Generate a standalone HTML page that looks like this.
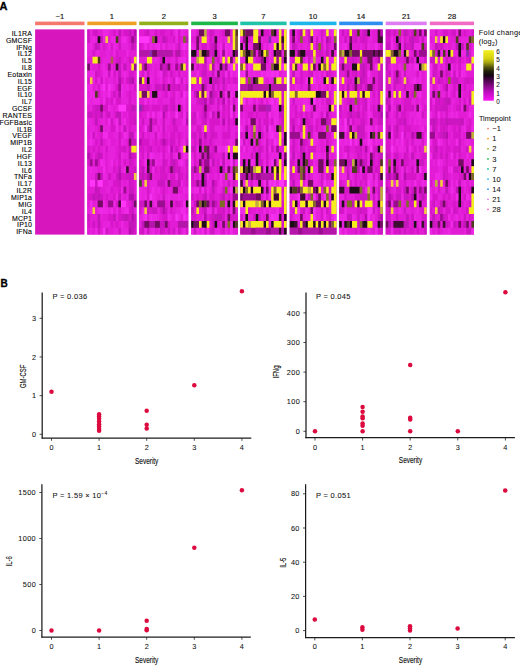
<!DOCTYPE html>
<html><head><meta charset="utf-8"><style>
html,body{margin:0;padding:0;background:#fff;}
svg{display:block;}
text{font-family:"Liberation Sans", sans-serif;}
</style></head><body>
<svg width="520" height="665" viewBox="0 0 520 665" font-family='"Liberation Sans", sans-serif'>
<rect width="520" height="665" fill="#fff"/>
<text x="-0.6" y="9.7" font-size="11" font-weight="bold" stroke="#000" stroke-width="0.3">A</text>
<text x="0.6" y="286.6" font-size="10" font-weight="bold" stroke="#000" stroke-width="0.3">B</text>
<rect x="35.1" y="21.6" width="49.40" height="3.6" fill="#f5786c"/>
<text x="59.80" y="19.0" font-size="7.6" text-anchor="middle" fill="#111" stroke="#111" stroke-width="0.15">−1</text>
<rect x="87.3" y="21.6" width="49.20" height="3.6" fill="#eea025"/>
<text x="111.90" y="19.0" font-size="7.6" text-anchor="middle" fill="#111" stroke="#111" stroke-width="0.15">1</text>
<rect x="139.2" y="21.6" width="49.10" height="3.6" fill="#92b01c"/>
<text x="163.75" y="19.0" font-size="7.6" text-anchor="middle" fill="#111" stroke="#111" stroke-width="0.15">2</text>
<rect x="191.2" y="21.6" width="46.70" height="3.6" fill="#1eb84a"/>
<text x="214.55" y="19.0" font-size="7.6" text-anchor="middle" fill="#111" stroke="#111" stroke-width="0.15">3</text>
<rect x="240.3" y="21.6" width="46.30" height="3.6" fill="#1ec3a8"/>
<text x="263.45" y="19.0" font-size="7.6" text-anchor="middle" fill="#111" stroke="#111" stroke-width="0.15">7</text>
<rect x="289.7" y="21.6" width="46.80" height="3.6" fill="#1db6ea"/>
<text x="313.10" y="19.0" font-size="7.6" text-anchor="middle" fill="#111" stroke="#111" stroke-width="0.15">10</text>
<rect x="339.2" y="21.6" width="43.60" height="3.6" fill="#2e8ef2"/>
<text x="361.00" y="19.0" font-size="7.6" text-anchor="middle" fill="#111" stroke="#111" stroke-width="0.15">14</text>
<rect x="385.7" y="21.6" width="41.00" height="3.6" fill="#de7cf2"/>
<text x="406.20" y="19.0" font-size="7.6" text-anchor="middle" fill="#111" stroke="#111" stroke-width="0.15">21</text>
<rect x="429.8" y="21.6" width="44.20" height="3.6" fill="#f36ac6"/>
<text x="451.90" y="19.0" font-size="7.6" text-anchor="middle" fill="#111" stroke="#111" stroke-width="0.15">28</text>
<text x="32.2" y="35.82" font-size="7.0" letter-spacing="0.2" text-anchor="end" fill="#000" stroke="#000" stroke-width="0.1">IL1RA</text>
<text x="32.2" y="42.66" font-size="7.0" letter-spacing="0.2" text-anchor="end" fill="#000" stroke="#000" stroke-width="0.1">GMCSF</text>
<text x="32.2" y="49.50" font-size="7.0" letter-spacing="0.2" text-anchor="end" fill="#000" stroke="#000" stroke-width="0.1">IFNg</text>
<text x="32.2" y="56.34" font-size="7.0" letter-spacing="0.2" text-anchor="end" fill="#000" stroke="#000" stroke-width="0.1">IL12</text>
<text x="32.2" y="63.18" font-size="7.0" letter-spacing="0.2" text-anchor="end" fill="#000" stroke="#000" stroke-width="0.1">IL5</text>
<text x="32.2" y="70.02" font-size="7.0" letter-spacing="0.2" text-anchor="end" fill="#000" stroke="#000" stroke-width="0.1">IL8</text>
<text x="32.2" y="76.86" font-size="7.0" letter-spacing="0.2" text-anchor="end" fill="#000" stroke="#000" stroke-width="0.1">Eotaxin</text>
<text x="32.2" y="83.70" font-size="7.0" letter-spacing="0.2" text-anchor="end" fill="#000" stroke="#000" stroke-width="0.1">IL15</text>
<text x="32.2" y="90.54" font-size="7.0" letter-spacing="0.2" text-anchor="end" fill="#000" stroke="#000" stroke-width="0.1">EGF</text>
<text x="32.2" y="97.38" font-size="7.0" letter-spacing="0.2" text-anchor="end" fill="#000" stroke="#000" stroke-width="0.1">IL10</text>
<text x="32.2" y="104.22" font-size="7.0" letter-spacing="0.2" text-anchor="end" fill="#000" stroke="#000" stroke-width="0.1">IL7</text>
<text x="32.2" y="111.06" font-size="7.0" letter-spacing="0.2" text-anchor="end" fill="#000" stroke="#000" stroke-width="0.1">GCSF</text>
<text x="32.2" y="117.90" font-size="7.0" letter-spacing="0.2" text-anchor="end" fill="#000" stroke="#000" stroke-width="0.1">RANTES</text>
<text x="32.2" y="124.74" font-size="7.0" letter-spacing="0.2" text-anchor="end" fill="#000" stroke="#000" stroke-width="0.1">FGFBasic</text>
<text x="32.2" y="131.58" font-size="7.0" letter-spacing="0.2" text-anchor="end" fill="#000" stroke="#000" stroke-width="0.1">IL1B</text>
<text x="32.2" y="138.42" font-size="7.0" letter-spacing="0.2" text-anchor="end" fill="#000" stroke="#000" stroke-width="0.1">VEGF</text>
<text x="32.2" y="145.26" font-size="7.0" letter-spacing="0.2" text-anchor="end" fill="#000" stroke="#000" stroke-width="0.1">MIP1B</text>
<text x="32.2" y="152.10" font-size="7.0" letter-spacing="0.2" text-anchor="end" fill="#000" stroke="#000" stroke-width="0.1">IL2</text>
<text x="32.2" y="158.94" font-size="7.0" letter-spacing="0.2" text-anchor="end" fill="#000" stroke="#000" stroke-width="0.1">HGF</text>
<text x="32.2" y="165.78" font-size="7.0" letter-spacing="0.2" text-anchor="end" fill="#000" stroke="#000" stroke-width="0.1">IL13</text>
<text x="32.2" y="172.62" font-size="7.0" letter-spacing="0.2" text-anchor="end" fill="#000" stroke="#000" stroke-width="0.1">IL6</text>
<text x="32.2" y="179.46" font-size="7.0" letter-spacing="0.2" text-anchor="end" fill="#000" stroke="#000" stroke-width="0.1">TNFa</text>
<text x="32.2" y="186.30" font-size="7.0" letter-spacing="0.2" text-anchor="end" fill="#000" stroke="#000" stroke-width="0.1">IL17</text>
<text x="32.2" y="193.14" font-size="7.0" letter-spacing="0.2" text-anchor="end" fill="#000" stroke="#000" stroke-width="0.1">IL2R</text>
<text x="32.2" y="199.98" font-size="7.0" letter-spacing="0.2" text-anchor="end" fill="#000" stroke="#000" stroke-width="0.1">MIP1a</text>
<text x="32.2" y="206.82" font-size="7.0" letter-spacing="0.2" text-anchor="end" fill="#000" stroke="#000" stroke-width="0.1">MIG</text>
<text x="32.2" y="213.66" font-size="7.0" letter-spacing="0.2" text-anchor="end" fill="#000" stroke="#000" stroke-width="0.1">IL4</text>
<text x="32.2" y="220.50" font-size="7.0" letter-spacing="0.2" text-anchor="end" fill="#000" stroke="#000" stroke-width="0.1">MCP1</text>
<text x="32.2" y="227.34" font-size="7.0" letter-spacing="0.2" text-anchor="end" fill="#000" stroke="#000" stroke-width="0.1">IP10</text>
<text x="32.2" y="234.18" font-size="7.0" letter-spacing="0.2" text-anchor="end" fill="#000" stroke="#000" stroke-width="0.1">IFNa</text>
<defs><filter id="hb" x="-2%" y="-2%" width="104%" height="104%"><feGaussianBlur stdDeviation="0.35"/></filter></defs>
<g filter="url(#hb)">
<rect x="35.1" y="29.4" width="49.40" height="205.20" fill="#d719be"/>
<rect x="87.3" y="29.4" width="49.20" height="205.20" fill="#e21cd4"/>
<rect x="139.2" y="29.4" width="49.10" height="205.20" fill="#e21cd4"/>
<rect x="191.2" y="29.4" width="46.70" height="205.20" fill="#e21cd4"/>
<rect x="240.3" y="29.4" width="46.30" height="205.20" fill="#e21cd4"/>
<rect x="289.7" y="29.4" width="46.80" height="205.20" fill="#e21cd4"/>
<rect x="339.2" y="29.4" width="43.60" height="205.20" fill="#e21cd4"/>
<rect x="385.7" y="29.4" width="41.00" height="205.20" fill="#e21cd4"/>
<rect x="429.8" y="29.4" width="44.20" height="205.20" fill="#e21cd4"/>
<path fill="#cc16c1" d="M87.30 29.40h2.59v6.84h-2.59zM95.07 29.40h2.59v6.84h-2.59zM87.30 36.24h2.59v6.84h-2.59zM97.66 43.08h2.59v6.84h-2.59zM118.37 43.08h2.59v6.84h-2.59zM118.37 56.76h2.59v6.84h-2.59zM128.73 56.76h2.59v6.84h-2.59zM118.37 63.60h2.59v6.84h-2.59zM95.07 70.44h2.59v6.84h-2.59zM108.02 70.44h2.59v6.84h-2.59zM100.25 77.28h2.59v6.84h-2.59zM113.19 90.96h2.59v6.84h-2.59zM95.07 104.64h5.18v6.84h-5.18zM133.91 104.64h2.59v6.84h-2.59zM87.30 111.48h5.18v6.84h-5.18zM95.07 111.48h2.59v6.84h-2.59zM108.02 111.48h2.59v6.84h-2.59zM110.61 118.32h2.59v6.84h-2.59zM133.91 118.32h2.59v6.84h-2.59zM92.48 132.00h2.59v6.84h-2.59zM118.37 132.00h2.59v6.84h-2.59zM131.32 138.84h5.18v6.84h-5.18zM123.55 145.68h2.59v6.84h-2.59zM100.25 152.52h2.59v6.84h-2.59zM118.37 152.52h2.59v6.84h-2.59zM131.32 152.52h2.59v6.84h-2.59zM128.73 159.36h2.59v6.84h-2.59zM133.91 166.20h2.59v6.84h-2.59zM95.07 173.04h2.59v6.84h-2.59zM108.02 173.04h2.59v6.84h-2.59zM115.78 173.04h2.59v6.84h-2.59zM126.14 173.04h7.77v6.84h-7.77zM95.07 179.88h2.59v6.84h-2.59zM118.37 179.88h2.59v6.84h-2.59zM128.73 179.88h2.59v6.84h-2.59zM97.66 186.72h2.59v6.84h-2.59zM128.73 186.72h5.18v6.84h-5.18zM95.07 193.56h2.59v6.84h-2.59zM100.25 193.56h2.59v6.84h-2.59zM131.32 200.40h2.59v6.84h-2.59zM131.32 207.24h2.59v6.84h-2.59zM87.30 214.08h2.59v6.84h-2.59zM120.96 214.08h2.59v6.84h-2.59zM133.91 214.08h2.59v6.84h-2.59zM92.48 220.92h2.59v6.84h-2.59zM133.91 220.92h2.59v6.84h-2.59zM97.66 227.76h2.59v6.84h-2.59zM105.43 227.76h2.59v6.84h-2.59zM118.37 227.76h2.59v6.84h-2.59zM146.95 29.40h2.58v6.84h-2.58zM165.04 36.24h2.58v6.84h-2.58zM177.96 43.08h2.58v6.84h-2.58zM162.46 63.60h2.58v6.84h-2.58zM146.95 70.44h2.58v6.84h-2.58zM162.46 70.44h2.58v6.84h-2.58zM170.21 70.44h2.58v6.84h-2.58zM172.79 77.28h2.58v6.84h-2.58zM180.55 77.28h2.58v6.84h-2.58zM154.71 84.12h5.17v6.84h-5.17zM172.79 84.12h2.58v6.84h-2.58zM177.96 84.12h2.58v6.84h-2.58zM185.72 84.12h2.58v6.84h-2.58zM162.46 104.64h2.58v6.84h-2.58zM172.79 104.64h2.58v6.84h-2.58zM185.72 111.48h2.58v6.84h-2.58zM141.78 118.32h2.58v6.84h-2.58zM154.71 118.32h2.58v6.84h-2.58zM162.46 118.32h2.58v6.84h-2.58zM146.95 125.16h2.58v6.84h-2.58zM162.46 125.16h2.58v6.84h-2.58zM141.78 132.00h2.58v6.84h-2.58zM154.71 132.00h2.58v6.84h-2.58zM165.04 138.84h2.58v6.84h-2.58zM170.21 138.84h2.58v6.84h-2.58zM185.72 138.84h2.58v6.84h-2.58zM149.54 145.68h2.58v6.84h-2.58zM175.38 145.68h2.58v6.84h-2.58zM146.95 152.52h2.58v6.84h-2.58zM170.21 152.52h2.58v6.84h-2.58zM149.54 159.36h2.58v6.84h-2.58zM162.46 159.36h2.58v6.84h-2.58zM170.21 159.36h2.58v6.84h-2.58zM185.72 159.36h2.58v6.84h-2.58zM162.46 166.20h2.58v6.84h-2.58zM177.96 166.20h2.58v6.84h-2.58zM139.20 173.04h2.58v6.84h-2.58zM177.96 173.04h2.58v6.84h-2.58zM185.72 173.04h2.58v6.84h-2.58zM157.29 179.88h7.75v6.84h-7.75zM170.21 179.88h2.58v6.84h-2.58zM162.46 193.56h2.58v6.84h-2.58zM139.20 200.40h5.17v6.84h-5.17zM175.38 200.40h2.58v6.84h-2.58zM146.95 207.24h2.58v6.84h-2.58zM152.12 207.24h5.17v6.84h-5.17zM165.04 207.24h2.58v6.84h-2.58zM159.87 220.92h2.58v6.84h-2.58zM141.78 227.76h2.58v6.84h-2.58zM146.95 227.76h2.58v6.84h-2.58zM159.87 227.76h2.58v6.84h-2.58zM167.63 227.76h2.58v6.84h-2.58zM172.79 227.76h2.58v6.84h-2.58zM177.96 227.76h2.58v6.84h-2.58zM209.36 29.40h2.59v6.84h-2.59zM211.96 43.08h2.59v6.84h-2.59zM222.33 43.08h2.59v6.84h-2.59zM211.96 49.92h2.59v6.84h-2.59zM217.14 56.76h2.59v6.84h-2.59zM204.17 63.60h2.59v6.84h-2.59zM222.33 63.60h2.59v6.84h-2.59zM201.58 70.44h5.19v6.84h-5.19zM211.96 70.44h2.59v6.84h-2.59zM196.39 77.28h2.59v6.84h-2.59zM211.96 77.28h2.59v6.84h-2.59zM217.14 77.28h2.59v6.84h-2.59zM222.33 84.12h2.59v6.84h-2.59zM193.79 90.96h2.59v6.84h-2.59zM198.98 97.80h5.19v6.84h-5.19zM211.96 97.80h2.59v6.84h-2.59zM217.14 97.80h2.59v6.84h-2.59zM227.52 97.80h2.59v6.84h-2.59zM222.33 104.64h2.59v6.84h-2.59zM193.79 111.48h2.59v6.84h-2.59zM191.20 118.32h2.59v6.84h-2.59zM204.17 118.32h2.59v6.84h-2.59zM227.52 118.32h2.59v6.84h-2.59zM193.79 132.00h2.59v6.84h-2.59zM198.98 132.00h2.59v6.84h-2.59zM211.96 132.00h2.59v6.84h-2.59zM209.36 138.84h2.59v6.84h-2.59zM191.20 145.68h5.19v6.84h-5.19zM204.17 152.52h2.59v6.84h-2.59zM209.36 152.52h2.59v6.84h-2.59zM232.71 159.36h2.59v6.84h-2.59zM191.20 166.20h2.59v6.84h-2.59zM196.39 166.20h2.59v6.84h-2.59zM198.98 179.88h2.59v6.84h-2.59zM227.52 179.88h2.59v6.84h-2.59zM222.33 186.72h2.59v6.84h-2.59zM191.20 193.56h2.59v6.84h-2.59zM193.79 200.40h2.59v6.84h-2.59zM211.96 207.24h2.59v6.84h-2.59zM222.33 207.24h2.59v6.84h-2.59zM211.96 214.08h2.59v6.84h-2.59zM211.96 220.92h2.59v6.84h-2.59zM193.79 227.76h2.59v6.84h-2.59zM211.96 227.76h2.59v6.84h-2.59zM258.31 56.76h2.57v6.84h-2.57zM250.59 77.28h2.57v6.84h-2.57zM266.02 111.48h2.57v6.84h-2.57zM278.88 111.48h5.14v6.84h-5.14zM258.31 118.32h2.57v6.84h-2.57zM281.46 118.32h2.57v6.84h-2.57zM258.31 125.16h2.57v6.84h-2.57zM260.88 132.00h2.57v6.84h-2.57zM242.87 138.84h2.57v6.84h-2.57zM266.02 138.84h2.57v6.84h-2.57zM281.46 138.84h2.57v6.84h-2.57zM258.31 145.68h2.57v6.84h-2.57zM266.02 145.68h2.57v6.84h-2.57zM271.17 145.68h2.57v6.84h-2.57zM250.59 152.52h2.57v6.84h-2.57zM258.31 152.52h2.57v6.84h-2.57zM258.31 159.36h2.57v6.84h-2.57zM307.90 29.40h2.60v6.84h-2.60zM307.90 36.24h2.60v6.84h-2.60zM328.70 36.24h2.60v6.84h-2.60zM315.70 43.08h2.60v6.84h-2.60zM326.10 43.08h2.60v6.84h-2.60zM305.30 49.92h7.80v6.84h-7.80zM318.30 49.92h2.60v6.84h-2.60zM307.90 56.76h2.60v6.84h-2.60zM310.50 70.44h2.60v6.84h-2.60zM326.10 70.44h2.60v6.84h-2.60zM289.70 77.28h2.60v6.84h-2.60zM292.30 97.80h2.60v6.84h-2.60zM326.10 97.80h5.20v6.84h-5.20zM310.50 111.48h2.60v6.84h-2.60zM292.30 118.32h2.60v6.84h-2.60zM305.30 118.32h2.60v6.84h-2.60zM328.70 118.32h2.60v6.84h-2.60zM300.10 125.16h2.60v6.84h-2.60zM307.90 125.16h5.20v6.84h-5.20zM292.30 138.84h2.60v6.84h-2.60zM302.70 138.84h2.60v6.84h-2.60zM326.10 138.84h2.60v6.84h-2.60zM292.30 145.68h2.60v6.84h-2.60zM300.10 152.52h2.60v6.84h-2.60zM307.90 159.36h2.60v6.84h-2.60zM328.70 159.36h2.60v6.84h-2.60zM289.70 173.04h2.60v6.84h-2.60zM320.90 173.04h2.60v6.84h-2.60zM328.70 186.72h2.60v6.84h-2.60zM307.90 193.56h2.60v6.84h-2.60zM302.70 207.24h2.60v6.84h-2.60zM326.10 207.24h2.60v6.84h-2.60zM341.76 29.40h2.56v6.84h-2.56zM354.59 29.40h2.56v6.84h-2.56zM362.28 29.40h2.56v6.84h-2.56zM344.33 36.24h2.56v6.84h-2.56zM354.59 36.24h2.56v6.84h-2.56zM362.28 36.24h2.56v6.84h-2.56zM346.89 56.76h2.56v6.84h-2.56zM352.02 56.76h2.56v6.84h-2.56zM346.89 63.60h2.56v6.84h-2.56zM359.72 63.60h2.56v6.84h-2.56zM380.24 63.60h2.56v6.84h-2.56zM354.59 70.44h2.56v6.84h-2.56zM377.67 70.44h5.13v6.84h-5.13zM362.28 77.28h2.56v6.84h-2.56zM377.67 77.28h2.56v6.84h-2.56zM359.72 84.12h2.56v6.84h-2.56zM364.85 84.12h2.56v6.84h-2.56zM377.67 84.12h2.56v6.84h-2.56zM377.67 90.96h2.56v6.84h-2.56zM349.46 97.80h2.56v6.84h-2.56zM357.15 97.80h2.56v6.84h-2.56zM364.85 97.80h2.56v6.84h-2.56zM339.20 104.64h2.56v6.84h-2.56zM364.85 104.64h2.56v6.84h-2.56zM380.24 104.64h2.56v6.84h-2.56zM377.67 111.48h2.56v6.84h-2.56zM362.28 118.32h2.56v6.84h-2.56zM377.67 118.32h5.13v6.84h-5.13zM359.72 125.16h5.13v6.84h-5.13zM357.15 132.00h7.69v6.84h-7.69zM346.89 145.68h2.56v6.84h-2.56zM359.72 145.68h2.56v6.84h-2.56zM375.11 145.68h2.56v6.84h-2.56zM357.15 152.52h2.56v6.84h-2.56zM372.54 152.52h2.56v6.84h-2.56zM346.89 159.36h5.13v6.84h-5.13zM364.85 159.36h2.56v6.84h-2.56zM346.89 166.20h2.56v6.84h-2.56zM375.11 166.20h2.56v6.84h-2.56zM372.54 173.04h2.56v6.84h-2.56zM377.67 173.04h2.56v6.84h-2.56zM380.24 179.88h2.56v6.84h-2.56zM362.28 186.72h2.56v6.84h-2.56zM377.67 186.72h2.56v6.84h-2.56zM359.72 193.56h7.69v6.84h-7.69zM372.54 193.56h2.56v6.84h-2.56zM377.67 193.56h2.56v6.84h-2.56zM339.20 207.24h2.56v6.84h-2.56zM359.72 207.24h2.56v6.84h-2.56zM372.54 207.24h2.56v6.84h-2.56zM346.89 214.08h5.13v6.84h-5.13zM357.15 214.08h2.56v6.84h-2.56zM377.67 214.08h2.56v6.84h-2.56zM357.15 220.92h2.56v6.84h-2.56zM380.24 227.76h2.56v6.84h-2.56zM385.70 29.40h5.12v6.84h-5.12zM393.39 29.40h2.56v6.84h-2.56zM406.20 29.40h2.56v6.84h-2.56zM411.32 29.40h2.56v6.84h-2.56zM398.51 36.24h2.56v6.84h-2.56zM408.76 36.24h2.56v6.84h-2.56zM421.57 36.24h2.56v6.84h-2.56zM385.70 43.08h5.12v6.84h-5.12zM395.95 43.08h2.56v6.84h-2.56zM424.14 43.08h2.56v6.84h-2.56zM411.32 56.76h2.56v6.84h-2.56zM388.26 70.44h2.56v6.84h-2.56zM403.64 70.44h2.56v6.84h-2.56zM393.39 77.28h2.56v6.84h-2.56zM388.26 84.12h2.56v6.84h-2.56zM393.39 84.12h2.56v6.84h-2.56zM403.64 84.12h2.56v6.84h-2.56zM395.95 90.96h2.56v6.84h-2.56zM411.32 90.96h2.56v6.84h-2.56zM388.26 97.80h2.56v6.84h-2.56zM403.64 104.64h2.56v6.84h-2.56zM411.32 104.64h2.56v6.84h-2.56zM395.95 111.48h2.56v6.84h-2.56zM421.57 111.48h2.56v6.84h-2.56zM398.51 118.32h2.56v6.84h-2.56zM395.95 132.00h2.56v6.84h-2.56zM403.64 132.00h2.56v6.84h-2.56zM406.20 145.68h2.56v6.84h-2.56zM388.26 152.52h2.56v6.84h-2.56zM395.95 152.52h2.56v6.84h-2.56zM403.64 152.52h2.56v6.84h-2.56zM419.01 159.36h5.12v6.84h-5.12zM395.95 166.20h2.56v6.84h-2.56zM403.64 166.20h2.56v6.84h-2.56zM411.32 166.20h2.56v6.84h-2.56zM388.26 186.72h2.56v6.84h-2.56zM411.32 186.72h2.56v6.84h-2.56zM421.57 186.72h2.56v6.84h-2.56zM390.82 193.56h2.56v6.84h-2.56zM395.95 193.56h5.12v6.84h-5.12zM403.64 193.56h5.12v6.84h-5.12zM411.32 200.40h2.56v6.84h-2.56zM388.26 207.24h2.56v6.84h-2.56zM403.64 207.24h2.56v6.84h-2.56zM385.70 214.08h2.56v6.84h-2.56zM395.95 214.08h2.56v6.84h-2.56zM411.32 214.08h2.56v6.84h-2.56zM424.14 220.92h2.56v6.84h-2.56zM398.51 227.76h2.56v6.84h-2.56zM403.64 227.76h2.56v6.84h-2.56zM424.14 227.76h2.56v6.84h-2.56zM453.20 29.40h2.60v6.84h-2.60zM440.20 43.08h2.60v6.84h-2.60zM429.80 56.76h5.20v6.84h-5.20zM445.40 56.76h2.60v6.84h-2.60zM450.60 56.76h2.60v6.84h-2.60zM458.40 56.76h2.60v6.84h-2.60zM468.80 56.76h2.60v6.84h-2.60zM435.00 63.60h2.60v6.84h-2.60zM445.40 63.60h2.60v6.84h-2.60zM432.40 70.44h2.60v6.84h-2.60zM445.40 70.44h2.60v6.84h-2.60zM453.20 70.44h2.60v6.84h-2.60zM437.60 77.28h2.60v6.84h-2.60zM453.20 77.28h5.20v6.84h-5.20zM466.20 77.28h2.60v6.84h-2.60zM437.60 97.80h2.60v6.84h-2.60zM442.80 97.80h2.60v6.84h-2.60zM435.00 104.64h2.60v6.84h-2.60zM440.20 104.64h7.80v6.84h-7.80zM458.40 104.64h2.60v6.84h-2.60zM429.80 118.32h2.60v6.84h-2.60zM435.00 118.32h2.60v6.84h-2.60zM440.20 118.32h2.60v6.84h-2.60zM448.00 118.32h13.00v6.84h-13.00zM442.80 125.16h2.60v6.84h-2.60zM458.40 125.16h2.60v6.84h-2.60zM440.20 132.00h2.60v6.84h-2.60zM458.40 138.84h2.60v6.84h-2.60zM458.40 145.68h2.60v6.84h-2.60zM466.20 145.68h2.60v6.84h-2.60zM432.40 152.52h2.60v6.84h-2.60zM440.20 152.52h2.60v6.84h-2.60zM445.40 152.52h2.60v6.84h-2.60zM453.20 166.20h5.20v6.84h-5.20zM442.80 173.04h2.60v6.84h-2.60zM432.40 200.40h2.60v6.84h-2.60zM453.20 207.24h2.60v6.84h-2.60zM466.20 207.24h2.60v6.84h-2.60zM442.80 214.08h2.60v6.84h-2.60zM463.60 214.08h2.60v6.84h-2.60zM432.40 220.92h2.60v6.84h-2.60zM445.40 220.92h2.60v6.84h-2.60zM466.20 227.76h5.20v6.84h-5.20z"/>
<path fill="#e722dc" d="M89.89 29.40h2.59v6.84h-2.59zM108.02 29.40h2.59v6.84h-2.59zM115.78 29.40h2.59v6.84h-2.59zM89.89 36.24h2.59v6.84h-2.59zM95.07 36.24h2.59v6.84h-2.59zM126.14 36.24h2.59v6.84h-2.59zM87.30 43.08h2.59v6.84h-2.59zM100.25 43.08h2.59v6.84h-2.59zM115.78 43.08h2.59v6.84h-2.59zM120.96 43.08h7.77v6.84h-7.77zM87.30 49.92h5.18v6.84h-5.18zM95.07 49.92h5.18v6.84h-5.18zM105.43 49.92h5.18v6.84h-5.18zM102.84 56.76h7.77v6.84h-7.77zM123.55 56.76h2.59v6.84h-2.59zM89.89 63.60h2.59v6.84h-2.59zM100.25 63.60h2.59v6.84h-2.59zM110.61 63.60h2.59v6.84h-2.59zM120.96 63.60h2.59v6.84h-2.59zM87.30 70.44h2.59v6.84h-2.59zM115.78 70.44h2.59v6.84h-2.59zM120.96 70.44h2.59v6.84h-2.59zM126.14 70.44h2.59v6.84h-2.59zM92.48 77.28h2.59v6.84h-2.59zM108.02 77.28h5.18v6.84h-5.18zM115.78 77.28h2.59v6.84h-2.59zM123.55 77.28h2.59v6.84h-2.59zM95.07 84.12h2.59v6.84h-2.59zM113.19 84.12h2.59v6.84h-2.59zM123.55 84.12h2.59v6.84h-2.59zM131.32 84.12h2.59v6.84h-2.59zM87.30 90.96h2.59v6.84h-2.59zM100.25 90.96h2.59v6.84h-2.59zM105.43 90.96h2.59v6.84h-2.59zM123.55 90.96h2.59v6.84h-2.59zM89.89 97.80h2.59v6.84h-2.59zM120.96 97.80h7.77v6.84h-7.77zM131.32 97.80h2.59v6.84h-2.59zM89.89 104.64h2.59v6.84h-2.59zM110.61 104.64h2.59v6.84h-2.59zM115.78 104.64h2.59v6.84h-2.59zM102.84 111.48h2.59v6.84h-2.59zM110.61 111.48h2.59v6.84h-2.59zM120.96 111.48h2.59v6.84h-2.59zM126.14 111.48h2.59v6.84h-2.59zM87.30 118.32h5.18v6.84h-5.18zM100.25 118.32h5.18v6.84h-5.18zM113.19 118.32h2.59v6.84h-2.59zM120.96 118.32h2.59v6.84h-2.59zM89.89 125.16h5.18v6.84h-5.18zM102.84 125.16h7.77v6.84h-7.77zM126.14 125.16h2.59v6.84h-2.59zM95.07 132.00h2.59v6.84h-2.59zM113.19 132.00h5.18v6.84h-5.18zM87.30 138.84h2.59v6.84h-2.59zM92.48 138.84h2.59v6.84h-2.59zM105.43 138.84h2.59v6.84h-2.59zM115.78 138.84h2.59v6.84h-2.59zM123.55 138.84h2.59v6.84h-2.59zM102.84 145.68h2.59v6.84h-2.59zM108.02 145.68h7.77v6.84h-7.77zM92.48 152.52h2.59v6.84h-2.59zM102.84 152.52h2.59v6.84h-2.59zM108.02 152.52h7.77v6.84h-7.77zM123.55 152.52h5.18v6.84h-5.18zM108.02 159.36h2.59v6.84h-2.59zM115.78 159.36h2.59v6.84h-2.59zM120.96 159.36h2.59v6.84h-2.59zM87.30 166.20h2.59v6.84h-2.59zM92.48 166.20h5.18v6.84h-5.18zM108.02 166.20h5.18v6.84h-5.18zM120.96 166.20h2.59v6.84h-2.59zM87.30 173.04h7.77v6.84h-7.77zM105.43 173.04h2.59v6.84h-2.59zM113.19 173.04h2.59v6.84h-2.59zM87.30 179.88h2.59v6.84h-2.59zM108.02 179.88h5.18v6.84h-5.18zM120.96 179.88h2.59v6.84h-2.59zM126.14 179.88h2.59v6.84h-2.59zM105.43 186.72h5.18v6.84h-5.18zM120.96 193.56h2.59v6.84h-2.59zM126.14 193.56h2.59v6.84h-2.59zM95.07 200.40h2.59v6.84h-2.59zM126.14 200.40h2.59v6.84h-2.59zM87.30 207.24h2.59v6.84h-2.59zM108.02 207.24h2.59v6.84h-2.59zM120.96 207.24h2.59v6.84h-2.59zM133.91 207.24h2.59v6.84h-2.59zM100.25 214.08h2.59v6.84h-2.59zM115.78 214.08h2.59v6.84h-2.59zM102.84 220.92h7.77v6.84h-7.77zM89.89 227.76h2.59v6.84h-2.59zM113.19 227.76h5.18v6.84h-5.18zM120.96 227.76h7.77v6.84h-7.77zM149.54 29.40h5.17v6.84h-5.17zM172.79 29.40h2.58v6.84h-2.58zM183.13 29.40h2.58v6.84h-2.58zM149.54 36.24h2.58v6.84h-2.58zM152.12 43.08h2.58v6.84h-2.58zM167.63 43.08h5.17v6.84h-5.17zM185.72 43.08h2.58v6.84h-2.58zM183.13 49.92h2.58v6.84h-2.58zM144.37 56.76h2.58v6.84h-2.58zM152.12 56.76h2.58v6.84h-2.58zM157.29 56.76h2.58v6.84h-2.58zM165.04 56.76h2.58v6.84h-2.58zM170.21 56.76h5.17v6.84h-5.17zM152.12 63.60h2.58v6.84h-2.58zM157.29 63.60h2.58v6.84h-2.58zM172.79 63.60h2.58v6.84h-2.58zM139.20 70.44h2.58v6.84h-2.58zM149.54 70.44h5.17v6.84h-5.17zM167.63 70.44h2.58v6.84h-2.58zM175.38 70.44h2.58v6.84h-2.58zM180.55 70.44h2.58v6.84h-2.58zM152.12 77.28h2.58v6.84h-2.58zM157.29 77.28h2.58v6.84h-2.58zM152.12 84.12h2.58v6.84h-2.58zM149.54 90.96h2.58v6.84h-2.58zM157.29 90.96h5.17v6.84h-5.17zM177.96 90.96h2.58v6.84h-2.58zM185.72 90.96h2.58v6.84h-2.58zM152.12 97.80h2.58v6.84h-2.58zM162.46 97.80h7.75v6.84h-7.75zM177.96 97.80h2.58v6.84h-2.58zM175.38 104.64h2.58v6.84h-2.58zM144.37 118.32h5.17v6.84h-5.17zM159.87 118.32h2.58v6.84h-2.58zM165.04 118.32h5.17v6.84h-5.17zM180.55 118.32h2.58v6.84h-2.58zM152.12 125.16h2.58v6.84h-2.58zM165.04 125.16h2.58v6.84h-2.58zM177.96 125.16h7.75v6.84h-7.75zM144.37 132.00h2.58v6.84h-2.58zM149.54 132.00h5.17v6.84h-5.17zM159.87 132.00h2.58v6.84h-2.58zM167.63 132.00h2.58v6.84h-2.58zM183.13 132.00h2.58v6.84h-2.58zM149.54 138.84h2.58v6.84h-2.58zM175.38 138.84h2.58v6.84h-2.58zM180.55 138.84h2.58v6.84h-2.58zM154.71 152.52h5.17v6.84h-5.17zM165.04 152.52h5.17v6.84h-5.17zM172.79 152.52h2.58v6.84h-2.58zM185.72 152.52h2.58v6.84h-2.58zM157.29 159.36h5.17v6.84h-5.17zM167.63 159.36h2.58v6.84h-2.58zM183.13 159.36h2.58v6.84h-2.58zM183.13 166.20h2.58v6.84h-2.58zM152.12 173.04h2.58v6.84h-2.58zM167.63 173.04h2.58v6.84h-2.58zM149.54 179.88h7.75v6.84h-7.75zM165.04 179.88h2.58v6.84h-2.58zM141.78 186.72h5.17v6.84h-5.17zM149.54 186.72h2.58v6.84h-2.58zM154.71 186.72h2.58v6.84h-2.58zM167.63 186.72h5.17v6.84h-5.17zM185.72 186.72h2.58v6.84h-2.58zM141.78 193.56h2.58v6.84h-2.58zM154.71 193.56h2.58v6.84h-2.58zM159.87 193.56h2.58v6.84h-2.58zM165.04 193.56h2.58v6.84h-2.58zM170.21 193.56h7.75v6.84h-7.75zM180.55 193.56h5.17v6.84h-5.17zM152.12 200.40h2.58v6.84h-2.58zM167.63 200.40h2.58v6.84h-2.58zM157.29 207.24h2.58v6.84h-2.58zM167.63 207.24h2.58v6.84h-2.58zM175.38 207.24h5.17v6.84h-5.17zM139.20 214.08h2.58v6.84h-2.58zM157.29 214.08h2.58v6.84h-2.58zM170.21 214.08h2.58v6.84h-2.58zM139.20 220.92h2.58v6.84h-2.58zM149.54 227.76h2.58v6.84h-2.58zM157.29 227.76h2.58v6.84h-2.58zM191.20 29.40h5.19v6.84h-5.19zM206.77 29.40h2.59v6.84h-2.59zM214.55 29.40h5.19v6.84h-5.19zM217.14 36.24h5.19v6.84h-5.19zM224.93 36.24h2.59v6.84h-2.59zM193.79 43.08h2.59v6.84h-2.59zM198.98 43.08h2.59v6.84h-2.59zM206.77 43.08h2.59v6.84h-2.59zM196.39 49.92h2.59v6.84h-2.59zM227.52 49.92h5.19v6.84h-5.19zM193.79 56.76h2.59v6.84h-2.59zM193.79 63.60h2.59v6.84h-2.59zM217.14 63.60h2.59v6.84h-2.59zM232.71 70.44h2.59v6.84h-2.59zM206.77 84.12h5.19v6.84h-5.19zM214.55 84.12h2.59v6.84h-2.59zM219.74 84.12h2.59v6.84h-2.59zM230.12 84.12h2.59v6.84h-2.59zM235.31 84.12h2.59v6.84h-2.59zM217.14 90.96h2.59v6.84h-2.59zM232.71 90.96h2.59v6.84h-2.59zM191.20 97.80h5.19v6.84h-5.19zM206.77 97.80h2.59v6.84h-2.59zM214.55 97.80h2.59v6.84h-2.59zM235.31 97.80h2.59v6.84h-2.59zM211.96 104.64h5.19v6.84h-5.19zM235.31 104.64h2.59v6.84h-2.59zM219.74 111.48h2.59v6.84h-2.59zM196.39 118.32h5.19v6.84h-5.19zM206.77 118.32h2.59v6.84h-2.59zM219.74 118.32h2.59v6.84h-2.59zM224.93 118.32h2.59v6.84h-2.59zM193.79 125.16h2.59v6.84h-2.59zM214.55 125.16h7.78v6.84h-7.78zM224.93 125.16h2.59v6.84h-2.59zM230.12 125.16h5.19v6.84h-5.19zM217.14 132.00h5.19v6.84h-5.19zM230.12 132.00h5.19v6.84h-5.19zM214.55 138.84h7.78v6.84h-7.78zM227.52 138.84h2.59v6.84h-2.59zM232.71 138.84h2.59v6.84h-2.59zM191.20 152.52h2.59v6.84h-2.59zM196.39 152.52h2.59v6.84h-2.59zM227.52 159.36h2.59v6.84h-2.59zM201.58 166.20h2.59v6.84h-2.59zM230.12 166.20h2.59v6.84h-2.59zM193.79 173.04h2.59v6.84h-2.59zM214.55 173.04h2.59v6.84h-2.59zM222.33 173.04h2.59v6.84h-2.59zM206.77 179.88h5.19v6.84h-5.19zM217.14 179.88h2.59v6.84h-2.59zM224.93 179.88h2.59v6.84h-2.59zM230.12 179.88h2.59v6.84h-2.59zM235.31 179.88h2.59v6.84h-2.59zM191.20 186.72h2.59v6.84h-2.59zM219.74 186.72h2.59v6.84h-2.59zM227.52 186.72h2.59v6.84h-2.59zM206.77 193.56h2.59v6.84h-2.59zM230.12 193.56h2.59v6.84h-2.59zM191.20 200.40h2.59v6.84h-2.59zM224.93 207.24h2.59v6.84h-2.59zM201.58 214.08h2.59v6.84h-2.59zM224.93 214.08h2.59v6.84h-2.59zM219.74 220.92h2.59v6.84h-2.59zM198.98 227.76h2.59v6.84h-2.59zM214.55 227.76h2.59v6.84h-2.59zM276.31 29.40h2.57v6.84h-2.57zM260.88 36.24h2.57v6.84h-2.57zM276.31 36.24h2.57v6.84h-2.57zM250.59 43.08h2.57v6.84h-2.57zM266.02 43.08h2.57v6.84h-2.57zM255.73 49.92h2.57v6.84h-2.57zM271.17 49.92h2.57v6.84h-2.57zM281.46 49.92h2.57v6.84h-2.57zM240.30 56.76h5.14v6.84h-5.14zM271.17 56.76h2.57v6.84h-2.57zM266.02 63.60h5.14v6.84h-5.14zM250.59 70.44h2.57v6.84h-2.57zM255.73 70.44h5.14v6.84h-5.14zM281.46 70.44h5.14v6.84h-5.14zM263.45 77.28h2.57v6.84h-2.57zM271.17 77.28h2.57v6.84h-2.57zM281.46 77.28h2.57v6.84h-2.57zM273.74 97.80h2.57v6.84h-2.57zM242.87 111.48h2.57v6.84h-2.57zM271.17 111.48h2.57v6.84h-2.57zM240.30 118.32h2.57v6.84h-2.57zM255.73 118.32h2.57v6.84h-2.57zM260.88 118.32h2.57v6.84h-2.57zM268.59 118.32h2.57v6.84h-2.57zM242.87 125.16h2.57v6.84h-2.57zM273.74 125.16h2.57v6.84h-2.57zM248.02 132.00h2.57v6.84h-2.57zM263.45 132.00h2.57v6.84h-2.57zM276.31 132.00h2.57v6.84h-2.57zM281.46 132.00h2.57v6.84h-2.57zM245.44 138.84h2.57v6.84h-2.57zM260.88 138.84h2.57v6.84h-2.57zM268.59 138.84h2.57v6.84h-2.57zM248.02 145.68h5.14v6.84h-5.14zM263.45 145.68h2.57v6.84h-2.57zM273.74 145.68h2.57v6.84h-2.57zM240.30 152.52h10.29v6.84h-10.29zM260.88 152.52h5.14v6.84h-5.14zM268.59 152.52h2.57v6.84h-2.57zM273.74 152.52h2.57v6.84h-2.57zM276.31 159.36h2.57v6.84h-2.57zM281.46 166.20h2.57v6.84h-2.57zM248.02 179.88h2.57v6.84h-2.57zM255.73 179.88h2.57v6.84h-2.57zM276.31 179.88h2.57v6.84h-2.57zM263.45 186.72h2.57v6.84h-2.57zM255.73 207.24h2.57v6.84h-2.57zM271.17 207.24h5.14v6.84h-5.14zM248.02 214.08h5.14v6.84h-5.14zM260.88 214.08h2.57v6.84h-2.57zM294.90 29.40h2.60v6.84h-2.60zM318.30 29.40h2.60v6.84h-2.60zM328.70 29.40h2.60v6.84h-2.60zM294.90 36.24h2.60v6.84h-2.60zM305.30 36.24h2.60v6.84h-2.60zM331.30 36.24h2.60v6.84h-2.60zM297.50 43.08h2.60v6.84h-2.60zM302.70 43.08h5.20v6.84h-5.20zM313.10 43.08h2.60v6.84h-2.60zM331.30 43.08h2.60v6.84h-2.60zM310.50 56.76h2.60v6.84h-2.60zM315.70 56.76h5.20v6.84h-5.20zM328.70 56.76h2.60v6.84h-2.60zM289.70 70.44h2.60v6.84h-2.60zM315.70 70.44h2.60v6.84h-2.60zM333.90 70.44h2.60v6.84h-2.60zM315.70 77.28h2.60v6.84h-2.60zM320.90 77.28h2.60v6.84h-2.60zM297.50 84.12h2.60v6.84h-2.60zM302.70 84.12h5.20v6.84h-5.20zM310.50 84.12h5.20v6.84h-5.20zM323.50 84.12h2.60v6.84h-2.60zM331.30 90.96h2.60v6.84h-2.60zM289.70 97.80h2.60v6.84h-2.60zM294.90 97.80h7.80v6.84h-7.80zM307.90 97.80h2.60v6.84h-2.60zM315.70 97.80h2.60v6.84h-2.60zM323.50 97.80h2.60v6.84h-2.60zM331.30 97.80h2.60v6.84h-2.60zM315.70 104.64h2.60v6.84h-2.60zM320.90 104.64h5.20v6.84h-5.20zM292.30 111.48h2.60v6.84h-2.60zM302.70 111.48h2.60v6.84h-2.60zM318.30 111.48h2.60v6.84h-2.60zM331.30 111.48h5.20v6.84h-5.20zM294.90 125.16h2.60v6.84h-2.60zM313.10 125.16h2.60v6.84h-2.60zM289.70 138.84h2.60v6.84h-2.60zM297.50 138.84h2.60v6.84h-2.60zM307.90 138.84h2.60v6.84h-2.60zM318.30 138.84h2.60v6.84h-2.60zM323.50 138.84h2.60v6.84h-2.60zM331.30 138.84h2.60v6.84h-2.60zM297.50 145.68h2.60v6.84h-2.60zM305.30 145.68h2.60v6.84h-2.60zM315.70 145.68h5.20v6.84h-5.20zM289.70 152.52h2.60v6.84h-2.60zM294.90 152.52h2.60v6.84h-2.60zM313.10 152.52h2.60v6.84h-2.60zM320.90 152.52h2.60v6.84h-2.60zM328.70 152.52h2.60v6.84h-2.60zM333.90 152.52h2.60v6.84h-2.60zM294.90 159.36h2.60v6.84h-2.60zM315.70 159.36h2.60v6.84h-2.60zM323.50 159.36h2.60v6.84h-2.60zM305.30 166.20h2.60v6.84h-2.60zM305.30 173.04h2.60v6.84h-2.60zM318.30 173.04h2.60v6.84h-2.60zM323.50 173.04h2.60v6.84h-2.60zM294.90 179.88h2.60v6.84h-2.60zM318.30 179.88h2.60v6.84h-2.60zM326.10 179.88h2.60v6.84h-2.60zM289.70 193.56h5.20v6.84h-5.20zM320.90 193.56h2.60v6.84h-2.60zM328.70 200.40h2.60v6.84h-2.60zM315.70 207.24h5.20v6.84h-5.20zM292.30 214.08h2.60v6.84h-2.60zM302.70 214.08h2.60v6.84h-2.60zM315.70 214.08h5.20v6.84h-5.20zM297.50 220.92h2.60v6.84h-2.60zM339.20 29.40h2.56v6.84h-2.56zM369.98 29.40h2.56v6.84h-2.56zM341.76 36.24h2.56v6.84h-2.56zM346.89 36.24h2.56v6.84h-2.56zM367.41 36.24h5.13v6.84h-5.13zM339.20 43.08h2.56v6.84h-2.56zM359.72 43.08h2.56v6.84h-2.56zM369.98 43.08h5.13v6.84h-5.13zM339.20 56.76h2.56v6.84h-2.56zM369.98 70.44h2.56v6.84h-2.56zM344.33 84.12h2.56v6.84h-2.56zM369.98 90.96h2.56v6.84h-2.56zM375.11 90.96h2.56v6.84h-2.56zM341.76 97.80h2.56v6.84h-2.56zM369.98 97.80h2.56v6.84h-2.56zM375.11 97.80h2.56v6.84h-2.56zM341.76 104.64h2.56v6.84h-2.56zM346.89 104.64h2.56v6.84h-2.56zM354.59 104.64h2.56v6.84h-2.56zM359.72 104.64h2.56v6.84h-2.56zM339.20 118.32h2.56v6.84h-2.56zM339.20 125.16h5.13v6.84h-5.13zM352.02 125.16h2.56v6.84h-2.56zM344.33 132.00h2.56v6.84h-2.56zM341.76 138.84h2.56v6.84h-2.56zM346.89 138.84h2.56v6.84h-2.56zM357.15 138.84h2.56v6.84h-2.56zM362.28 138.84h5.13v6.84h-5.13zM377.67 138.84h2.56v6.84h-2.56zM341.76 145.68h2.56v6.84h-2.56zM367.41 145.68h2.56v6.84h-2.56zM341.76 152.52h2.56v6.84h-2.56zM349.46 152.52h5.13v6.84h-5.13zM349.46 166.20h2.56v6.84h-2.56zM339.20 173.04h2.56v6.84h-2.56zM352.02 173.04h2.56v6.84h-2.56zM359.72 173.04h2.56v6.84h-2.56zM344.33 179.88h2.56v6.84h-2.56zM352.02 179.88h2.56v6.84h-2.56zM357.15 179.88h2.56v6.84h-2.56zM339.20 193.56h5.13v6.84h-5.13zM375.11 207.24h2.56v6.84h-2.56zM354.59 214.08h2.56v6.84h-2.56zM359.72 214.08h2.56v6.84h-2.56zM369.98 214.08h2.56v6.84h-2.56zM341.76 220.92h2.56v6.84h-2.56zM357.15 227.76h2.56v6.84h-2.56zM369.98 227.76h2.56v6.84h-2.56zM421.57 29.40h2.56v6.84h-2.56zM419.01 36.24h2.56v6.84h-2.56zM408.76 49.92h2.56v6.84h-2.56zM413.89 56.76h2.56v6.84h-2.56zM419.01 56.76h5.12v6.84h-5.12zM393.39 63.60h2.56v6.84h-2.56zM401.07 63.60h2.56v6.84h-2.56zM406.20 63.60h2.56v6.84h-2.56zM411.32 63.60h2.56v6.84h-2.56zM406.20 70.44h10.25v6.84h-10.25zM424.14 70.44h2.56v6.84h-2.56zM408.76 77.28h2.56v6.84h-2.56zM416.45 77.28h2.56v6.84h-2.56zM424.14 77.28h2.56v6.84h-2.56zM424.14 84.12h2.56v6.84h-2.56zM385.70 90.96h2.56v6.84h-2.56zM401.07 90.96h5.12v6.84h-5.12zM398.51 97.80h2.56v6.84h-2.56zM411.32 97.80h5.12v6.84h-5.12zM419.01 97.80h2.56v6.84h-2.56zM424.14 97.80h2.56v6.84h-2.56zM393.39 104.64h2.56v6.84h-2.56zM401.07 104.64h2.56v6.84h-2.56zM413.89 104.64h2.56v6.84h-2.56zM398.51 111.48h2.56v6.84h-2.56zM408.76 111.48h7.69v6.84h-7.69zM390.82 118.32h5.12v6.84h-5.12zM408.76 118.32h2.56v6.84h-2.56zM416.45 118.32h2.56v6.84h-2.56zM421.57 118.32h5.12v6.84h-5.12zM401.07 125.16h2.56v6.84h-2.56zM419.01 125.16h2.56v6.84h-2.56zM398.51 138.84h2.56v6.84h-2.56zM408.76 138.84h2.56v6.84h-2.56zM413.89 138.84h7.69v6.84h-7.69zM393.39 145.68h2.56v6.84h-2.56zM403.64 145.68h2.56v6.84h-2.56zM416.45 145.68h2.56v6.84h-2.56zM401.07 152.52h2.56v6.84h-2.56zM408.76 152.52h2.56v6.84h-2.56zM416.45 152.52h2.56v6.84h-2.56zM413.89 159.36h2.56v6.84h-2.56zM406.20 166.20h2.56v6.84h-2.56zM424.14 166.20h2.56v6.84h-2.56zM416.45 173.04h2.56v6.84h-2.56zM406.20 179.88h5.12v6.84h-5.12zM424.14 179.88h2.56v6.84h-2.56zM393.39 186.72h2.56v6.84h-2.56zM401.07 186.72h2.56v6.84h-2.56zM416.45 193.56h2.56v6.84h-2.56zM401.07 200.40h2.56v6.84h-2.56zM393.39 207.24h2.56v6.84h-2.56zM401.07 207.24h2.56v6.84h-2.56zM406.20 207.24h5.12v6.84h-5.12zM413.89 207.24h2.56v6.84h-2.56zM390.82 214.08h2.56v6.84h-2.56zM416.45 214.08h5.12v6.84h-5.12zM429.80 29.40h5.20v6.84h-5.20zM437.60 29.40h5.20v6.84h-5.20zM468.80 29.40h2.60v6.84h-2.60zM432.40 36.24h2.60v6.84h-2.60zM448.00 36.24h2.60v6.84h-2.60zM461.00 36.24h7.80v6.84h-7.80zM432.40 43.08h2.60v6.84h-2.60zM445.40 43.08h2.60v6.84h-2.60zM450.60 43.08h5.20v6.84h-5.20zM463.60 43.08h2.60v6.84h-2.60zM471.40 43.08h2.60v6.84h-2.60zM453.20 49.92h5.20v6.84h-5.20zM442.80 56.76h2.60v6.84h-2.60zM463.60 56.76h2.60v6.84h-2.60zM442.80 63.60h2.60v6.84h-2.60zM455.80 63.60h2.60v6.84h-2.60zM471.40 63.60h2.60v6.84h-2.60zM440.20 84.12h2.60v6.84h-2.60zM450.60 84.12h2.60v6.84h-2.60zM466.20 84.12h2.60v6.84h-2.60zM471.40 84.12h2.60v6.84h-2.60zM440.20 90.96h5.20v6.84h-5.20zM461.00 90.96h2.60v6.84h-2.60zM450.60 97.80h5.20v6.84h-5.20zM461.00 97.80h2.60v6.84h-2.60zM450.60 104.64h2.60v6.84h-2.60zM468.80 104.64h5.20v6.84h-5.20zM442.80 111.48h2.60v6.84h-2.60zM448.00 111.48h2.60v6.84h-2.60zM453.20 111.48h2.60v6.84h-2.60zM466.20 111.48h2.60v6.84h-2.60zM471.40 111.48h2.60v6.84h-2.60zM463.60 118.32h2.60v6.84h-2.60zM471.40 118.32h2.60v6.84h-2.60zM437.60 125.16h2.60v6.84h-2.60zM448.00 125.16h2.60v6.84h-2.60zM461.00 125.16h2.60v6.84h-2.60zM450.60 132.00h2.60v6.84h-2.60zM461.00 132.00h2.60v6.84h-2.60zM448.00 138.84h2.60v6.84h-2.60zM463.60 138.84h2.60v6.84h-2.60zM468.80 138.84h2.60v6.84h-2.60zM461.00 145.68h2.60v6.84h-2.60zM471.40 145.68h2.60v6.84h-2.60zM455.80 152.52h2.60v6.84h-2.60zM432.40 159.36h2.60v6.84h-2.60zM455.80 159.36h2.60v6.84h-2.60zM463.60 159.36h2.60v6.84h-2.60zM468.80 159.36h2.60v6.84h-2.60zM437.60 166.20h5.20v6.84h-5.20zM440.20 173.04h2.60v6.84h-2.60zM450.60 173.04h2.60v6.84h-2.60zM432.40 179.88h2.60v6.84h-2.60zM461.00 179.88h2.60v6.84h-2.60zM468.80 179.88h2.60v6.84h-2.60zM429.80 186.72h2.60v6.84h-2.60zM440.20 186.72h5.20v6.84h-5.20zM453.20 186.72h2.60v6.84h-2.60zM463.60 186.72h2.60v6.84h-2.60zM437.60 193.56h5.20v6.84h-5.20zM450.60 193.56h2.60v6.84h-2.60zM468.80 193.56h2.60v6.84h-2.60zM435.00 200.40h2.60v6.84h-2.60zM463.60 200.40h2.60v6.84h-2.60zM442.80 207.24h2.60v6.84h-2.60zM458.40 207.24h2.60v6.84h-2.60zM453.20 214.08h2.60v6.84h-2.60zM461.00 214.08h2.60v6.84h-2.60zM466.20 214.08h2.60v6.84h-2.60zM435.00 227.76h2.60v6.84h-2.60zM442.80 227.76h5.20v6.84h-5.20zM463.60 227.76h2.60v6.84h-2.60z"/>
<path fill="#d719ca" d="M92.48 29.40h2.59v6.84h-2.59zM113.19 29.40h2.59v6.84h-2.59zM123.55 29.40h5.18v6.84h-5.18zM118.37 36.24h2.59v6.84h-2.59zM128.73 36.24h2.59v6.84h-2.59zM102.84 43.08h2.59v6.84h-2.59zM110.61 43.08h2.59v6.84h-2.59zM133.91 43.08h2.59v6.84h-2.59zM92.48 49.92h2.59v6.84h-2.59zM115.78 49.92h2.59v6.84h-2.59zM115.78 56.76h2.59v6.84h-2.59zM97.66 63.60h2.59v6.84h-2.59zM97.66 70.44h2.59v6.84h-2.59zM113.19 70.44h2.59v6.84h-2.59zM128.73 70.44h5.18v6.84h-5.18zM87.30 77.28h2.59v6.84h-2.59zM95.07 77.28h2.59v6.84h-2.59zM120.96 77.28h2.59v6.84h-2.59zM126.14 77.28h2.59v6.84h-2.59zM97.66 84.12h2.59v6.84h-2.59zM115.78 84.12h2.59v6.84h-2.59zM133.91 84.12h2.59v6.84h-2.59zM97.66 90.96h2.59v6.84h-2.59zM128.73 90.96h2.59v6.84h-2.59zM105.43 97.80h2.59v6.84h-2.59zM110.61 97.80h2.59v6.84h-2.59zM115.78 97.80h5.18v6.84h-5.18zM128.73 97.80h2.59v6.84h-2.59zM92.48 104.64h2.59v6.84h-2.59zM102.84 104.64h5.18v6.84h-5.18zM126.14 104.64h5.18v6.84h-5.18zM92.48 111.48h2.59v6.84h-2.59zM97.66 111.48h2.59v6.84h-2.59zM105.43 111.48h2.59v6.84h-2.59zM128.73 111.48h7.77v6.84h-7.77zM128.73 118.32h5.18v6.84h-5.18zM97.66 125.16h2.59v6.84h-2.59zM110.61 125.16h5.18v6.84h-5.18zM128.73 125.16h2.59v6.84h-2.59zM100.25 132.00h2.59v6.84h-2.59zM95.07 138.84h2.59v6.84h-2.59zM118.37 138.84h2.59v6.84h-2.59zM87.30 145.68h2.59v6.84h-2.59zM92.48 145.68h2.59v6.84h-2.59zM97.66 145.68h2.59v6.84h-2.59zM105.43 145.68h2.59v6.84h-2.59zM118.37 145.68h5.18v6.84h-5.18zM89.89 152.52h2.59v6.84h-2.59zM95.07 152.52h2.59v6.84h-2.59zM133.91 152.52h2.59v6.84h-2.59zM87.30 159.36h2.59v6.84h-2.59zM97.66 159.36h2.59v6.84h-2.59zM118.37 159.36h2.59v6.84h-2.59zM123.55 159.36h2.59v6.84h-2.59zM131.32 159.36h2.59v6.84h-2.59zM113.19 166.20h2.59v6.84h-2.59zM128.73 166.20h5.18v6.84h-5.18zM120.96 173.04h5.18v6.84h-5.18zM113.19 179.88h5.18v6.84h-5.18zM131.32 179.88h2.59v6.84h-2.59zM110.61 186.72h2.59v6.84h-2.59zM118.37 186.72h2.59v6.84h-2.59zM87.30 193.56h5.18v6.84h-5.18zM105.43 193.56h2.59v6.84h-2.59zM113.19 193.56h2.59v6.84h-2.59zM133.91 193.56h2.59v6.84h-2.59zM115.78 200.40h2.59v6.84h-2.59zM118.37 207.24h2.59v6.84h-2.59zM128.73 207.24h2.59v6.84h-2.59zM108.02 214.08h5.18v6.84h-5.18zM118.37 214.08h2.59v6.84h-2.59zM128.73 214.08h2.59v6.84h-2.59zM87.30 220.92h2.59v6.84h-2.59zM110.61 220.92h2.59v6.84h-2.59zM115.78 220.92h2.59v6.84h-2.59zM133.91 227.76h2.59v6.84h-2.59zM144.37 29.40h2.58v6.84h-2.58zM154.71 29.40h2.58v6.84h-2.58zM159.87 29.40h5.17v6.84h-5.17zM170.21 29.40h2.58v6.84h-2.58zM177.96 29.40h2.58v6.84h-2.58zM172.79 36.24h2.58v6.84h-2.58zM177.96 36.24h2.58v6.84h-2.58zM139.20 43.08h2.58v6.84h-2.58zM159.87 56.76h2.58v6.84h-2.58zM175.38 56.76h2.58v6.84h-2.58zM146.95 63.60h2.58v6.84h-2.58zM177.96 63.60h2.58v6.84h-2.58zM141.78 70.44h2.58v6.84h-2.58zM165.04 70.44h2.58v6.84h-2.58zM177.96 70.44h2.58v6.84h-2.58zM162.46 77.28h2.58v6.84h-2.58zM139.20 84.12h7.75v6.84h-7.75zM159.87 84.12h2.58v6.84h-2.58zM165.04 84.12h2.58v6.84h-2.58zM170.21 84.12h2.58v6.84h-2.58zM175.38 84.12h2.58v6.84h-2.58zM165.04 90.96h2.58v6.84h-2.58zM172.79 90.96h2.58v6.84h-2.58zM180.55 90.96h2.58v6.84h-2.58zM170.21 97.80h5.17v6.84h-5.17zM144.37 104.64h5.17v6.84h-5.17zM152.12 104.64h7.75v6.84h-7.75zM170.21 104.64h2.58v6.84h-2.58zM180.55 104.64h2.58v6.84h-2.58zM139.20 111.48h2.58v6.84h-2.58zM180.55 111.48h2.58v6.84h-2.58zM152.12 118.32h2.58v6.84h-2.58zM139.20 125.16h2.58v6.84h-2.58zM172.79 125.16h5.17v6.84h-5.17zM162.46 132.00h2.58v6.84h-2.58zM170.21 132.00h5.17v6.84h-5.17zM177.96 132.00h2.58v6.84h-2.58zM141.78 138.84h7.75v6.84h-7.75zM154.71 138.84h2.58v6.84h-2.58zM159.87 138.84h2.58v6.84h-2.58zM172.79 138.84h2.58v6.84h-2.58zM177.96 138.84h2.58v6.84h-2.58zM139.20 145.68h5.17v6.84h-5.17zM146.95 145.68h2.58v6.84h-2.58zM157.29 145.68h2.58v6.84h-2.58zM162.46 145.68h2.58v6.84h-2.58zM141.78 152.52h2.58v6.84h-2.58zM162.46 152.52h2.58v6.84h-2.58zM139.20 159.36h2.58v6.84h-2.58zM165.04 159.36h2.58v6.84h-2.58zM175.38 159.36h2.58v6.84h-2.58zM139.20 166.20h2.58v6.84h-2.58zM149.54 166.20h2.58v6.84h-2.58zM154.71 166.20h2.58v6.84h-2.58zM159.87 166.20h2.58v6.84h-2.58zM167.63 166.20h2.58v6.84h-2.58zM175.38 166.20h2.58v6.84h-2.58zM185.72 166.20h2.58v6.84h-2.58zM144.37 173.04h2.58v6.84h-2.58zM159.87 173.04h7.75v6.84h-7.75zM170.21 173.04h5.17v6.84h-5.17zM180.55 173.04h2.58v6.84h-2.58zM146.95 179.88h2.58v6.84h-2.58zM172.79 179.88h5.17v6.84h-5.17zM185.72 179.88h2.58v6.84h-2.58zM146.95 186.72h2.58v6.84h-2.58zM162.46 186.72h2.58v6.84h-2.58zM146.95 193.56h2.58v6.84h-2.58zM177.96 200.40h2.58v6.84h-2.58zM139.20 207.24h2.58v6.84h-2.58zM149.54 207.24h2.58v6.84h-2.58zM159.87 207.24h2.58v6.84h-2.58zM170.21 207.24h2.58v6.84h-2.58zM162.46 214.08h5.17v6.84h-5.17zM167.63 220.92h2.58v6.84h-2.58zM139.20 227.76h2.58v6.84h-2.58zM162.46 227.76h2.58v6.84h-2.58zM185.72 227.76h2.58v6.84h-2.58zM196.39 29.40h2.59v6.84h-2.59zM211.96 29.40h2.59v6.84h-2.59zM222.33 29.40h2.59v6.84h-2.59zM198.98 36.24h2.59v6.84h-2.59zM209.36 36.24h2.59v6.84h-2.59zM201.58 43.08h5.19v6.84h-5.19zM209.36 43.08h2.59v6.84h-2.59zM209.36 49.92h2.59v6.84h-2.59zM196.39 63.60h2.59v6.84h-2.59zM201.58 63.60h2.59v6.84h-2.59zM222.33 70.44h2.59v6.84h-2.59zM227.52 70.44h2.59v6.84h-2.59zM204.17 77.28h5.19v6.84h-5.19zM227.52 77.28h2.59v6.84h-2.59zM232.71 77.28h5.19v6.84h-5.19zM191.20 84.12h2.59v6.84h-2.59zM217.14 84.12h2.59v6.84h-2.59zM214.55 90.96h2.59v6.84h-2.59zM222.33 90.96h2.59v6.84h-2.59zM196.39 97.80h2.59v6.84h-2.59zM232.71 97.80h2.59v6.84h-2.59zM201.58 104.64h2.59v6.84h-2.59zM206.77 104.64h2.59v6.84h-2.59zM217.14 104.64h2.59v6.84h-2.59zM227.52 104.64h2.59v6.84h-2.59zM191.20 111.48h2.59v6.84h-2.59zM201.58 111.48h2.59v6.84h-2.59zM222.33 111.48h2.59v6.84h-2.59zM227.52 111.48h2.59v6.84h-2.59zM232.71 111.48h2.59v6.84h-2.59zM193.79 118.32h2.59v6.84h-2.59zM201.58 118.32h2.59v6.84h-2.59zM209.36 118.32h10.38v6.84h-10.38zM232.71 118.32h2.59v6.84h-2.59zM196.39 125.16h5.19v6.84h-5.19zM209.36 125.16h5.19v6.84h-5.19zM227.52 125.16h2.59v6.84h-2.59zM191.20 132.00h2.59v6.84h-2.59zM209.36 132.00h2.59v6.84h-2.59zM214.55 132.00h2.59v6.84h-2.59zM222.33 132.00h7.78v6.84h-7.78zM235.31 132.00h2.59v6.84h-2.59zM193.79 138.84h2.59v6.84h-2.59zM204.17 138.84h2.59v6.84h-2.59zM211.96 145.68h2.59v6.84h-2.59zM193.79 152.52h2.59v6.84h-2.59zM211.96 152.52h2.59v6.84h-2.59zM193.79 159.36h2.59v6.84h-2.59zM201.58 159.36h2.59v6.84h-2.59zM217.14 159.36h2.59v6.84h-2.59zM209.36 166.20h2.59v6.84h-2.59zM217.14 166.20h2.59v6.84h-2.59zM191.20 173.04h2.59v6.84h-2.59zM191.20 179.88h5.19v6.84h-5.19zM214.55 179.88h2.59v6.84h-2.59zM232.71 179.88h2.59v6.84h-2.59zM198.98 186.72h2.59v6.84h-2.59zM204.17 186.72h2.59v6.84h-2.59zM196.39 193.56h2.59v6.84h-2.59zM201.58 193.56h2.59v6.84h-2.59zM209.36 193.56h5.19v6.84h-5.19zM219.74 193.56h2.59v6.84h-2.59zM227.52 193.56h2.59v6.84h-2.59zM209.36 200.40h2.59v6.84h-2.59zM201.58 207.24h2.59v6.84h-2.59zM217.14 207.24h5.19v6.84h-5.19zM227.52 207.24h2.59v6.84h-2.59zM191.20 214.08h5.19v6.84h-5.19zM209.36 214.08h2.59v6.84h-2.59zM222.33 214.08h2.59v6.84h-2.59zM230.12 214.08h7.78v6.84h-7.78zM204.17 227.76h2.59v6.84h-2.59zM209.36 227.76h2.59v6.84h-2.59zM222.33 227.76h2.59v6.84h-2.59zM263.45 29.40h5.14v6.84h-5.14zM281.46 29.40h2.57v6.84h-2.57zM248.02 36.24h2.57v6.84h-2.57zM260.88 43.08h2.57v6.84h-2.57zM255.73 56.76h2.57v6.84h-2.57zM266.02 56.76h2.57v6.84h-2.57zM245.44 63.60h2.57v6.84h-2.57zM245.44 77.28h2.57v6.84h-2.57zM281.46 90.96h2.57v6.84h-2.57zM260.88 97.80h2.57v6.84h-2.57zM281.46 97.80h2.57v6.84h-2.57zM248.02 111.48h5.14v6.84h-5.14zM255.73 111.48h2.57v6.84h-2.57zM263.45 118.32h5.14v6.84h-5.14zM271.17 118.32h2.57v6.84h-2.57zM250.59 125.16h2.57v6.84h-2.57zM281.46 125.16h2.57v6.84h-2.57zM240.30 132.00h2.57v6.84h-2.57zM250.59 132.00h2.57v6.84h-2.57zM258.31 138.84h2.57v6.84h-2.57zM253.16 145.68h2.57v6.84h-2.57zM260.88 145.68h2.57v6.84h-2.57zM266.02 152.52h2.57v6.84h-2.57zM245.44 159.36h2.57v6.84h-2.57zM260.88 159.36h2.57v6.84h-2.57zM266.02 159.36h2.57v6.84h-2.57zM250.59 179.88h2.57v6.84h-2.57zM281.46 186.72h2.57v6.84h-2.57zM266.02 193.56h2.57v6.84h-2.57zM281.46 200.40h2.57v6.84h-2.57zM248.02 207.24h2.57v6.84h-2.57zM278.88 207.24h5.14v6.84h-5.14zM240.30 214.08h2.57v6.84h-2.57zM253.16 214.08h2.57v6.84h-2.57zM258.31 214.08h2.57v6.84h-2.57zM281.46 220.92h2.57v6.84h-2.57zM289.70 29.40h2.60v6.84h-2.60zM297.50 29.40h2.60v6.84h-2.60zM320.90 29.40h2.60v6.84h-2.60zM297.50 36.24h2.60v6.84h-2.60zM315.70 36.24h2.60v6.84h-2.60zM320.90 36.24h2.60v6.84h-2.60zM294.90 43.08h2.60v6.84h-2.60zM320.90 43.08h2.60v6.84h-2.60zM294.90 49.92h2.60v6.84h-2.60zM315.70 49.92h2.60v6.84h-2.60zM320.90 49.92h2.60v6.84h-2.60zM292.30 56.76h2.60v6.84h-2.60zM289.70 63.60h2.60v6.84h-2.60zM307.90 63.60h2.60v6.84h-2.60zM328.70 63.60h2.60v6.84h-2.60zM300.10 70.44h2.60v6.84h-2.60zM307.90 70.44h2.60v6.84h-2.60zM328.70 70.44h2.60v6.84h-2.60zM294.90 77.28h2.60v6.84h-2.60zM300.10 77.28h2.60v6.84h-2.60zM328.70 77.28h2.60v6.84h-2.60zM328.70 90.96h2.60v6.84h-2.60zM294.90 104.64h2.60v6.84h-2.60zM294.90 111.48h2.60v6.84h-2.60zM300.10 111.48h2.60v6.84h-2.60zM305.30 111.48h2.60v6.84h-2.60zM320.90 111.48h2.60v6.84h-2.60zM289.70 118.32h2.60v6.84h-2.60zM300.10 118.32h2.60v6.84h-2.60zM307.90 118.32h2.60v6.84h-2.60zM315.70 118.32h2.60v6.84h-2.60zM315.70 125.16h2.60v6.84h-2.60zM310.50 132.00h2.60v6.84h-2.60zM326.10 132.00h5.20v6.84h-5.20zM305.30 138.84h2.60v6.84h-2.60zM302.70 145.68h2.60v6.84h-2.60zM307.90 145.68h7.80v6.84h-7.80zM307.90 152.52h2.60v6.84h-2.60zM289.70 159.36h5.20v6.84h-5.20zM300.10 159.36h2.60v6.84h-2.60zM310.50 159.36h2.60v6.84h-2.60zM331.30 159.36h2.60v6.84h-2.60zM289.70 166.20h2.60v6.84h-2.60zM292.30 173.04h2.60v6.84h-2.60zM307.90 173.04h2.60v6.84h-2.60zM326.10 173.04h5.20v6.84h-5.20zM320.90 179.88h2.60v6.84h-2.60zM315.70 193.56h2.60v6.84h-2.60zM292.30 207.24h2.60v6.84h-2.60zM300.10 207.24h2.60v6.84h-2.60zM320.90 207.24h2.60v6.84h-2.60zM289.70 214.08h2.60v6.84h-2.60zM320.90 214.08h2.60v6.84h-2.60zM328.70 214.08h2.60v6.84h-2.60zM346.89 29.40h2.56v6.84h-2.56zM352.02 29.40h2.56v6.84h-2.56zM352.02 36.24h2.56v6.84h-2.56zM359.72 36.24h2.56v6.84h-2.56zM364.85 36.24h2.56v6.84h-2.56zM364.85 43.08h2.56v6.84h-2.56zM349.46 56.76h2.56v6.84h-2.56zM354.59 56.76h2.56v6.84h-2.56zM364.85 56.76h2.56v6.84h-2.56zM375.11 56.76h2.56v6.84h-2.56zM339.20 63.60h2.56v6.84h-2.56zM344.33 63.60h2.56v6.84h-2.56zM349.46 63.60h2.56v6.84h-2.56zM364.85 63.60h2.56v6.84h-2.56zM344.33 70.44h2.56v6.84h-2.56zM352.02 70.44h2.56v6.84h-2.56zM359.72 70.44h2.56v6.84h-2.56zM364.85 70.44h2.56v6.84h-2.56zM346.89 77.28h5.13v6.84h-5.13zM364.85 77.28h2.56v6.84h-2.56zM341.76 84.12h2.56v6.84h-2.56zM352.02 84.12h2.56v6.84h-2.56zM357.15 84.12h2.56v6.84h-2.56zM372.54 84.12h2.56v6.84h-2.56zM372.54 90.96h2.56v6.84h-2.56zM346.89 97.80h2.56v6.84h-2.56zM352.02 97.80h2.56v6.84h-2.56zM362.28 97.80h2.56v6.84h-2.56zM377.67 97.80h2.56v6.84h-2.56zM352.02 104.64h2.56v6.84h-2.56zM357.15 104.64h2.56v6.84h-2.56zM362.28 104.64h2.56v6.84h-2.56zM372.54 104.64h2.56v6.84h-2.56zM339.20 111.48h2.56v6.84h-2.56zM346.89 111.48h2.56v6.84h-2.56zM352.02 111.48h5.13v6.84h-5.13zM362.28 111.48h2.56v6.84h-2.56zM372.54 111.48h5.13v6.84h-5.13zM352.02 118.32h2.56v6.84h-2.56zM359.72 118.32h2.56v6.84h-2.56zM346.89 132.00h2.56v6.84h-2.56zM344.33 145.68h2.56v6.84h-2.56zM354.59 145.68h5.13v6.84h-5.13zM372.54 145.68h2.56v6.84h-2.56zM346.89 152.52h2.56v6.84h-2.56zM359.72 152.52h2.56v6.84h-2.56zM364.85 152.52h2.56v6.84h-2.56zM377.67 152.52h2.56v6.84h-2.56zM372.54 159.36h2.56v6.84h-2.56zM377.67 159.36h2.56v6.84h-2.56zM364.85 166.20h2.56v6.84h-2.56zM377.67 166.20h2.56v6.84h-2.56zM354.59 173.04h2.56v6.84h-2.56zM362.28 173.04h5.13v6.84h-5.13zM339.20 179.88h2.56v6.84h-2.56zM349.46 179.88h2.56v6.84h-2.56zM354.59 179.88h2.56v6.84h-2.56zM359.72 179.88h2.56v6.84h-2.56zM364.85 179.88h2.56v6.84h-2.56zM377.67 179.88h2.56v6.84h-2.56zM344.33 186.72h5.13v6.84h-5.13zM344.33 193.56h2.56v6.84h-2.56zM354.59 193.56h5.13v6.84h-5.13zM362.28 200.40h2.56v6.84h-2.56zM372.54 200.40h2.56v6.84h-2.56zM341.76 207.24h2.56v6.84h-2.56zM357.15 207.24h2.56v6.84h-2.56zM362.28 207.24h5.13v6.84h-5.13zM377.67 207.24h2.56v6.84h-2.56zM354.59 227.76h2.56v6.84h-2.56zM359.72 227.76h5.13v6.84h-5.13zM377.67 227.76h2.56v6.84h-2.56zM416.45 29.40h2.56v6.84h-2.56zM385.70 36.24h5.12v6.84h-5.12zM403.64 36.24h2.56v6.84h-2.56zM413.89 36.24h5.12v6.84h-5.12zM406.20 43.08h5.12v6.84h-5.12zM416.45 49.92h2.56v6.84h-2.56zM403.64 56.76h2.56v6.84h-2.56zM408.76 56.76h2.56v6.84h-2.56zM424.14 56.76h2.56v6.84h-2.56zM385.70 70.44h2.56v6.84h-2.56zM393.39 70.44h2.56v6.84h-2.56zM398.51 70.44h2.56v6.84h-2.56zM416.45 70.44h2.56v6.84h-2.56zM385.70 77.28h2.56v6.84h-2.56zM398.51 77.28h2.56v6.84h-2.56zM406.20 77.28h2.56v6.84h-2.56zM385.70 84.12h2.56v6.84h-2.56zM403.64 97.80h7.69v6.84h-7.69zM406.20 104.64h5.12v6.84h-5.12zM424.14 104.64h2.56v6.84h-2.56zM401.07 111.48h5.12v6.84h-5.12zM385.70 118.32h2.56v6.84h-2.56zM395.95 118.32h2.56v6.84h-2.56zM401.07 118.32h2.56v6.84h-2.56zM385.70 125.16h2.56v6.84h-2.56zM393.39 125.16h2.56v6.84h-2.56zM403.64 125.16h7.69v6.84h-7.69zM393.39 132.00h2.56v6.84h-2.56zM413.89 132.00h2.56v6.84h-2.56zM421.57 132.00h2.56v6.84h-2.56zM385.70 138.84h5.12v6.84h-5.12zM406.20 138.84h2.56v6.84h-2.56zM411.32 138.84h2.56v6.84h-2.56zM421.57 138.84h2.56v6.84h-2.56zM385.70 145.68h5.12v6.84h-5.12zM413.89 145.68h2.56v6.84h-2.56zM419.01 145.68h2.56v6.84h-2.56zM393.39 152.52h2.56v6.84h-2.56zM406.20 152.52h2.56v6.84h-2.56zM421.57 152.52h5.12v6.84h-5.12zM385.70 159.36h2.56v6.84h-2.56zM395.95 159.36h2.56v6.84h-2.56zM403.64 159.36h5.12v6.84h-5.12zM390.82 173.04h2.56v6.84h-2.56zM406.20 173.04h10.25v6.84h-10.25zM421.57 173.04h2.56v6.84h-2.56zM385.70 179.88h2.56v6.84h-2.56zM403.64 179.88h2.56v6.84h-2.56zM395.95 186.72h5.12v6.84h-5.12zM385.70 193.56h2.56v6.84h-2.56zM408.76 193.56h2.56v6.84h-2.56zM419.01 193.56h2.56v6.84h-2.56zM424.14 193.56h2.56v6.84h-2.56zM408.76 200.40h2.56v6.84h-2.56zM385.70 207.24h2.56v6.84h-2.56zM421.57 207.24h2.56v6.84h-2.56zM388.26 214.08h2.56v6.84h-2.56zM421.57 214.08h5.12v6.84h-5.12zM411.32 220.92h2.56v6.84h-2.56zM385.70 227.76h5.12v6.84h-5.12zM393.39 227.76h5.12v6.84h-5.12zM408.76 227.76h5.12v6.84h-5.12zM416.45 227.76h2.56v6.84h-2.56zM435.00 29.40h2.60v6.84h-2.60zM442.80 29.40h5.20v6.84h-5.20zM450.60 29.40h2.60v6.84h-2.60zM463.60 29.40h2.60v6.84h-2.60zM471.40 29.40h2.60v6.84h-2.60zM437.60 43.08h2.60v6.84h-2.60zM468.80 43.08h2.60v6.84h-2.60zM435.00 49.92h2.60v6.84h-2.60zM468.80 49.92h2.60v6.84h-2.60zM453.20 56.76h2.60v6.84h-2.60zM466.20 56.76h2.60v6.84h-2.60zM432.40 63.60h2.60v6.84h-2.60zM458.40 63.60h2.60v6.84h-2.60zM435.00 70.44h2.60v6.84h-2.60zM448.00 70.44h2.60v6.84h-2.60zM458.40 70.44h2.60v6.84h-2.60zM429.80 77.28h2.60v6.84h-2.60zM440.20 77.28h2.60v6.84h-2.60zM445.40 77.28h2.60v6.84h-2.60zM450.60 77.28h2.60v6.84h-2.60zM463.60 77.28h2.60v6.84h-2.60zM468.80 77.28h5.20v6.84h-5.20zM432.40 84.12h2.60v6.84h-2.60zM442.80 84.12h2.60v6.84h-2.60zM453.20 84.12h2.60v6.84h-2.60zM463.60 84.12h2.60v6.84h-2.60zM435.00 90.96h2.60v6.84h-2.60zM445.40 90.96h2.60v6.84h-2.60zM453.20 90.96h2.60v6.84h-2.60zM468.80 90.96h2.60v6.84h-2.60zM429.80 97.80h2.60v6.84h-2.60zM435.00 97.80h2.60v6.84h-2.60zM440.20 97.80h2.60v6.84h-2.60zM458.40 97.80h2.60v6.84h-2.60zM463.60 97.80h2.60v6.84h-2.60zM429.80 104.64h2.60v6.84h-2.60zM437.60 104.64h2.60v6.84h-2.60zM455.80 104.64h2.60v6.84h-2.60zM466.20 104.64h2.60v6.84h-2.60zM435.00 111.48h2.60v6.84h-2.60zM445.40 111.48h2.60v6.84h-2.60zM442.80 118.32h2.60v6.84h-2.60zM468.80 118.32h2.60v6.84h-2.60zM435.00 125.16h2.60v6.84h-2.60zM440.20 125.16h2.60v6.84h-2.60zM445.40 125.16h2.60v6.84h-2.60zM453.20 125.16h2.60v6.84h-2.60zM466.20 125.16h5.20v6.84h-5.20zM437.60 132.00h2.60v6.84h-2.60zM453.20 132.00h7.80v6.84h-7.80zM432.40 138.84h5.20v6.84h-5.20zM445.40 138.84h2.60v6.84h-2.60zM432.40 145.68h2.60v6.84h-2.60zM440.20 145.68h2.60v6.84h-2.60zM445.40 145.68h5.20v6.84h-5.20zM453.20 145.68h5.20v6.84h-5.20zM435.00 152.52h2.60v6.84h-2.60zM453.20 152.52h2.60v6.84h-2.60zM458.40 152.52h2.60v6.84h-2.60zM445.40 159.36h2.60v6.84h-2.60zM442.80 166.20h5.20v6.84h-5.20zM458.40 166.20h2.60v6.84h-2.60zM445.40 173.04h2.60v6.84h-2.60zM458.40 173.04h5.20v6.84h-5.20zM429.80 179.88h2.60v6.84h-2.60zM437.60 179.88h2.60v6.84h-2.60zM448.00 179.88h2.60v6.84h-2.60zM437.60 186.72h2.60v6.84h-2.60zM461.00 186.72h2.60v6.84h-2.60zM468.80 186.72h2.60v6.84h-2.60zM432.40 193.56h5.20v6.84h-5.20zM442.80 193.56h2.60v6.84h-2.60zM448.00 193.56h2.60v6.84h-2.60zM463.60 193.56h2.60v6.84h-2.60zM445.40 200.40h2.60v6.84h-2.60zM453.20 200.40h2.60v6.84h-2.60zM461.00 200.40h2.60v6.84h-2.60zM468.80 200.40h2.60v6.84h-2.60zM429.80 207.24h2.60v6.84h-2.60zM440.20 207.24h2.60v6.84h-2.60zM445.40 207.24h5.20v6.84h-5.20zM455.80 207.24h2.60v6.84h-2.60zM445.40 214.08h2.60v6.84h-2.60zM468.80 214.08h2.60v6.84h-2.60zM435.00 220.92h2.60v6.84h-2.60zM448.00 220.92h2.60v6.84h-2.60zM455.80 220.92h2.60v6.84h-2.60zM461.00 220.92h2.60v6.84h-2.60zM437.60 227.76h2.60v6.84h-2.60z"/>
<path fill="#e21cd4" d="M97.66 29.40h5.18v6.84h-5.18zM110.61 29.40h2.59v6.84h-2.59zM120.96 29.40h2.59v6.84h-2.59zM131.32 29.40h2.59v6.84h-2.59zM108.02 36.24h2.59v6.84h-2.59zM92.48 43.08h2.59v6.84h-2.59zM105.43 43.08h2.59v6.84h-2.59zM128.73 43.08h2.59v6.84h-2.59zM100.25 49.92h5.18v6.84h-5.18zM110.61 49.92h2.59v6.84h-2.59zM118.37 49.92h7.77v6.84h-7.77zM128.73 49.92h7.77v6.84h-7.77zM87.30 56.76h5.18v6.84h-5.18zM100.25 56.76h2.59v6.84h-2.59zM113.19 56.76h2.59v6.84h-2.59zM120.96 56.76h2.59v6.84h-2.59zM126.14 56.76h2.59v6.84h-2.59zM131.32 56.76h2.59v6.84h-2.59zM92.48 63.60h5.18v6.84h-5.18zM105.43 63.60h2.59v6.84h-2.59zM113.19 63.60h2.59v6.84h-2.59zM126.14 63.60h5.18v6.84h-5.18zM100.25 70.44h2.59v6.84h-2.59zM133.91 70.44h2.59v6.84h-2.59zM105.43 77.28h2.59v6.84h-2.59zM113.19 77.28h2.59v6.84h-2.59zM133.91 77.28h2.59v6.84h-2.59zM92.48 84.12h2.59v6.84h-2.59zM105.43 84.12h2.59v6.84h-2.59zM128.73 84.12h2.59v6.84h-2.59zM110.61 90.96h2.59v6.84h-2.59zM115.78 90.96h2.59v6.84h-2.59zM126.14 90.96h2.59v6.84h-2.59zM131.32 90.96h5.18v6.84h-5.18zM100.25 97.80h2.59v6.84h-2.59zM108.02 97.80h2.59v6.84h-2.59zM133.91 97.80h2.59v6.84h-2.59zM87.30 104.64h2.59v6.84h-2.59zM113.19 104.64h2.59v6.84h-2.59zM113.19 111.48h2.59v6.84h-2.59zM123.55 111.48h2.59v6.84h-2.59zM92.48 118.32h2.59v6.84h-2.59zM97.66 118.32h2.59v6.84h-2.59zM105.43 118.32h2.59v6.84h-2.59zM126.14 118.32h2.59v6.84h-2.59zM87.30 125.16h2.59v6.84h-2.59zM95.07 125.16h2.59v6.84h-2.59zM118.37 125.16h2.59v6.84h-2.59zM131.32 125.16h5.18v6.84h-5.18zM87.30 132.00h2.59v6.84h-2.59zM97.66 132.00h2.59v6.84h-2.59zM108.02 132.00h5.18v6.84h-5.18zM120.96 132.00h2.59v6.84h-2.59zM97.66 138.84h2.59v6.84h-2.59zM102.84 138.84h2.59v6.84h-2.59zM110.61 138.84h5.18v6.84h-5.18zM126.14 138.84h2.59v6.84h-2.59zM89.89 145.68h2.59v6.84h-2.59zM95.07 145.68h2.59v6.84h-2.59zM100.25 145.68h2.59v6.84h-2.59zM115.78 145.68h2.59v6.84h-2.59zM126.14 145.68h2.59v6.84h-2.59zM105.43 152.52h2.59v6.84h-2.59zM115.78 152.52h2.59v6.84h-2.59zM92.48 159.36h2.59v6.84h-2.59zM105.43 159.36h2.59v6.84h-2.59zM113.19 159.36h2.59v6.84h-2.59zM126.14 159.36h2.59v6.84h-2.59zM133.91 159.36h2.59v6.84h-2.59zM97.66 166.20h5.18v6.84h-5.18zM105.43 166.20h2.59v6.84h-2.59zM115.78 166.20h2.59v6.84h-2.59zM110.61 173.04h2.59v6.84h-2.59zM102.84 179.88h5.18v6.84h-5.18zM123.55 179.88h2.59v6.84h-2.59zM133.91 179.88h2.59v6.84h-2.59zM87.30 186.72h7.77v6.84h-7.77zM100.25 186.72h5.18v6.84h-5.18zM113.19 186.72h5.18v6.84h-5.18zM126.14 186.72h2.59v6.84h-2.59zM133.91 186.72h2.59v6.84h-2.59zM102.84 193.56h2.59v6.84h-2.59zM108.02 193.56h5.18v6.84h-5.18zM123.55 193.56h2.59v6.84h-2.59zM87.30 200.40h2.59v6.84h-2.59zM92.48 200.40h2.59v6.84h-2.59zM105.43 200.40h2.59v6.84h-2.59zM128.73 200.40h2.59v6.84h-2.59zM95.07 207.24h2.59v6.84h-2.59zM113.19 207.24h2.59v6.84h-2.59zM89.89 214.08h7.77v6.84h-7.77zM102.84 214.08h5.18v6.84h-5.18zM89.89 220.92h2.59v6.84h-2.59zM95.07 220.92h2.59v6.84h-2.59zM100.25 220.92h2.59v6.84h-2.59zM113.19 220.92h2.59v6.84h-2.59zM118.37 220.92h2.59v6.84h-2.59zM123.55 220.92h5.18v6.84h-5.18zM87.30 227.76h2.59v6.84h-2.59zM92.48 227.76h2.59v6.84h-2.59zM100.25 227.76h2.59v6.84h-2.59zM108.02 227.76h5.18v6.84h-5.18zM139.20 29.40h5.17v6.84h-5.17zM157.29 29.40h2.58v6.84h-2.58zM165.04 29.40h5.17v6.84h-5.17zM185.72 29.40h2.58v6.84h-2.58zM157.29 36.24h5.17v6.84h-5.17zM167.63 36.24h5.17v6.84h-5.17zM180.55 36.24h2.58v6.84h-2.58zM141.78 43.08h2.58v6.84h-2.58zM146.95 43.08h2.58v6.84h-2.58zM159.87 43.08h2.58v6.84h-2.58zM165.04 43.08h2.58v6.84h-2.58zM175.38 43.08h2.58v6.84h-2.58zM172.79 49.92h2.58v6.84h-2.58zM180.55 49.92h2.58v6.84h-2.58zM185.72 49.92h2.58v6.84h-2.58zM139.20 56.76h5.17v6.84h-5.17zM167.63 56.76h2.58v6.84h-2.58zM185.72 56.76h2.58v6.84h-2.58zM149.54 63.60h2.58v6.84h-2.58zM154.71 63.60h2.58v6.84h-2.58zM170.21 63.60h2.58v6.84h-2.58zM185.72 63.60h2.58v6.84h-2.58zM154.71 70.44h2.58v6.84h-2.58zM172.79 70.44h2.58v6.84h-2.58zM183.13 70.44h5.17v6.84h-5.17zM144.37 77.28h2.58v6.84h-2.58zM154.71 77.28h2.58v6.84h-2.58zM165.04 77.28h2.58v6.84h-2.58zM170.21 77.28h2.58v6.84h-2.58zM185.72 77.28h2.58v6.84h-2.58zM149.54 84.12h2.58v6.84h-2.58zM180.55 84.12h5.17v6.84h-5.17zM162.46 90.96h2.58v6.84h-2.58zM170.21 90.96h2.58v6.84h-2.58zM139.20 97.80h5.17v6.84h-5.17zM146.95 97.80h2.58v6.84h-2.58zM157.29 97.80h5.17v6.84h-5.17zM185.72 97.80h2.58v6.84h-2.58zM149.54 104.64h2.58v6.84h-2.58zM159.87 104.64h2.58v6.84h-2.58zM167.63 104.64h2.58v6.84h-2.58zM185.72 104.64h2.58v6.84h-2.58zM141.78 111.48h5.17v6.84h-5.17zM149.54 111.48h2.58v6.84h-2.58zM154.71 111.48h2.58v6.84h-2.58zM165.04 111.48h2.58v6.84h-2.58zM170.21 111.48h5.17v6.84h-5.17zM177.96 111.48h2.58v6.84h-2.58zM139.20 118.32h2.58v6.84h-2.58zM170.21 118.32h2.58v6.84h-2.58zM175.38 118.32h5.17v6.84h-5.17zM141.78 125.16h2.58v6.84h-2.58zM157.29 125.16h2.58v6.84h-2.58zM167.63 125.16h5.17v6.84h-5.17zM185.72 125.16h2.58v6.84h-2.58zM139.20 132.00h2.58v6.84h-2.58zM146.95 132.00h2.58v6.84h-2.58zM165.04 132.00h2.58v6.84h-2.58zM175.38 132.00h2.58v6.84h-2.58zM180.55 132.00h2.58v6.84h-2.58zM185.72 132.00h2.58v6.84h-2.58zM152.12 138.84h2.58v6.84h-2.58zM157.29 138.84h2.58v6.84h-2.58zM167.63 138.84h2.58v6.84h-2.58zM144.37 145.68h2.58v6.84h-2.58zM152.12 145.68h5.17v6.84h-5.17zM159.87 145.68h2.58v6.84h-2.58zM165.04 145.68h2.58v6.84h-2.58zM172.79 145.68h2.58v6.84h-2.58zM177.96 145.68h2.58v6.84h-2.58zM139.20 152.52h2.58v6.84h-2.58zM180.55 152.52h2.58v6.84h-2.58zM141.78 159.36h2.58v6.84h-2.58zM157.29 166.20h2.58v6.84h-2.58zM165.04 166.20h2.58v6.84h-2.58zM180.55 166.20h2.58v6.84h-2.58zM154.71 173.04h5.17v6.84h-5.17zM183.13 173.04h2.58v6.84h-2.58zM141.78 179.88h2.58v6.84h-2.58zM183.13 179.88h2.58v6.84h-2.58zM159.87 186.72h2.58v6.84h-2.58zM165.04 186.72h2.58v6.84h-2.58zM177.96 186.72h5.17v6.84h-5.17zM157.29 193.56h2.58v6.84h-2.58zM185.72 193.56h2.58v6.84h-2.58zM146.95 200.40h2.58v6.84h-2.58zM165.04 200.40h2.58v6.84h-2.58zM172.79 200.40h2.58v6.84h-2.58zM180.55 200.40h2.58v6.84h-2.58zM172.79 207.24h2.58v6.84h-2.58zM185.72 207.24h2.58v6.84h-2.58zM146.95 214.08h2.58v6.84h-2.58zM159.87 214.08h2.58v6.84h-2.58zM172.79 214.08h2.58v6.84h-2.58zM180.55 214.08h2.58v6.84h-2.58zM170.21 220.92h7.75v6.84h-7.75zM154.71 227.76h2.58v6.84h-2.58zM165.04 227.76h2.58v6.84h-2.58zM170.21 227.76h2.58v6.84h-2.58zM180.55 227.76h2.58v6.84h-2.58zM219.74 29.40h2.59v6.84h-2.59zM230.12 29.40h2.59v6.84h-2.59zM191.20 36.24h5.19v6.84h-5.19zM211.96 36.24h2.59v6.84h-2.59zM222.33 36.24h2.59v6.84h-2.59zM230.12 36.24h2.59v6.84h-2.59zM217.14 49.92h2.59v6.84h-2.59zM191.20 56.76h2.59v6.84h-2.59zM214.55 56.76h2.59v6.84h-2.59zM198.98 63.60h2.59v6.84h-2.59zM191.20 70.44h5.19v6.84h-5.19zM198.98 70.44h2.59v6.84h-2.59zM206.77 70.44h5.19v6.84h-5.19zM219.74 70.44h2.59v6.84h-2.59zM201.58 77.28h2.59v6.84h-2.59zM219.74 77.28h2.59v6.84h-2.59zM224.93 77.28h2.59v6.84h-2.59zM230.12 77.28h2.59v6.84h-2.59zM193.79 84.12h7.78v6.84h-7.78zM224.93 84.12h2.59v6.84h-2.59zM219.74 97.80h2.59v6.84h-2.59zM191.20 104.64h10.38v6.84h-10.38zM209.36 104.64h2.59v6.84h-2.59zM224.93 104.64h2.59v6.84h-2.59zM198.98 111.48h2.59v6.84h-2.59zM206.77 111.48h2.59v6.84h-2.59zM214.55 111.48h2.59v6.84h-2.59zM224.93 111.48h2.59v6.84h-2.59zM230.12 118.32h2.59v6.84h-2.59zM191.20 125.16h2.59v6.84h-2.59zM222.33 125.16h2.59v6.84h-2.59zM235.31 125.16h2.59v6.84h-2.59zM196.39 132.00h2.59v6.84h-2.59zM201.58 132.00h2.59v6.84h-2.59zM206.77 132.00h2.59v6.84h-2.59zM191.20 138.84h2.59v6.84h-2.59zM196.39 138.84h2.59v6.84h-2.59zM201.58 138.84h2.59v6.84h-2.59zM206.77 138.84h2.59v6.84h-2.59zM211.96 138.84h2.59v6.84h-2.59zM222.33 138.84h5.19v6.84h-5.19zM201.58 145.68h2.59v6.84h-2.59zM209.36 145.68h2.59v6.84h-2.59zM198.98 152.52h2.59v6.84h-2.59zM214.55 152.52h7.78v6.84h-7.78zM196.39 159.36h2.59v6.84h-2.59zM214.55 159.36h2.59v6.84h-2.59zM211.96 166.20h5.19v6.84h-5.19zM196.39 173.04h2.59v6.84h-2.59zM209.36 173.04h5.19v6.84h-5.19zM217.14 173.04h2.59v6.84h-2.59zM222.33 179.88h2.59v6.84h-2.59zM209.36 186.72h2.59v6.84h-2.59zM214.55 186.72h2.59v6.84h-2.59zM193.79 193.56h2.59v6.84h-2.59zM198.98 193.56h2.59v6.84h-2.59zM214.55 193.56h5.19v6.84h-5.19zM224.93 193.56h2.59v6.84h-2.59zM217.14 200.40h2.59v6.84h-2.59zM193.79 207.24h2.59v6.84h-2.59zM198.98 207.24h2.59v6.84h-2.59zM235.31 207.24h2.59v6.84h-2.59zM196.39 214.08h5.19v6.84h-5.19zM206.77 214.08h2.59v6.84h-2.59zM209.36 220.92h2.59v6.84h-2.59zM217.14 220.92h2.59v6.84h-2.59zM224.93 220.92h2.59v6.84h-2.59zM219.74 227.76h2.59v6.84h-2.59zM227.52 227.76h2.59v6.84h-2.59zM232.71 227.76h5.19v6.84h-5.19zM258.31 29.40h2.57v6.84h-2.57zM268.59 29.40h2.57v6.84h-2.57zM250.59 36.24h2.57v6.84h-2.57zM263.45 36.24h5.14v6.84h-5.14zM253.16 56.76h2.57v6.84h-2.57zM278.88 70.44h2.57v6.84h-2.57zM266.02 77.28h2.57v6.84h-2.57zM245.44 97.80h2.57v6.84h-2.57zM253.16 97.80h2.57v6.84h-2.57zM258.31 97.80h2.57v6.84h-2.57zM266.02 97.80h2.57v6.84h-2.57zM242.87 104.64h10.29v6.84h-10.29zM255.73 104.64h2.57v6.84h-2.57zM240.30 111.48h2.57v6.84h-2.57zM245.44 111.48h2.57v6.84h-2.57zM253.16 111.48h2.57v6.84h-2.57zM258.31 111.48h7.72v6.84h-7.72zM245.44 118.32h2.57v6.84h-2.57zM278.88 118.32h2.57v6.84h-2.57zM248.02 125.16h2.57v6.84h-2.57zM255.73 125.16h2.57v6.84h-2.57zM260.88 125.16h2.57v6.84h-2.57zM242.87 132.00h2.57v6.84h-2.57zM266.02 132.00h2.57v6.84h-2.57zM248.02 138.84h2.57v6.84h-2.57zM271.17 138.84h2.57v6.84h-2.57zM240.30 145.68h2.57v6.84h-2.57zM245.44 145.68h2.57v6.84h-2.57zM255.73 145.68h2.57v6.84h-2.57zM278.88 145.68h5.14v6.84h-5.14zM253.16 152.52h2.57v6.84h-2.57zM240.30 159.36h2.57v6.84h-2.57zM281.46 159.36h2.57v6.84h-2.57zM260.88 179.88h2.57v6.84h-2.57zM284.03 179.88h2.57v6.84h-2.57zM260.88 193.56h2.57v6.84h-2.57zM281.46 193.56h2.57v6.84h-2.57zM250.59 207.24h5.14v6.84h-5.14zM258.31 207.24h5.14v6.84h-5.14zM266.02 207.24h2.57v6.84h-2.57zM263.45 214.08h2.57v6.84h-2.57zM281.46 214.08h2.57v6.84h-2.57zM268.59 220.92h2.57v6.84h-2.57zM305.30 29.40h2.60v6.84h-2.60zM323.50 29.40h2.60v6.84h-2.60zM289.70 36.24h2.60v6.84h-2.60zM302.70 36.24h2.60v6.84h-2.60zM300.10 43.08h2.60v6.84h-2.60zM307.90 43.08h2.60v6.84h-2.60zM328.70 43.08h2.60v6.84h-2.60zM323.50 49.92h2.60v6.84h-2.60zM328.70 49.92h2.60v6.84h-2.60zM333.90 49.92h2.60v6.84h-2.60zM289.70 56.76h2.60v6.84h-2.60zM302.70 56.76h2.60v6.84h-2.60zM323.50 56.76h2.60v6.84h-2.60zM300.10 63.60h2.60v6.84h-2.60zM315.70 63.60h2.60v6.84h-2.60zM302.70 70.44h5.20v6.84h-5.20zM320.90 70.44h2.60v6.84h-2.60zM331.30 70.44h2.60v6.84h-2.60zM297.50 77.28h2.60v6.84h-2.60zM302.70 77.28h2.60v6.84h-2.60zM289.70 84.12h5.20v6.84h-5.20zM300.10 84.12h2.60v6.84h-2.60zM318.30 84.12h2.60v6.84h-2.60zM326.10 84.12h2.60v6.84h-2.60zM331.30 84.12h2.60v6.84h-2.60zM320.90 97.80h2.60v6.84h-2.60zM289.70 104.64h5.20v6.84h-5.20zM300.10 104.64h2.60v6.84h-2.60zM310.50 104.64h2.60v6.84h-2.60zM326.10 104.64h2.60v6.84h-2.60zM289.70 111.48h2.60v6.84h-2.60zM297.50 111.48h2.60v6.84h-2.60zM307.90 111.48h2.60v6.84h-2.60zM328.70 111.48h2.60v6.84h-2.60zM294.90 118.32h2.60v6.84h-2.60zM310.50 118.32h2.60v6.84h-2.60zM318.30 118.32h2.60v6.84h-2.60zM289.70 125.16h2.60v6.84h-2.60zM297.50 125.16h2.60v6.84h-2.60zM305.30 125.16h2.60v6.84h-2.60zM318.30 125.16h5.20v6.84h-5.20zM305.30 132.00h2.60v6.84h-2.60zM294.90 138.84h2.60v6.84h-2.60zM320.90 138.84h2.60v6.84h-2.60zM328.70 138.84h2.60v6.84h-2.60zM289.70 145.68h2.60v6.84h-2.60zM294.90 145.68h2.60v6.84h-2.60zM320.90 145.68h5.20v6.84h-5.20zM328.70 145.68h2.60v6.84h-2.60zM297.50 152.52h2.60v6.84h-2.60zM305.30 152.52h2.60v6.84h-2.60zM331.30 152.52h2.60v6.84h-2.60zM294.90 166.20h2.60v6.84h-2.60zM328.70 166.20h2.60v6.84h-2.60zM294.90 173.04h5.20v6.84h-5.20zM310.50 173.04h2.60v6.84h-2.60zM289.70 179.88h2.60v6.84h-2.60zM302.70 179.88h2.60v6.84h-2.60zM320.90 186.72h2.60v6.84h-2.60zM328.70 193.56h2.60v6.84h-2.60zM289.70 200.40h2.60v6.84h-2.60zM289.70 207.24h2.60v6.84h-2.60zM307.90 207.24h2.60v6.84h-2.60zM328.70 207.24h2.60v6.84h-2.60zM326.10 214.08h2.60v6.84h-2.60zM344.33 29.40h2.56v6.84h-2.56zM359.72 29.40h2.56v6.84h-2.56zM372.54 29.40h5.13v6.84h-5.13zM339.20 36.24h2.56v6.84h-2.56zM357.15 36.24h2.56v6.84h-2.56zM372.54 36.24h5.13v6.84h-5.13zM346.89 43.08h2.56v6.84h-2.56zM352.02 43.08h7.69v6.84h-7.69zM362.28 43.08h2.56v6.84h-2.56zM377.67 43.08h2.56v6.84h-2.56zM341.76 56.76h2.56v6.84h-2.56zM357.15 56.76h2.56v6.84h-2.56zM362.28 56.76h2.56v6.84h-2.56zM372.54 56.76h2.56v6.84h-2.56zM367.41 63.60h2.56v6.84h-2.56zM372.54 63.60h2.56v6.84h-2.56zM339.20 70.44h5.13v6.84h-5.13zM349.46 70.44h2.56v6.84h-2.56zM357.15 70.44h2.56v6.84h-2.56zM372.54 70.44h5.13v6.84h-5.13zM344.33 77.28h2.56v6.84h-2.56zM352.02 77.28h2.56v6.84h-2.56zM375.11 77.28h2.56v6.84h-2.56zM339.20 84.12h2.56v6.84h-2.56zM349.46 84.12h2.56v6.84h-2.56zM362.28 84.12h2.56v6.84h-2.56zM375.11 84.12h2.56v6.84h-2.56zM346.89 90.96h2.56v6.84h-2.56zM357.15 90.96h2.56v6.84h-2.56zM344.33 97.80h2.56v6.84h-2.56zM359.72 97.80h2.56v6.84h-2.56zM372.54 97.80h2.56v6.84h-2.56zM344.33 104.64h2.56v6.84h-2.56zM369.98 104.64h2.56v6.84h-2.56zM375.11 104.64h2.56v6.84h-2.56zM341.76 111.48h5.13v6.84h-5.13zM359.72 111.48h2.56v6.84h-2.56zM364.85 111.48h2.56v6.84h-2.56zM341.76 118.32h2.56v6.84h-2.56zM354.59 118.32h5.13v6.84h-5.13zM364.85 118.32h2.56v6.84h-2.56zM372.54 118.32h5.13v6.84h-5.13zM346.89 125.16h2.56v6.84h-2.56zM354.59 125.16h2.56v6.84h-2.56zM372.54 125.16h2.56v6.84h-2.56zM377.67 125.16h5.13v6.84h-5.13zM364.85 132.00h2.56v6.84h-2.56zM352.02 138.84h2.56v6.84h-2.56zM372.54 138.84h2.56v6.84h-2.56zM380.24 138.84h2.56v6.84h-2.56zM339.20 145.68h2.56v6.84h-2.56zM349.46 145.68h5.13v6.84h-5.13zM362.28 145.68h2.56v6.84h-2.56zM339.20 152.52h2.56v6.84h-2.56zM354.59 152.52h2.56v6.84h-2.56zM362.28 152.52h2.56v6.84h-2.56zM375.11 152.52h2.56v6.84h-2.56zM375.11 159.36h2.56v6.84h-2.56zM344.33 166.20h2.56v6.84h-2.56zM372.54 166.20h2.56v6.84h-2.56zM357.15 173.04h2.56v6.84h-2.56zM341.76 179.88h2.56v6.84h-2.56zM362.28 179.88h2.56v6.84h-2.56zM372.54 179.88h2.56v6.84h-2.56zM375.11 186.72h2.56v6.84h-2.56zM346.89 193.56h7.69v6.84h-7.69zM339.20 200.40h2.56v6.84h-2.56zM344.33 200.40h2.56v6.84h-2.56zM375.11 200.40h2.56v6.84h-2.56zM346.89 207.24h10.26v6.84h-10.26zM362.28 214.08h2.56v6.84h-2.56zM375.11 214.08h2.56v6.84h-2.56zM372.54 220.92h5.13v6.84h-5.13zM341.76 227.76h2.56v6.84h-2.56zM346.89 227.76h7.69v6.84h-7.69zM364.85 227.76h2.56v6.84h-2.56zM372.54 227.76h2.56v6.84h-2.56zM390.82 29.40h2.56v6.84h-2.56zM395.95 29.40h2.56v6.84h-2.56zM401.07 29.40h2.56v6.84h-2.56zM408.76 29.40h2.56v6.84h-2.56zM393.39 36.24h2.56v6.84h-2.56zM406.20 36.24h2.56v6.84h-2.56zM393.39 43.08h2.56v6.84h-2.56zM411.32 49.92h2.56v6.84h-2.56zM395.95 56.76h7.69v6.84h-7.69zM388.26 63.60h2.56v6.84h-2.56zM395.95 63.60h2.56v6.84h-2.56zM421.57 70.44h2.56v6.84h-2.56zM401.07 77.28h2.56v6.84h-2.56zM421.57 77.28h2.56v6.84h-2.56zM395.95 84.12h7.69v6.84h-7.69zM406.20 84.12h7.69v6.84h-7.69zM421.57 84.12h2.56v6.84h-2.56zM408.76 90.96h2.56v6.84h-2.56zM421.57 90.96h5.12v6.84h-5.12zM393.39 97.80h5.12v6.84h-5.12zM401.07 97.80h2.56v6.84h-2.56zM416.45 97.80h2.56v6.84h-2.56zM421.57 97.80h2.56v6.84h-2.56zM385.70 104.64h2.56v6.84h-2.56zM421.57 104.64h2.56v6.84h-2.56zM388.26 111.48h2.56v6.84h-2.56zM393.39 111.48h2.56v6.84h-2.56zM406.20 111.48h2.56v6.84h-2.56zM424.14 111.48h2.56v6.84h-2.56zM388.26 118.32h2.56v6.84h-2.56zM406.20 118.32h2.56v6.84h-2.56zM411.32 118.32h2.56v6.84h-2.56zM398.51 125.16h2.56v6.84h-2.56zM411.32 125.16h7.69v6.84h-7.69zM424.14 125.16h2.56v6.84h-2.56zM398.51 132.00h2.56v6.84h-2.56zM406.20 132.00h5.12v6.84h-5.12zM393.39 138.84h2.56v6.84h-2.56zM403.64 138.84h2.56v6.84h-2.56zM395.95 145.68h2.56v6.84h-2.56zM411.32 145.68h2.56v6.84h-2.56zM421.57 145.68h2.56v6.84h-2.56zM398.51 152.52h2.56v6.84h-2.56zM413.89 152.52h2.56v6.84h-2.56zM419.01 152.52h2.56v6.84h-2.56zM398.51 159.36h2.56v6.84h-2.56zM408.76 159.36h5.12v6.84h-5.12zM424.14 159.36h2.56v6.84h-2.56zM385.70 166.20h2.56v6.84h-2.56zM398.51 166.20h2.56v6.84h-2.56zM408.76 166.20h2.56v6.84h-2.56zM421.57 166.20h2.56v6.84h-2.56zM398.51 173.04h2.56v6.84h-2.56zM419.01 173.04h2.56v6.84h-2.56zM388.26 179.88h2.56v6.84h-2.56zM398.51 179.88h5.12v6.84h-5.12zM411.32 179.88h2.56v6.84h-2.56zM416.45 179.88h5.12v6.84h-5.12zM390.82 186.72h2.56v6.84h-2.56zM408.76 186.72h2.56v6.84h-2.56zM416.45 186.72h2.56v6.84h-2.56zM393.39 193.56h2.56v6.84h-2.56zM403.64 200.40h2.56v6.84h-2.56zM416.45 200.40h2.56v6.84h-2.56zM421.57 200.40h5.12v6.84h-5.12zM395.95 207.24h2.56v6.84h-2.56zM411.32 207.24h2.56v6.84h-2.56zM419.01 207.24h2.56v6.84h-2.56zM393.39 214.08h2.56v6.84h-2.56zM398.51 214.08h7.69v6.84h-7.69zM408.76 214.08h2.56v6.84h-2.56zM390.82 220.92h2.56v6.84h-2.56zM408.76 220.92h2.56v6.84h-2.56zM416.45 220.92h2.56v6.84h-2.56zM401.07 227.76h2.56v6.84h-2.56zM406.20 227.76h2.56v6.84h-2.56zM413.89 227.76h2.56v6.84h-2.56zM419.01 227.76h5.12v6.84h-5.12zM448.00 29.40h2.60v6.84h-2.60zM461.00 29.40h2.60v6.84h-2.60zM466.20 29.40h2.60v6.84h-2.60zM429.80 36.24h2.60v6.84h-2.60zM450.60 36.24h5.20v6.84h-5.20zM458.40 36.24h2.60v6.84h-2.60zM442.80 43.08h2.60v6.84h-2.60zM448.00 43.08h2.60v6.84h-2.60zM445.40 49.92h2.60v6.84h-2.60zM437.60 56.76h2.60v6.84h-2.60zM448.00 56.76h2.60v6.84h-2.60zM455.80 56.76h2.60v6.84h-2.60zM461.00 56.76h2.60v6.84h-2.60zM440.20 63.60h2.60v6.84h-2.60zM453.20 63.60h2.60v6.84h-2.60zM437.60 70.44h2.60v6.84h-2.60zM442.80 70.44h2.60v6.84h-2.60zM466.20 70.44h7.80v6.84h-7.80zM435.00 77.28h2.60v6.84h-2.60zM442.80 77.28h2.60v6.84h-2.60zM458.40 77.28h5.20v6.84h-5.20zM435.00 84.12h2.60v6.84h-2.60zM455.80 84.12h2.60v6.84h-2.60zM461.00 84.12h2.60v6.84h-2.60zM468.80 84.12h2.60v6.84h-2.60zM450.60 90.96h2.60v6.84h-2.60zM463.60 90.96h5.20v6.84h-5.20zM455.80 97.80h2.60v6.84h-2.60zM432.40 104.64h2.60v6.84h-2.60zM448.00 104.64h2.60v6.84h-2.60zM453.20 104.64h2.60v6.84h-2.60zM432.40 111.48h2.60v6.84h-2.60zM440.20 111.48h2.60v6.84h-2.60zM458.40 111.48h7.80v6.84h-7.80zM437.60 118.32h2.60v6.84h-2.60zM466.20 118.32h2.60v6.84h-2.60zM450.60 125.16h2.60v6.84h-2.60zM455.80 125.16h2.60v6.84h-2.60zM435.00 132.00h2.60v6.84h-2.60zM448.00 132.00h2.60v6.84h-2.60zM463.60 132.00h2.60v6.84h-2.60zM442.80 138.84h2.60v6.84h-2.60zM450.60 138.84h5.20v6.84h-5.20zM461.00 138.84h2.60v6.84h-2.60zM471.40 138.84h2.60v6.84h-2.60zM429.80 145.68h2.60v6.84h-2.60zM437.60 145.68h2.60v6.84h-2.60zM442.80 145.68h2.60v6.84h-2.60zM450.60 145.68h2.60v6.84h-2.60zM463.60 145.68h2.60v6.84h-2.60zM437.60 152.52h2.60v6.84h-2.60zM442.80 152.52h2.60v6.84h-2.60zM448.00 152.52h2.60v6.84h-2.60zM461.00 152.52h5.20v6.84h-5.20zM468.80 152.52h5.20v6.84h-5.20zM429.80 159.36h2.60v6.84h-2.60zM435.00 159.36h2.60v6.84h-2.60zM442.80 159.36h2.60v6.84h-2.60zM448.00 159.36h7.80v6.84h-7.80zM466.20 159.36h2.60v6.84h-2.60zM429.80 166.20h7.80v6.84h-7.80zM463.60 166.20h2.60v6.84h-2.60zM468.80 166.20h2.60v6.84h-2.60zM429.80 173.04h5.20v6.84h-5.20zM448.00 173.04h2.60v6.84h-2.60zM453.20 173.04h5.20v6.84h-5.20zM442.80 179.88h2.60v6.84h-2.60zM453.20 179.88h2.60v6.84h-2.60zM466.20 179.88h2.60v6.84h-2.60zM471.40 179.88h2.60v6.84h-2.60zM432.40 186.72h2.60v6.84h-2.60zM448.00 186.72h2.60v6.84h-2.60zM466.20 186.72h2.60v6.84h-2.60zM445.40 193.56h2.60v6.84h-2.60zM453.20 193.56h2.60v6.84h-2.60zM461.00 193.56h2.60v6.84h-2.60zM429.80 200.40h2.60v6.84h-2.60zM437.60 200.40h2.60v6.84h-2.60zM448.00 200.40h5.20v6.84h-5.20zM455.80 200.40h2.60v6.84h-2.60zM466.20 200.40h2.60v6.84h-2.60zM432.40 207.24h2.60v6.84h-2.60zM461.00 207.24h5.20v6.84h-5.20zM429.80 214.08h2.60v6.84h-2.60zM435.00 214.08h5.20v6.84h-5.20zM450.60 214.08h2.60v6.84h-2.60zM458.40 214.08h2.60v6.84h-2.60zM471.40 214.08h2.60v6.84h-2.60zM440.20 220.92h2.60v6.84h-2.60zM468.80 220.92h2.60v6.84h-2.60zM432.40 227.76h2.60v6.84h-2.60zM440.20 227.76h2.60v6.84h-2.60zM450.60 227.76h13.00v6.84h-13.00z"/>
<path fill="#ec27e3" d="M102.84 29.40h5.18v6.84h-5.18zM92.48 36.24h2.59v6.84h-2.59zM102.84 36.24h2.59v6.84h-2.59zM110.61 36.24h5.18v6.84h-5.18zM120.96 36.24h2.59v6.84h-2.59zM89.89 43.08h2.59v6.84h-2.59zM108.02 43.08h2.59v6.84h-2.59zM113.19 43.08h2.59v6.84h-2.59zM113.19 49.92h2.59v6.84h-2.59zM126.14 49.92h2.59v6.84h-2.59zM102.84 63.60h2.59v6.84h-2.59zM89.89 70.44h5.18v6.84h-5.18zM102.84 70.44h5.18v6.84h-5.18zM110.61 70.44h2.59v6.84h-2.59zM123.55 70.44h2.59v6.84h-2.59zM97.66 77.28h2.59v6.84h-2.59zM102.84 77.28h2.59v6.84h-2.59zM87.30 84.12h2.59v6.84h-2.59zM100.25 84.12h2.59v6.84h-2.59zM110.61 84.12h2.59v6.84h-2.59zM120.96 84.12h2.59v6.84h-2.59zM126.14 84.12h2.59v6.84h-2.59zM92.48 90.96h2.59v6.84h-2.59zM102.84 90.96h2.59v6.84h-2.59zM120.96 90.96h2.59v6.84h-2.59zM87.30 97.80h2.59v6.84h-2.59zM92.48 97.80h7.77v6.84h-7.77zM113.19 97.80h2.59v6.84h-2.59zM108.02 104.64h2.59v6.84h-2.59zM120.96 125.16h2.59v6.84h-2.59zM89.89 132.00h2.59v6.84h-2.59zM126.14 132.00h2.59v6.84h-2.59zM133.91 132.00h2.59v6.84h-2.59zM108.02 138.84h2.59v6.84h-2.59zM120.96 138.84h2.59v6.84h-2.59zM120.96 152.52h2.59v6.84h-2.59zM102.84 159.36h2.59v6.84h-2.59zM89.89 166.20h2.59v6.84h-2.59zM123.55 166.20h2.59v6.84h-2.59zM102.84 173.04h2.59v6.84h-2.59zM120.96 186.72h2.59v6.84h-2.59zM115.78 193.56h2.59v6.84h-2.59zM102.84 200.40h2.59v6.84h-2.59zM113.19 200.40h2.59v6.84h-2.59zM89.89 207.24h2.59v6.84h-2.59zM97.66 207.24h2.59v6.84h-2.59zM102.84 207.24h5.18v6.84h-5.18zM115.78 207.24h2.59v6.84h-2.59zM123.55 207.24h2.59v6.84h-2.59zM120.96 220.92h2.59v6.84h-2.59zM95.07 227.76h2.59v6.84h-2.59zM180.55 29.40h2.58v6.84h-2.58zM175.38 36.24h2.58v6.84h-2.58zM149.54 43.08h2.58v6.84h-2.58zM154.71 43.08h2.58v6.84h-2.58zM162.46 43.08h2.58v6.84h-2.58zM172.79 43.08h2.58v6.84h-2.58zM180.55 43.08h2.58v6.84h-2.58zM154.71 56.76h2.58v6.84h-2.58zM177.96 56.76h5.17v6.84h-5.17zM144.37 70.44h2.58v6.84h-2.58zM157.29 70.44h2.58v6.84h-2.58zM149.54 77.28h2.58v6.84h-2.58zM159.87 77.28h2.58v6.84h-2.58zM167.63 77.28h2.58v6.84h-2.58zM177.96 77.28h2.58v6.84h-2.58zM183.13 77.28h2.58v6.84h-2.58zM167.63 90.96h2.58v6.84h-2.58zM175.38 90.96h2.58v6.84h-2.58zM149.54 97.80h2.58v6.84h-2.58zM154.71 97.80h2.58v6.84h-2.58zM175.38 97.80h2.58v6.84h-2.58zM180.55 97.80h2.58v6.84h-2.58zM183.13 104.64h2.58v6.84h-2.58zM157.29 111.48h2.58v6.84h-2.58zM167.63 111.48h2.58v6.84h-2.58zM157.29 118.32h2.58v6.84h-2.58zM154.71 125.16h2.58v6.84h-2.58zM159.87 125.16h2.58v6.84h-2.58zM157.29 132.00h2.58v6.84h-2.58zM183.13 138.84h2.58v6.84h-2.58zM144.37 152.52h2.58v6.84h-2.58zM152.12 152.52h2.58v6.84h-2.58zM159.87 152.52h2.58v6.84h-2.58zM175.38 152.52h2.58v6.84h-2.58zM154.71 159.36h2.58v6.84h-2.58zM177.96 159.36h2.58v6.84h-2.58zM144.37 166.20h2.58v6.84h-2.58zM152.12 166.20h2.58v6.84h-2.58zM175.38 173.04h2.58v6.84h-2.58zM180.55 179.88h2.58v6.84h-2.58zM139.20 186.72h2.58v6.84h-2.58zM157.29 186.72h2.58v6.84h-2.58zM183.13 186.72h2.58v6.84h-2.58zM139.20 193.56h2.58v6.84h-2.58zM144.37 193.56h2.58v6.84h-2.58zM152.12 193.56h2.58v6.84h-2.58zM167.63 193.56h2.58v6.84h-2.58zM177.96 193.56h2.58v6.84h-2.58zM154.71 200.40h2.58v6.84h-2.58zM141.78 207.24h2.58v6.84h-2.58zM141.78 214.08h2.58v6.84h-2.58zM152.12 214.08h5.17v6.84h-5.17zM177.96 214.08h2.58v6.84h-2.58zM185.72 214.08h2.58v6.84h-2.58zM144.37 227.76h2.58v6.84h-2.58zM152.12 227.76h2.58v6.84h-2.58zM175.38 227.76h2.58v6.84h-2.58zM183.13 227.76h2.58v6.84h-2.58zM206.77 36.24h2.59v6.84h-2.59zM191.20 43.08h2.59v6.84h-2.59zM217.14 43.08h2.59v6.84h-2.59zM227.52 43.08h5.19v6.84h-5.19zM219.74 56.76h2.59v6.84h-2.59zM232.71 56.76h2.59v6.84h-2.59zM206.77 63.60h2.59v6.84h-2.59zM214.55 63.60h2.59v6.84h-2.59zM235.31 63.60h2.59v6.84h-2.59zM196.39 70.44h2.59v6.84h-2.59zM214.55 70.44h2.59v6.84h-2.59zM235.31 70.44h2.59v6.84h-2.59zM227.52 84.12h2.59v6.84h-2.59zM232.71 84.12h2.59v6.84h-2.59zM191.20 90.96h2.59v6.84h-2.59zM224.93 97.80h2.59v6.84h-2.59zM230.12 97.80h2.59v6.84h-2.59zM219.74 104.64h2.59v6.84h-2.59zM196.39 111.48h2.59v6.84h-2.59zM235.31 111.48h2.59v6.84h-2.59zM201.58 125.16h2.59v6.84h-2.59zM206.77 125.16h2.59v6.84h-2.59zM230.12 138.84h2.59v6.84h-2.59zM196.39 145.68h2.59v6.84h-2.59zM219.74 145.68h5.19v6.84h-5.19zM191.20 159.36h2.59v6.84h-2.59zM209.36 159.36h2.59v6.84h-2.59zM219.74 159.36h2.59v6.84h-2.59zM224.93 159.36h2.59v6.84h-2.59zM235.31 159.36h2.59v6.84h-2.59zM224.93 166.20h2.59v6.84h-2.59zM198.98 173.04h2.59v6.84h-2.59zM206.77 173.04h2.59v6.84h-2.59zM193.79 186.72h5.19v6.84h-5.19zM206.77 186.72h2.59v6.84h-2.59zM217.14 186.72h2.59v6.84h-2.59zM224.93 200.40h2.59v6.84h-2.59zM230.12 200.40h2.59v6.84h-2.59zM209.36 207.24h2.59v6.84h-2.59zM214.55 207.24h2.59v6.84h-2.59zM191.20 227.76h2.59v6.84h-2.59zM196.39 227.76h2.59v6.84h-2.59zM217.14 227.76h2.59v6.84h-2.59zM224.93 227.76h2.59v6.84h-2.59zM240.30 36.24h2.57v6.84h-2.57zM271.17 36.24h5.14v6.84h-5.14zM242.87 43.08h2.57v6.84h-2.57zM248.02 43.08h2.57v6.84h-2.57zM263.45 43.08h2.57v6.84h-2.57zM268.59 56.76h2.57v6.84h-2.57zM250.59 63.60h2.57v6.84h-2.57zM248.02 70.44h2.57v6.84h-2.57zM253.16 70.44h2.57v6.84h-2.57zM263.45 70.44h2.57v6.84h-2.57zM268.59 77.28h2.57v6.84h-2.57zM248.02 97.80h5.14v6.84h-5.14zM255.73 97.80h2.57v6.84h-2.57zM263.45 97.80h2.57v6.84h-2.57zM271.17 104.64h7.72v6.84h-7.72zM273.74 111.48h5.14v6.84h-5.14zM242.87 118.32h2.57v6.84h-2.57zM248.02 118.32h2.57v6.84h-2.57zM276.31 118.32h2.57v6.84h-2.57zM263.45 125.16h2.57v6.84h-2.57zM271.17 125.16h2.57v6.84h-2.57zM255.73 132.00h2.57v6.84h-2.57zM273.74 132.00h2.57v6.84h-2.57zM253.16 138.84h2.57v6.84h-2.57zM263.45 138.84h2.57v6.84h-2.57zM276.31 138.84h2.57v6.84h-2.57zM271.17 152.52h2.57v6.84h-2.57zM276.31 152.52h2.57v6.84h-2.57zM281.46 152.52h2.57v6.84h-2.57zM253.16 159.36h2.57v6.84h-2.57zM263.45 159.36h2.57v6.84h-2.57zM268.59 159.36h2.57v6.84h-2.57zM242.87 179.88h2.57v6.84h-2.57zM253.16 179.88h2.57v6.84h-2.57zM268.59 186.72h2.57v6.84h-2.57zM263.45 193.56h2.57v6.84h-2.57zM263.45 207.24h2.57v6.84h-2.57zM268.59 207.24h2.57v6.84h-2.57zM242.87 214.08h2.57v6.84h-2.57zM268.59 214.08h2.57v6.84h-2.57zM313.10 29.40h5.20v6.84h-5.20zM331.30 29.40h2.60v6.84h-2.60zM318.30 36.24h2.60v6.84h-2.60zM323.50 36.24h2.60v6.84h-2.60zM289.70 43.08h2.60v6.84h-2.60zM323.50 43.08h2.60v6.84h-2.60zM331.30 56.76h2.60v6.84h-2.60zM294.90 70.44h5.20v6.84h-5.20zM313.10 70.44h2.60v6.84h-2.60zM318.30 70.44h2.60v6.84h-2.60zM323.50 70.44h2.60v6.84h-2.60zM318.30 77.28h2.60v6.84h-2.60zM294.90 84.12h2.60v6.84h-2.60zM315.70 84.12h2.60v6.84h-2.60zM320.90 84.12h2.60v6.84h-2.60zM328.70 84.12h2.60v6.84h-2.60zM302.70 97.80h5.20v6.84h-5.20zM318.30 97.80h2.60v6.84h-2.60zM297.50 104.64h2.60v6.84h-2.60zM318.30 104.64h2.60v6.84h-2.60zM313.10 111.48h5.20v6.84h-5.20zM323.50 111.48h2.60v6.84h-2.60zM297.50 118.32h2.60v6.84h-2.60zM313.10 118.32h2.60v6.84h-2.60zM323.50 125.16h2.60v6.84h-2.60zM328.70 125.16h2.60v6.84h-2.60zM300.10 132.00h2.60v6.84h-2.60zM313.10 132.00h5.20v6.84h-5.20zM331.30 132.00h2.60v6.84h-2.60zM315.70 138.84h2.60v6.84h-2.60zM333.90 138.84h2.60v6.84h-2.60zM315.70 152.52h5.20v6.84h-5.20zM323.50 152.52h2.60v6.84h-2.60zM313.10 159.36h2.60v6.84h-2.60zM313.10 166.20h5.20v6.84h-5.20zM331.30 166.20h2.60v6.84h-2.60zM313.10 173.04h5.20v6.84h-5.20zM297.50 179.88h2.60v6.84h-2.60zM313.10 179.88h5.20v6.84h-5.20zM328.70 179.88h2.60v6.84h-2.60zM294.90 193.56h2.60v6.84h-2.60zM305.30 193.56h2.60v6.84h-2.60zM297.50 200.40h2.60v6.84h-2.60zM305.30 207.24h2.60v6.84h-2.60zM323.50 207.24h2.60v6.84h-2.60zM294.90 214.08h5.20v6.84h-5.20zM305.30 214.08h5.20v6.84h-5.20zM331.30 214.08h2.60v6.84h-2.60zM341.76 43.08h2.56v6.84h-2.56zM367.41 43.08h2.56v6.84h-2.56zM367.41 77.28h5.13v6.84h-5.13zM369.98 111.48h2.56v6.84h-2.56zM349.46 118.32h2.56v6.84h-2.56zM367.41 118.32h2.56v6.84h-2.56zM364.85 125.16h2.56v6.84h-2.56zM369.98 125.16h2.56v6.84h-2.56zM375.11 132.00h2.56v6.84h-2.56zM339.20 138.84h2.56v6.84h-2.56zM344.33 138.84h2.56v6.84h-2.56zM375.11 138.84h2.56v6.84h-2.56zM367.41 152.52h2.56v6.84h-2.56zM367.41 159.36h2.56v6.84h-2.56zM339.20 166.20h2.56v6.84h-2.56zM359.72 166.20h2.56v6.84h-2.56zM341.76 173.04h5.13v6.84h-5.13zM349.46 173.04h2.56v6.84h-2.56zM367.41 173.04h2.56v6.84h-2.56zM375.11 173.04h2.56v6.84h-2.56zM369.98 179.88h2.56v6.84h-2.56zM364.85 186.72h2.56v6.84h-2.56zM369.98 186.72h2.56v6.84h-2.56zM369.98 193.56h2.56v6.84h-2.56zM375.11 193.56h2.56v6.84h-2.56zM344.33 207.24h2.56v6.84h-2.56zM339.20 214.08h7.69v6.84h-7.69zM352.02 214.08h2.56v6.84h-2.56zM372.54 214.08h2.56v6.84h-2.56zM344.33 227.76h2.56v6.84h-2.56zM367.41 227.76h2.56v6.84h-2.56zM390.82 36.24h2.56v6.84h-2.56zM401.07 36.24h2.56v6.84h-2.56zM424.14 36.24h2.56v6.84h-2.56zM413.89 43.08h7.69v6.84h-7.69zM390.82 63.60h2.56v6.84h-2.56zM398.51 63.60h2.56v6.84h-2.56zM408.76 63.60h2.56v6.84h-2.56zM390.82 70.44h2.56v6.84h-2.56zM401.07 70.44h2.56v6.84h-2.56zM419.01 70.44h2.56v6.84h-2.56zM390.82 77.28h2.56v6.84h-2.56zM411.32 77.28h2.56v6.84h-2.56zM419.01 77.28h2.56v6.84h-2.56zM390.82 84.12h2.56v6.84h-2.56zM416.45 90.96h2.56v6.84h-2.56zM390.82 104.64h2.56v6.84h-2.56zM390.82 111.48h2.56v6.84h-2.56zM416.45 111.48h5.12v6.84h-5.12zM413.89 118.32h2.56v6.84h-2.56zM419.01 118.32h2.56v6.84h-2.56zM390.82 125.16h2.56v6.84h-2.56zM421.57 125.16h2.56v6.84h-2.56zM424.14 132.00h2.56v6.84h-2.56zM390.82 138.84h2.56v6.84h-2.56zM395.95 138.84h2.56v6.84h-2.56zM424.14 138.84h2.56v6.84h-2.56zM398.51 145.68h5.12v6.84h-5.12zM390.82 152.52h2.56v6.84h-2.56zM390.82 159.36h2.56v6.84h-2.56zM401.07 166.20h2.56v6.84h-2.56zM413.89 166.20h2.56v6.84h-2.56zM401.07 173.04h2.56v6.84h-2.56zM393.39 179.88h2.56v6.84h-2.56zM421.57 179.88h2.56v6.84h-2.56zM401.07 193.56h2.56v6.84h-2.56zM398.51 207.24h2.56v6.84h-2.56zM416.45 207.24h2.56v6.84h-2.56zM413.89 214.08h2.56v6.84h-2.56zM419.01 220.92h2.56v6.84h-2.56zM455.80 29.40h2.60v6.84h-2.60zM429.80 43.08h2.60v6.84h-2.60zM461.00 49.92h5.20v6.84h-5.20zM471.40 49.92h2.60v6.84h-2.60zM437.60 63.60h2.60v6.84h-2.60zM450.60 63.60h2.60v6.84h-2.60zM461.00 63.60h2.60v6.84h-2.60zM450.60 70.44h2.60v6.84h-2.60zM455.80 70.44h2.60v6.84h-2.60zM463.60 70.44h2.60v6.84h-2.60zM437.60 84.12h2.60v6.84h-2.60zM448.00 84.12h2.60v6.84h-2.60zM429.80 90.96h2.60v6.84h-2.60zM448.00 90.96h2.60v6.84h-2.60zM455.80 90.96h2.60v6.84h-2.60zM432.40 97.80h2.60v6.84h-2.60zM466.20 97.80h2.60v6.84h-2.60zM461.00 104.64h2.60v6.84h-2.60zM429.80 111.48h2.60v6.84h-2.60zM450.60 111.48h2.60v6.84h-2.60zM455.80 111.48h2.60v6.84h-2.60zM429.80 125.16h2.60v6.84h-2.60zM463.60 125.16h2.60v6.84h-2.60zM471.40 125.16h2.60v6.84h-2.60zM429.80 138.84h2.60v6.84h-2.60zM440.20 138.84h2.60v6.84h-2.60zM466.20 138.84h2.60v6.84h-2.60zM466.20 152.52h2.60v6.84h-2.60zM440.20 159.36h2.60v6.84h-2.60zM448.00 166.20h2.60v6.84h-2.60zM435.00 173.04h5.20v6.84h-5.20zM466.20 173.04h2.60v6.84h-2.60zM450.60 179.88h2.60v6.84h-2.60zM455.80 179.88h2.60v6.84h-2.60zM463.60 179.88h2.60v6.84h-2.60zM435.00 186.72h2.60v6.84h-2.60zM429.80 193.56h2.60v6.84h-2.60zM450.60 207.24h2.60v6.84h-2.60zM448.00 214.08h2.60v6.84h-2.60zM455.80 214.08h2.60v6.84h-2.60zM429.80 227.76h2.60v6.84h-2.60zM448.00 227.76h2.60v6.84h-2.60zM471.40 227.76h2.60v6.84h-2.60z"/>
<path fill="#c113b8" d="M118.37 29.40h2.59v6.84h-2.59zM128.73 29.40h2.59v6.84h-2.59zM100.25 36.24h2.59v6.84h-2.59zM133.91 36.24h2.59v6.84h-2.59zM95.07 43.08h2.59v6.84h-2.59zM131.32 43.08h2.59v6.84h-2.59zM123.55 63.60h2.59v6.84h-2.59zM118.37 70.44h2.59v6.84h-2.59zM128.73 77.28h2.59v6.84h-2.59zM131.32 104.64h2.59v6.84h-2.59zM100.25 111.48h2.59v6.84h-2.59zM115.78 111.48h5.18v6.84h-5.18zM95.07 118.32h2.59v6.84h-2.59zM118.37 118.32h2.59v6.84h-2.59zM123.55 125.16h2.59v6.84h-2.59zM128.73 132.00h5.18v6.84h-5.18zM100.25 138.84h2.59v6.84h-2.59zM128.73 145.68h2.59v6.84h-2.59zM97.66 152.52h2.59v6.84h-2.59zM118.37 166.20h2.59v6.84h-2.59zM100.25 173.04h2.59v6.84h-2.59zM95.07 186.72h2.59v6.84h-2.59zM92.48 193.56h2.59v6.84h-2.59zM97.66 193.56h2.59v6.84h-2.59zM118.37 193.56h2.59v6.84h-2.59zM97.66 214.08h2.59v6.84h-2.59zM113.19 214.08h2.59v6.84h-2.59zM123.55 214.08h5.18v6.84h-5.18zM97.66 220.92h2.59v6.84h-2.59zM128.73 220.92h5.18v6.84h-5.18zM131.32 227.76h2.59v6.84h-2.59zM162.46 36.24h2.58v6.84h-2.58zM185.72 36.24h2.58v6.84h-2.58zM141.78 63.60h2.58v6.84h-2.58zM165.04 63.60h2.58v6.84h-2.58zM146.95 84.12h2.58v6.84h-2.58zM141.78 104.64h2.58v6.84h-2.58zM165.04 104.64h2.58v6.84h-2.58zM172.79 118.32h2.58v6.84h-2.58zM172.79 159.36h2.58v6.84h-2.58zM141.78 166.20h2.58v6.84h-2.58zM172.79 166.20h2.58v6.84h-2.58zM141.78 173.04h2.58v6.84h-2.58zM177.96 179.88h2.58v6.84h-2.58zM141.78 220.92h2.58v6.84h-2.58zM162.46 220.92h2.58v6.84h-2.58zM214.55 77.28h2.59v6.84h-2.59zM222.33 77.28h2.59v6.84h-2.59zM204.17 84.12h2.59v6.84h-2.59zM211.96 84.12h2.59v6.84h-2.59zM211.96 90.96h2.59v6.84h-2.59zM209.36 97.80h2.59v6.84h-2.59zM211.96 111.48h2.59v6.84h-2.59zM222.33 152.52h2.59v6.84h-2.59zM211.96 159.36h2.59v6.84h-2.59zM222.33 159.36h2.59v6.84h-2.59zM222.33 166.20h2.59v6.84h-2.59zM204.17 173.04h2.59v6.84h-2.59zM211.96 186.72h2.59v6.84h-2.59zM204.17 193.56h2.59v6.84h-2.59zM222.33 193.56h2.59v6.84h-2.59zM214.55 200.40h2.59v6.84h-2.59zM191.20 207.24h2.59v6.84h-2.59zM204.17 207.24h2.59v6.84h-2.59zM214.55 214.08h7.78v6.84h-7.78zM281.46 56.76h2.57v6.84h-2.57zM266.02 125.16h2.57v6.84h-2.57zM266.02 179.88h2.57v6.84h-2.57zM292.30 43.08h2.60v6.84h-2.60zM326.10 49.92h2.60v6.84h-2.60zM292.30 70.44h2.60v6.84h-2.60zM326.10 118.32h2.60v6.84h-2.60zM300.10 145.68h2.60v6.84h-2.60zM292.30 152.52h2.60v6.84h-2.60zM292.30 179.88h2.60v6.84h-2.60zM364.85 29.40h2.56v6.84h-2.56zM380.24 43.08h2.56v6.84h-2.56zM362.28 63.60h2.56v6.84h-2.56zM362.28 70.44h2.56v6.84h-2.56zM359.72 77.28h2.56v6.84h-2.56zM380.24 77.28h2.56v6.84h-2.56zM346.89 84.12h2.56v6.84h-2.56zM380.24 84.12h2.56v6.84h-2.56zM349.46 111.48h2.56v6.84h-2.56zM357.15 111.48h2.56v6.84h-2.56zM346.89 118.32h2.56v6.84h-2.56zM357.15 125.16h2.56v6.84h-2.56zM380.24 152.52h2.56v6.84h-2.56zM357.15 159.36h2.56v6.84h-2.56zM362.28 159.36h2.56v6.84h-2.56zM357.15 166.20h2.56v6.84h-2.56zM346.89 173.04h2.56v6.84h-2.56zM352.02 200.40h2.56v6.84h-2.56zM403.64 29.40h2.56v6.84h-2.56zM411.32 36.24h2.56v6.84h-2.56zM403.64 43.08h2.56v6.84h-2.56zM411.32 43.08h2.56v6.84h-2.56zM385.70 56.76h5.12v6.84h-5.12zM385.70 63.60h2.56v6.84h-2.56zM395.95 77.28h2.56v6.84h-2.56zM385.70 97.80h2.56v6.84h-2.56zM395.95 104.64h2.56v6.84h-2.56zM403.64 118.32h2.56v6.84h-2.56zM388.26 125.16h2.56v6.84h-2.56zM395.95 125.16h2.56v6.84h-2.56zM385.70 132.00h2.56v6.84h-2.56zM385.70 152.52h2.56v6.84h-2.56zM411.32 152.52h2.56v6.84h-2.56zM385.70 173.04h2.56v6.84h-2.56zM403.64 186.72h2.56v6.84h-2.56zM421.57 193.56h2.56v6.84h-2.56zM406.20 214.08h2.56v6.84h-2.56zM388.26 220.92h2.56v6.84h-2.56zM403.64 220.92h5.12v6.84h-5.12zM435.00 43.08h2.60v6.84h-2.60zM455.80 43.08h2.60v6.84h-2.60zM461.00 43.08h2.60v6.84h-2.60zM445.40 97.80h5.20v6.84h-5.20zM468.80 97.80h2.60v6.84h-2.60zM432.40 118.32h2.60v6.84h-2.60zM445.40 118.32h2.60v6.84h-2.60zM461.00 118.32h2.60v6.84h-2.60zM432.40 125.16h2.60v6.84h-2.60zM442.80 132.00h2.60v6.84h-2.60zM435.00 145.68h2.60v6.84h-2.60zM458.40 179.88h2.60v6.84h-2.60zM445.40 186.72h2.60v6.84h-2.60zM455.80 186.72h2.60v6.84h-2.60zM440.20 200.40h2.60v6.84h-2.60zM437.60 207.24h2.60v6.84h-2.60zM432.40 214.08h2.60v6.84h-2.60zM453.20 220.92h2.60v6.84h-2.60zM463.60 220.92h2.60v6.84h-2.60z"/>
<path fill="#b610ae" d="M133.91 29.40h2.59v6.84h-2.59zM118.37 77.28h2.59v6.84h-2.59zM131.32 77.28h2.59v6.84h-2.59zM118.37 90.96h2.59v6.84h-2.59zM87.30 152.52h2.59v6.84h-2.59zM128.73 152.52h2.59v6.84h-2.59zM118.37 173.04h2.59v6.84h-2.59zM128.73 193.56h5.18v6.84h-5.18zM131.32 214.08h2.59v6.84h-2.59zM128.73 227.76h2.59v6.84h-2.59zM162.46 84.12h2.58v6.84h-2.58zM162.46 111.48h2.58v6.84h-2.58zM185.72 118.32h2.58v6.84h-2.58zM139.20 138.84h2.58v6.84h-2.58zM162.46 138.84h2.58v6.84h-2.58zM170.21 145.68h2.58v6.84h-2.58zM146.95 173.04h2.58v6.84h-2.58zM162.46 207.24h2.58v6.84h-2.58zM204.17 56.76h2.59v6.84h-2.59zM211.96 63.60h2.59v6.84h-2.59zM204.17 97.80h2.59v6.84h-2.59zM222.33 97.80h2.59v6.84h-2.59zM204.17 111.48h2.59v6.84h-2.59zM222.33 118.32h2.59v6.84h-2.59zM204.17 132.00h2.59v6.84h-2.59zM204.17 179.88h2.59v6.84h-2.59zM211.96 179.88h2.59v6.84h-2.59zM204.17 214.08h2.59v6.84h-2.59zM281.46 104.64h2.57v6.84h-2.57zM245.44 125.16h2.57v6.84h-2.57zM300.10 29.40h2.60v6.84h-2.60zM326.10 36.24h2.60v6.84h-2.60zM326.10 111.48h2.60v6.84h-2.60zM292.30 125.16h2.60v6.84h-2.60zM380.24 29.40h2.56v6.84h-2.56zM377.67 56.76h2.56v6.84h-2.56zM380.24 111.48h2.56v6.84h-2.56zM364.85 145.68h2.56v6.84h-2.56zM364.85 214.08h2.56v6.84h-2.56zM380.24 214.08h2.56v6.84h-2.56zM388.26 104.64h2.56v6.84h-2.56zM385.70 111.48h2.56v6.84h-2.56zM411.32 132.00h2.56v6.84h-2.56zM388.26 173.04h2.56v6.84h-2.56zM393.39 173.04h2.56v6.84h-2.56zM403.64 173.04h2.56v6.84h-2.56zM385.70 186.72h2.56v6.84h-2.56zM388.26 193.56h2.56v6.84h-2.56zM411.32 193.56h2.56v6.84h-2.56zM385.70 200.40h2.56v6.84h-2.56zM445.40 84.12h2.60v6.84h-2.60zM445.40 132.00h2.60v6.84h-2.60z"/>
<path fill="#1c0a16" d="M97.66 36.24h2.59v6.84h-2.59zM154.71 36.24h2.58v6.84h-2.58zM162.46 56.76h2.58v6.84h-2.58zM146.95 77.28h2.58v6.84h-2.58zM152.12 90.96h5.17v6.84h-5.17zM177.96 104.64h2.58v6.84h-2.58zM185.72 145.68h2.58v6.84h-2.58zM146.95 159.36h2.58v6.84h-2.58zM185.72 200.40h2.58v6.84h-2.58zM191.20 49.92h5.19v6.84h-5.19zM201.58 49.92h5.19v6.84h-5.19zM214.55 49.92h2.59v6.84h-2.59zM232.71 49.92h2.59v6.84h-2.59zM209.36 77.28h2.59v6.84h-2.59zM235.31 90.96h2.59v6.84h-2.59zM235.31 118.32h2.59v6.84h-2.59zM198.98 145.68h2.59v6.84h-2.59zM227.52 152.52h2.59v6.84h-2.59zM232.71 152.52h5.19v6.84h-5.19zM219.74 166.20h2.59v6.84h-2.59zM201.58 173.04h2.59v6.84h-2.59zM201.58 179.88h2.59v6.84h-2.59zM232.71 186.72h2.59v6.84h-2.59zM201.58 200.40h2.59v6.84h-2.59zM227.52 200.40h2.59v6.84h-2.59zM232.71 200.40h2.59v6.84h-2.59zM191.20 220.92h2.59v6.84h-2.59zM201.58 220.92h5.19v6.84h-5.19zM214.55 220.92h2.59v6.84h-2.59zM232.71 220.92h2.59v6.84h-2.59zM260.88 29.40h2.57v6.84h-2.57zM273.74 29.40h2.57v6.84h-2.57zM245.44 36.24h2.57v6.84h-2.57zM240.30 43.08h2.57v6.84h-2.57zM245.44 43.08h2.57v6.84h-2.57zM258.31 43.08h2.57v6.84h-2.57zM276.31 43.08h2.57v6.84h-2.57zM245.44 49.92h5.14v6.84h-5.14zM260.88 49.92h2.57v6.84h-2.57zM273.74 49.92h2.57v6.84h-2.57zM245.44 56.76h2.57v6.84h-2.57zM263.45 56.76h2.57v6.84h-2.57zM284.03 56.76h2.57v6.84h-2.57zM273.74 63.60h5.14v6.84h-5.14zM253.16 77.28h2.57v6.84h-2.57zM268.59 84.12h2.57v6.84h-2.57zM263.45 90.96h2.57v6.84h-2.57zM268.59 90.96h2.57v6.84h-2.57zM278.88 104.64h2.57v6.84h-2.57zM276.31 125.16h2.57v6.84h-2.57zM245.44 132.00h2.57v6.84h-2.57zM258.31 132.00h2.57v6.84h-2.57zM284.03 132.00h2.57v6.84h-2.57zM250.59 138.84h2.57v6.84h-2.57zM284.03 138.84h2.57v6.84h-2.57zM255.73 152.52h2.57v6.84h-2.57zM278.88 152.52h2.57v6.84h-2.57zM242.87 159.36h2.57v6.84h-2.57zM248.02 159.36h2.57v6.84h-2.57zM255.73 159.36h2.57v6.84h-2.57zM284.03 159.36h2.57v6.84h-2.57zM242.87 166.20h2.57v6.84h-2.57zM248.02 166.20h2.57v6.84h-2.57zM266.02 166.20h2.57v6.84h-2.57zM271.17 166.20h2.57v6.84h-2.57zM276.31 166.20h2.57v6.84h-2.57zM258.31 179.88h2.57v6.84h-2.57zM242.87 186.72h2.57v6.84h-2.57zM250.59 186.72h2.57v6.84h-2.57zM260.88 186.72h2.57v6.84h-2.57zM242.87 200.40h2.57v6.84h-2.57zM263.45 200.40h2.57v6.84h-2.57zM268.59 200.40h2.57v6.84h-2.57zM245.44 214.08h2.57v6.84h-2.57zM255.73 214.08h2.57v6.84h-2.57zM284.03 214.08h2.57v6.84h-2.57zM242.87 220.92h2.57v6.84h-2.57zM263.45 220.92h2.57v6.84h-2.57zM271.17 220.92h2.57v6.84h-2.57zM284.03 227.76h2.57v6.84h-2.57zM292.30 29.40h2.60v6.84h-2.60zM289.70 49.92h5.20v6.84h-5.20zM300.10 49.92h5.20v6.84h-5.20zM320.90 56.76h2.60v6.84h-2.60zM318.30 63.60h2.60v6.84h-2.60zM307.90 77.28h2.60v6.84h-2.60zM323.50 77.28h2.60v6.84h-2.60zM331.30 77.28h2.60v6.84h-2.60zM315.70 90.96h5.20v6.84h-5.20zM310.50 97.80h2.60v6.84h-2.60zM328.70 104.64h2.60v6.84h-2.60zM302.70 118.32h2.60v6.84h-2.60zM326.10 145.68h2.60v6.84h-2.60zM302.70 152.52h2.60v6.84h-2.60zM297.50 159.36h2.60v6.84h-2.60zM302.70 159.36h2.60v6.84h-2.60zM326.10 159.36h2.60v6.84h-2.60zM307.90 166.20h2.60v6.84h-2.60zM331.30 173.04h2.60v6.84h-2.60zM289.70 186.72h2.60v6.84h-2.60zM331.30 193.56h2.60v6.84h-2.60zM294.90 200.40h2.60v6.84h-2.60zM305.30 200.40h2.60v6.84h-2.60zM323.50 200.40h2.60v6.84h-2.60zM289.70 220.92h5.20v6.84h-5.20zM305.30 220.92h2.60v6.84h-2.60zM313.10 220.92h2.60v6.84h-2.60zM323.50 220.92h2.60v6.84h-2.60zM367.41 29.40h2.56v6.84h-2.56zM344.33 49.92h5.13v6.84h-5.13zM352.02 63.60h5.13v6.84h-5.13zM354.59 77.28h2.56v6.84h-2.56zM341.76 90.96h2.56v6.84h-2.56zM362.28 90.96h2.56v6.84h-2.56zM349.46 104.64h2.56v6.84h-2.56zM352.02 132.00h2.56v6.84h-2.56zM369.98 132.00h2.56v6.84h-2.56zM359.72 138.84h2.56v6.84h-2.56zM377.67 145.68h2.56v6.84h-2.56zM344.33 159.36h2.56v6.84h-2.56zM354.59 159.36h2.56v6.84h-2.56zM369.98 159.36h2.56v6.84h-2.56zM362.28 166.20h2.56v6.84h-2.56zM349.46 186.72h10.26v6.84h-10.26zM341.76 200.40h2.56v6.84h-2.56zM357.15 200.40h2.56v6.84h-2.56zM377.67 200.40h2.56v6.84h-2.56zM339.20 220.92h2.56v6.84h-2.56zM344.33 220.92h2.56v6.84h-2.56zM349.46 220.92h2.56v6.84h-2.56zM362.28 220.92h5.13v6.84h-5.13zM377.67 220.92h2.56v6.84h-2.56zM395.95 36.24h2.56v6.84h-2.56zM393.39 49.92h5.12v6.84h-5.12zM403.64 49.92h2.56v6.84h-2.56zM416.45 56.76h2.56v6.84h-2.56zM419.01 63.60h2.56v6.84h-2.56zM416.45 84.12h2.56v6.84h-2.56zM393.39 159.36h2.56v6.84h-2.56zM416.45 159.36h2.56v6.84h-2.56zM424.14 173.04h2.56v6.84h-2.56zM413.89 193.56h2.56v6.84h-2.56zM413.89 220.92h2.56v6.84h-2.56zM442.80 36.24h2.60v6.84h-2.60zM458.40 43.08h2.60v6.84h-2.60zM448.00 49.92h2.60v6.84h-2.60zM458.40 49.92h2.60v6.84h-2.60zM448.00 63.60h2.60v6.84h-2.60zM458.40 84.12h2.60v6.84h-2.60zM458.40 90.96h2.60v6.84h-2.60zM471.40 159.36h2.60v6.84h-2.60zM461.00 166.20h2.60v6.84h-2.60zM468.80 173.04h2.60v6.84h-2.60zM458.40 186.72h2.60v6.84h-2.60zM471.40 186.72h2.60v6.84h-2.60zM458.40 193.56h2.60v6.84h-2.60zM458.40 200.40h2.60v6.84h-2.60zM429.80 220.92h2.60v6.84h-2.60z"/>
<path fill="#f2cc3c" d="M105.43 36.24h2.59v6.84h-2.59zM89.89 77.28h2.59v6.84h-2.59zM133.91 173.04h2.59v6.84h-2.59zM92.48 207.24h2.59v6.84h-2.59zM146.95 90.96h2.58v6.84h-2.58zM144.37 179.88h2.58v6.84h-2.58zM144.37 207.24h2.58v6.84h-2.58zM227.52 36.24h2.59v6.84h-2.59zM209.36 63.60h2.59v6.84h-2.59zM245.44 179.88h2.57v6.84h-2.57zM302.70 104.64h2.60v6.84h-2.60zM380.24 145.68h2.56v6.84h-2.56zM341.76 166.20h2.56v6.84h-2.56zM346.89 179.88h2.56v6.84h-2.56zM406.20 49.92h2.56v6.84h-2.56zM388.26 77.28h2.56v6.84h-2.56zM403.64 77.28h2.56v6.84h-2.56zM424.14 145.68h2.56v6.84h-2.56zM390.82 179.88h2.56v6.84h-2.56zM395.95 179.88h2.56v6.84h-2.56zM390.82 207.24h2.56v6.84h-2.56zM424.14 207.24h2.56v6.84h-2.56zM435.00 36.24h2.60v6.84h-2.60zM432.40 77.28h2.60v6.84h-2.60zM468.80 145.68h2.60v6.84h-2.60zM440.20 179.88h2.60v6.84h-2.60zM435.00 207.24h2.60v6.84h-2.60z"/>
<path fill="#4e3e1a" d="M115.78 36.24h2.59v6.84h-2.59zM97.66 56.76h2.59v6.84h-2.59zM95.07 90.96h2.59v6.84h-2.59zM180.55 63.60h2.58v6.84h-2.58zM235.31 29.40h2.59v6.84h-2.59zM204.17 145.68h2.59v6.84h-2.59zM232.71 166.20h2.59v6.84h-2.59zM204.17 200.40h2.59v6.84h-2.59zM235.31 220.92h2.59v6.84h-2.59zM242.87 29.40h2.57v6.84h-2.57zM271.17 29.40h2.57v6.84h-2.57zM284.03 49.92h2.57v6.84h-2.57zM255.73 77.28h2.57v6.84h-2.57zM273.74 77.28h2.57v6.84h-2.57zM255.73 138.84h2.57v6.84h-2.57zM245.44 166.20h2.57v6.84h-2.57zM300.10 56.76h2.60v6.84h-2.60zM294.90 63.60h2.60v6.84h-2.60zM307.90 132.00h2.60v6.84h-2.60zM305.30 159.36h2.60v6.84h-2.60zM302.70 166.20h2.60v6.84h-2.60zM292.30 186.72h5.20v6.84h-5.20zM357.15 29.40h2.56v6.84h-2.56zM372.54 132.00h2.56v6.84h-2.56zM377.67 132.00h2.56v6.84h-2.56zM380.24 159.36h2.56v6.84h-2.56zM352.02 166.20h5.13v6.84h-5.13zM346.89 220.92h2.56v6.84h-2.56zM413.89 29.40h2.56v6.84h-2.56zM421.57 43.08h2.56v6.84h-2.56zM388.26 166.20h2.56v6.84h-2.56zM455.80 36.24h2.60v6.84h-2.60zM468.80 36.24h2.60v6.84h-2.60zM466.20 43.08h2.60v6.84h-2.60zM442.80 49.92h2.60v6.84h-2.60zM437.60 90.96h2.60v6.84h-2.60zM471.40 220.92h2.60v6.84h-2.60z"/>
<path fill="#f12cea" d="M123.55 36.24h2.59v6.84h-2.59zM89.89 84.12h2.59v6.84h-2.59zM89.89 90.96h2.59v6.84h-2.59zM108.02 90.96h2.59v6.84h-2.59zM102.84 97.80h2.59v6.84h-2.59zM108.02 118.32h2.59v6.84h-2.59zM115.78 118.32h2.59v6.84h-2.59zM123.55 118.32h2.59v6.84h-2.59zM115.78 125.16h2.59v6.84h-2.59zM102.84 132.00h5.18v6.84h-5.18zM123.55 132.00h2.59v6.84h-2.59zM89.89 138.84h2.59v6.84h-2.59zM100.25 159.36h2.59v6.84h-2.59zM110.61 159.36h2.59v6.84h-2.59zM102.84 166.20h2.59v6.84h-2.59zM89.89 200.40h2.59v6.84h-2.59zM100.25 207.24h2.59v6.84h-2.59zM110.61 207.24h2.59v6.84h-2.59zM126.14 207.24h2.59v6.84h-2.59zM175.38 29.40h2.58v6.84h-2.58zM144.37 43.08h2.58v6.84h-2.58zM157.29 43.08h2.58v6.84h-2.58zM183.13 56.76h2.58v6.84h-2.58zM159.87 70.44h2.58v6.84h-2.58zM144.37 97.80h2.58v6.84h-2.58zM183.13 97.80h2.58v6.84h-2.58zM146.95 111.48h2.58v6.84h-2.58zM152.12 111.48h2.58v6.84h-2.58zM159.87 111.48h2.58v6.84h-2.58zM183.13 111.48h2.58v6.84h-2.58zM183.13 118.32h2.58v6.84h-2.58zM167.63 145.68h2.58v6.84h-2.58zM149.54 152.52h2.58v6.84h-2.58zM183.13 152.52h2.58v6.84h-2.58zM144.37 159.36h2.58v6.84h-2.58zM180.55 159.36h2.58v6.84h-2.58zM152.12 186.72h2.58v6.84h-2.58zM183.13 200.40h2.58v6.84h-2.58zM180.55 207.24h5.17v6.84h-5.17zM149.54 214.08h2.58v6.84h-2.58zM167.63 214.08h2.58v6.84h-2.58zM219.74 43.08h2.59v6.84h-2.59zM224.93 43.08h2.59v6.84h-2.59zM219.74 49.92h2.59v6.84h-2.59zM224.93 49.92h2.59v6.84h-2.59zM206.77 56.76h5.19v6.84h-5.19zM224.93 56.76h2.59v6.84h-2.59zM227.52 63.60h2.59v6.84h-2.59zM224.93 70.44h2.59v6.84h-2.59zM230.12 70.44h2.59v6.84h-2.59zM224.93 90.96h2.59v6.84h-2.59zM230.12 90.96h2.59v6.84h-2.59zM209.36 111.48h2.59v6.84h-2.59zM217.14 145.68h2.59v6.84h-2.59zM224.93 152.52h2.59v6.84h-2.59zM219.74 173.04h2.59v6.84h-2.59zM227.52 173.04h2.59v6.84h-2.59zM219.74 179.88h2.59v6.84h-2.59zM201.58 186.72h2.59v6.84h-2.59zM206.77 207.24h2.59v6.84h-2.59zM230.12 207.24h2.59v6.84h-2.59zM230.12 220.92h2.59v6.84h-2.59zM201.58 227.76h2.59v6.84h-2.59zM206.77 227.76h2.59v6.84h-2.59zM230.12 227.76h2.59v6.84h-2.59zM268.59 43.08h5.14v6.84h-5.14zM268.59 49.92h2.57v6.84h-2.57zM240.30 70.44h2.57v6.84h-2.57zM260.88 70.44h2.57v6.84h-2.57zM266.02 70.44h5.14v6.84h-5.14zM273.74 70.44h2.57v6.84h-2.57zM268.59 97.80h2.57v6.84h-2.57zM276.31 97.80h2.57v6.84h-2.57zM268.59 111.48h2.57v6.84h-2.57zM273.74 118.32h2.57v6.84h-2.57zM240.30 125.16h2.57v6.84h-2.57zM268.59 132.00h2.57v6.84h-2.57zM240.30 138.84h2.57v6.84h-2.57zM242.87 145.68h2.57v6.84h-2.57zM268.59 145.68h2.57v6.84h-2.57zM250.59 159.36h2.57v6.84h-2.57zM268.59 166.20h2.57v6.84h-2.57zM263.45 179.88h2.57v6.84h-2.57zM271.17 179.88h2.57v6.84h-2.57zM268.59 193.56h2.57v6.84h-2.57zM240.30 207.24h5.14v6.84h-5.14zM276.31 207.24h2.57v6.84h-2.57zM273.74 214.08h5.14v6.84h-5.14zM313.10 36.24h2.60v6.84h-2.60zM305.30 56.76h2.60v6.84h-2.60zM297.50 63.60h2.60v6.84h-2.60zM305.30 77.28h2.60v6.84h-2.60zM333.90 84.12h2.60v6.84h-2.60zM305.30 104.64h5.20v6.84h-5.20zM333.90 104.64h2.60v6.84h-2.60zM313.10 138.84h2.60v6.84h-2.60zM333.90 145.68h2.60v6.84h-2.60zM323.50 166.20h2.60v6.84h-2.60zM305.30 179.88h2.60v6.84h-2.60zM331.30 179.88h2.60v6.84h-2.60zM323.50 214.08h2.60v6.84h-2.60zM344.33 43.08h2.56v6.84h-2.56zM375.11 43.08h2.56v6.84h-2.56zM375.11 63.60h2.56v6.84h-2.56zM339.20 77.28h2.56v6.84h-2.56zM367.41 97.80h2.56v6.84h-2.56zM367.41 104.64h2.56v6.84h-2.56zM367.41 111.48h2.56v6.84h-2.56zM367.41 125.16h2.56v6.84h-2.56zM375.11 125.16h2.56v6.84h-2.56zM367.41 132.00h2.56v6.84h-2.56zM354.59 138.84h2.56v6.84h-2.56zM369.98 138.84h2.56v6.84h-2.56zM344.33 152.52h2.56v6.84h-2.56zM369.98 173.04h2.56v6.84h-2.56zM375.11 179.88h2.56v6.84h-2.56zM339.20 227.76h2.56v6.84h-2.56zM375.11 227.76h2.56v6.84h-2.56zM390.82 43.08h2.56v6.84h-2.56zM401.07 43.08h2.56v6.84h-2.56zM401.07 49.92h2.56v6.84h-2.56zM413.89 63.60h5.12v6.84h-5.12zM413.89 77.28h2.56v6.84h-2.56zM390.82 90.96h2.56v6.84h-2.56zM419.01 90.96h2.56v6.84h-2.56zM390.82 97.80h2.56v6.84h-2.56zM419.01 104.64h2.56v6.84h-2.56zM390.82 132.00h2.56v6.84h-2.56zM401.07 138.84h2.56v6.84h-2.56zM408.76 145.68h2.56v6.84h-2.56zM390.82 166.20h2.56v6.84h-2.56zM413.89 179.88h2.56v6.84h-2.56zM390.82 200.40h2.56v6.84h-2.56zM390.82 227.76h2.56v6.84h-2.56zM437.60 36.24h2.60v6.84h-2.60zM440.20 49.92h2.60v6.84h-2.60zM429.80 63.60h2.60v6.84h-2.60zM463.60 63.60h2.60v6.84h-2.60zM429.80 70.44h2.60v6.84h-2.60zM461.00 70.44h2.60v6.84h-2.60zM429.80 84.12h2.60v6.84h-2.60zM437.60 111.48h2.60v6.84h-2.60zM468.80 111.48h2.60v6.84h-2.60zM437.60 138.84h2.60v6.84h-2.60zM455.80 138.84h2.60v6.84h-2.60zM429.80 152.52h2.60v6.84h-2.60zM450.60 152.52h2.60v6.84h-2.60zM437.60 159.36h2.60v6.84h-2.60zM450.60 166.20h2.60v6.84h-2.60zM450.60 186.72h2.60v6.84h-2.60zM455.80 193.56h2.60v6.84h-2.60zM466.20 193.56h2.60v6.84h-2.60zM450.60 220.92h2.60v6.84h-2.60z"/>
<path fill="#9a0a8e" d="M131.32 36.24h2.59v6.84h-2.59zM108.02 63.60h2.59v6.84h-2.59zM133.91 63.60h2.59v6.84h-2.59zM118.37 84.12h2.59v6.84h-2.59zM89.89 159.36h2.59v6.84h-2.59zM95.07 159.36h2.59v6.84h-2.59zM123.55 186.72h2.59v6.84h-2.59zM108.02 200.40h5.18v6.84h-5.18zM159.87 63.60h2.58v6.84h-2.58zM175.38 63.60h2.58v6.84h-2.58zM149.54 118.32h2.58v6.84h-2.58zM149.54 125.16h2.58v6.84h-2.58zM152.12 159.36h2.58v6.84h-2.58zM157.29 200.40h7.75v6.84h-7.75zM214.55 43.08h2.59v6.84h-2.59zM222.33 49.92h2.59v6.84h-2.59zM224.93 63.60h2.59v6.84h-2.59zM196.39 90.96h2.59v6.84h-2.59zM209.36 90.96h2.59v6.84h-2.59zM198.98 138.84h2.59v6.84h-2.59zM214.55 145.68h2.59v6.84h-2.59zM204.17 159.36h5.19v6.84h-5.19zM193.79 166.20h2.59v6.84h-2.59zM196.39 179.88h2.59v6.84h-2.59zM232.71 193.56h5.19v6.84h-5.19zM211.96 200.40h2.59v6.84h-2.59zM242.87 36.24h2.57v6.84h-2.57zM281.46 43.08h2.57v6.84h-2.57zM260.88 56.76h2.57v6.84h-2.57zM276.31 56.76h2.57v6.84h-2.57zM245.44 70.44h2.57v6.84h-2.57zM248.02 84.12h5.14v6.84h-5.14zM276.31 145.68h2.57v6.84h-2.57zM255.73 173.04h5.14v6.84h-5.14zM242.87 193.56h12.86v6.84h-12.86zM250.59 227.76h5.14v6.84h-5.14zM266.02 227.76h5.14v6.84h-5.14zM289.70 132.00h10.40v6.84h-10.40zM297.50 227.76h5.20v6.84h-5.20zM318.30 227.76h5.20v6.84h-5.20zM346.89 70.44h2.56v6.84h-2.56zM419.01 49.92h7.69v6.84h-7.69zM419.01 186.72h2.56v6.84h-2.56zM393.39 200.40h5.12v6.84h-5.12zM429.80 132.00h5.20v6.84h-5.20zM440.20 214.08h2.60v6.84h-2.60z"/>
<path fill="#f6ee1c" d="M92.48 56.76h5.18v6.84h-5.18zM133.91 56.76h2.59v6.84h-2.59zM131.32 63.60h2.59v6.84h-2.59zM131.32 145.68h5.18v6.84h-5.18zM146.95 56.76h5.17v6.84h-5.17zM139.20 63.60h2.58v6.84h-2.58zM183.13 63.60h2.58v6.84h-2.58zM141.78 77.28h2.58v6.84h-2.58zM139.20 90.96h2.58v6.84h-2.58zM183.13 145.68h2.58v6.84h-2.58zM232.71 29.40h2.59v6.84h-2.59zM201.58 36.24h5.19v6.84h-5.19zM232.71 36.24h2.59v6.84h-2.59zM232.71 43.08h2.59v6.84h-2.59zM198.98 56.76h5.19v6.84h-5.19zM222.33 56.76h2.59v6.84h-2.59zM227.52 56.76h2.59v6.84h-2.59zM235.31 56.76h2.59v6.84h-2.59zM232.71 63.60h2.59v6.84h-2.59zM191.20 77.28h5.19v6.84h-5.19zM198.98 77.28h2.59v6.84h-2.59zM198.98 90.96h2.59v6.84h-2.59zM204.17 90.96h2.59v6.84h-2.59zM204.17 125.16h2.59v6.84h-2.59zM227.52 145.68h2.59v6.84h-2.59zM232.71 145.68h5.19v6.84h-5.19zM235.31 173.04h2.59v6.84h-2.59zM235.31 200.40h2.59v6.84h-2.59zM196.39 207.24h2.59v6.84h-2.59zM198.98 220.92h2.59v6.84h-2.59zM206.77 220.92h2.59v6.84h-2.59zM240.30 29.40h2.57v6.84h-2.57zM253.16 29.40h5.14v6.84h-5.14zM278.88 29.40h2.57v6.84h-2.57zM284.03 29.40h2.57v6.84h-2.57zM253.16 36.24h5.14v6.84h-5.14zM278.88 36.24h2.57v6.84h-2.57zM284.03 36.24h2.57v6.84h-2.57zM273.74 43.08h2.57v6.84h-2.57zM278.88 43.08h2.57v6.84h-2.57zM284.03 43.08h2.57v6.84h-2.57zM240.30 49.92h2.57v6.84h-2.57zM263.45 49.92h2.57v6.84h-2.57zM248.02 56.76h5.14v6.84h-5.14zM273.74 56.76h2.57v6.84h-2.57zM278.88 56.76h2.57v6.84h-2.57zM242.87 63.60h2.57v6.84h-2.57zM253.16 63.60h7.72v6.84h-7.72zM278.88 63.60h2.57v6.84h-2.57zM284.03 63.60h2.57v6.84h-2.57zM240.30 77.28h5.14v6.84h-5.14zM258.31 77.28h5.14v6.84h-5.14zM276.31 77.28h5.14v6.84h-5.14zM284.03 77.28h2.57v6.84h-2.57zM240.30 90.96h23.15v6.84h-23.15zM266.02 90.96h2.57v6.84h-2.57zM273.74 90.96h7.72v6.84h-7.72zM284.03 90.96h2.57v6.84h-2.57zM240.30 97.80h2.57v6.84h-2.57zM278.88 97.80h2.57v6.84h-2.57zM284.03 97.80h2.57v6.84h-2.57zM284.03 104.64h2.57v6.84h-2.57zM284.03 111.48h2.57v6.84h-2.57zM284.03 118.32h2.57v6.84h-2.57zM284.03 125.16h2.57v6.84h-2.57zM278.88 132.00h2.57v6.84h-2.57zM278.88 138.84h2.57v6.84h-2.57zM284.03 145.68h2.57v6.84h-2.57zM278.88 159.36h2.57v6.84h-2.57zM240.30 166.20h2.57v6.84h-2.57zM255.73 166.20h5.14v6.84h-5.14zM273.74 166.20h2.57v6.84h-2.57zM278.88 166.20h2.57v6.84h-2.57zM284.03 166.20h2.57v6.84h-2.57zM273.74 173.04h2.57v6.84h-2.57zM278.88 173.04h2.57v6.84h-2.57zM284.03 173.04h2.57v6.84h-2.57zM240.30 186.72h2.57v6.84h-2.57zM248.02 186.72h2.57v6.84h-2.57zM253.16 186.72h7.72v6.84h-7.72zM271.17 186.72h2.57v6.84h-2.57zM276.31 186.72h5.14v6.84h-5.14zM284.03 186.72h2.57v6.84h-2.57zM271.17 193.56h2.57v6.84h-2.57zM278.88 193.56h2.57v6.84h-2.57zM284.03 193.56h2.57v6.84h-2.57zM240.30 200.40h2.57v6.84h-2.57zM245.44 200.40h10.29v6.84h-10.29zM258.31 200.40h2.57v6.84h-2.57zM266.02 200.40h2.57v6.84h-2.57zM271.17 200.40h10.29v6.84h-10.29zM284.03 200.40h2.57v6.84h-2.57zM245.44 207.24h2.57v6.84h-2.57zM284.03 207.24h2.57v6.84h-2.57zM240.30 220.92h2.57v6.84h-2.57zM245.44 220.92h2.57v6.84h-2.57zM250.59 220.92h12.86v6.84h-12.86zM266.02 220.92h2.57v6.84h-2.57zM273.74 220.92h7.72v6.84h-7.72zM284.03 220.92h2.57v6.84h-2.57zM302.70 29.40h2.60v6.84h-2.60zM310.50 29.40h2.60v6.84h-2.60zM326.10 29.40h2.60v6.84h-2.60zM333.90 29.40h2.60v6.84h-2.60zM310.50 43.08h2.60v6.84h-2.60zM313.10 49.92h2.60v6.84h-2.60zM294.90 56.76h5.20v6.84h-5.20zM326.10 56.76h2.60v6.84h-2.60zM333.90 56.76h2.60v6.84h-2.60zM292.30 63.60h2.60v6.84h-2.60zM302.70 63.60h5.20v6.84h-5.20zM310.50 63.60h2.60v6.84h-2.60zM320.90 63.60h2.60v6.84h-2.60zM326.10 63.60h2.60v6.84h-2.60zM331.30 63.60h5.20v6.84h-5.20zM292.30 77.28h2.60v6.84h-2.60zM310.50 77.28h2.60v6.84h-2.60zM326.10 77.28h2.60v6.84h-2.60zM333.90 77.28h2.60v6.84h-2.60zM289.70 90.96h5.20v6.84h-5.20zM297.50 90.96h18.20v6.84h-18.20zM326.10 90.96h2.60v6.84h-2.60zM333.90 90.96h2.60v6.84h-2.60zM333.90 97.80h2.60v6.84h-2.60zM331.30 104.64h2.60v6.84h-2.60zM331.30 118.32h5.20v6.84h-5.20zM302.70 125.16h2.60v6.84h-2.60zM302.70 132.00h2.60v6.84h-2.60zM333.90 132.00h2.60v6.84h-2.60zM310.50 138.84h2.60v6.84h-2.60zM331.30 145.68h2.60v6.84h-2.60zM310.50 152.52h2.60v6.84h-2.60zM292.30 166.20h2.60v6.84h-2.60zM310.50 166.20h2.60v6.84h-2.60zM326.10 166.20h2.60v6.84h-2.60zM333.90 166.20h2.60v6.84h-2.60zM333.90 173.04h2.60v6.84h-2.60zM300.10 179.88h2.60v6.84h-2.60zM333.90 179.88h2.60v6.84h-2.60zM302.70 186.72h5.20v6.84h-5.20zM310.50 186.72h2.60v6.84h-2.60zM318.30 186.72h2.60v6.84h-2.60zM326.10 186.72h2.60v6.84h-2.60zM331.30 186.72h5.20v6.84h-5.20zM333.90 193.56h2.60v6.84h-2.60zM292.30 200.40h2.60v6.84h-2.60zM300.10 200.40h5.20v6.84h-5.20zM307.90 200.40h5.20v6.84h-5.20zM320.90 200.40h2.60v6.84h-2.60zM326.10 200.40h2.60v6.84h-2.60zM331.30 200.40h5.20v6.84h-5.20zM294.90 207.24h2.60v6.84h-2.60zM331.30 207.24h5.20v6.84h-5.20zM310.50 214.08h2.60v6.84h-2.60zM300.10 220.92h2.60v6.84h-2.60zM307.90 220.92h5.20v6.84h-5.20zM315.70 220.92h2.60v6.84h-2.60zM320.90 220.92h2.60v6.84h-2.60zM326.10 220.92h2.60v6.84h-2.60zM333.90 220.92h2.60v6.84h-2.60zM349.46 29.40h2.56v6.84h-2.56zM359.72 49.92h2.56v6.84h-2.56zM344.33 56.76h2.56v6.84h-2.56zM380.24 56.76h2.56v6.84h-2.56zM357.15 63.60h2.56v6.84h-2.56zM377.67 63.60h2.56v6.84h-2.56zM341.76 77.28h2.56v6.84h-2.56zM339.20 90.96h2.56v6.84h-2.56zM344.33 90.96h2.56v6.84h-2.56zM349.46 90.96h7.69v6.84h-7.69zM359.72 90.96h2.56v6.84h-2.56zM364.85 90.96h5.13v6.84h-5.13zM380.24 90.96h2.56v6.84h-2.56zM339.20 97.80h2.56v6.84h-2.56zM380.24 97.80h2.56v6.84h-2.56zM349.46 132.00h2.56v6.84h-2.56zM380.24 132.00h2.56v6.84h-2.56zM380.24 166.20h2.56v6.84h-2.56zM354.59 200.40h2.56v6.84h-2.56zM359.72 200.40h2.56v6.84h-2.56zM364.85 200.40h7.69v6.84h-7.69zM380.24 200.40h2.56v6.84h-2.56zM352.02 220.92h5.13v6.84h-5.13zM367.41 220.92h5.13v6.84h-5.13zM385.70 49.92h5.12v6.84h-5.12zM390.82 56.76h5.12v6.84h-5.12zM424.14 63.60h2.56v6.84h-2.56zM393.39 90.96h2.56v6.84h-2.56zM398.51 90.96h2.56v6.84h-2.56zM413.89 200.40h2.56v6.84h-2.56zM440.20 36.24h2.60v6.84h-2.60zM445.40 36.24h2.60v6.84h-2.60zM429.80 49.92h2.60v6.84h-2.60zM450.60 49.92h2.60v6.84h-2.60zM435.00 56.76h2.60v6.84h-2.60zM440.20 56.76h2.60v6.84h-2.60zM471.40 56.76h2.60v6.84h-2.60zM466.20 63.60h5.20v6.84h-5.20zM471.40 90.96h2.60v6.84h-2.60zM471.40 97.80h2.60v6.84h-2.60zM471.40 166.20h2.60v6.84h-2.60zM471.40 193.56h2.60v6.84h-2.60zM471.40 200.40h2.60v6.84h-2.60zM468.80 207.24h5.20v6.84h-5.20z"/>
<path fill="#b05a50" d="M110.61 56.76h2.59v6.84h-2.59z"/>
<path fill="#720a62" d="M87.30 63.60h2.59v6.84h-2.59zM100.25 104.64h2.59v6.84h-2.59zM100.25 125.16h2.59v6.84h-2.59zM128.73 138.84h2.59v6.84h-2.59zM97.66 173.04h2.59v6.84h-2.59zM97.66 200.40h5.18v6.84h-5.18zM133.91 200.40h2.59v6.84h-2.59zM152.12 49.92h5.17v6.84h-5.17zM144.37 63.60h2.58v6.84h-2.58zM167.63 63.60h2.58v6.84h-2.58zM139.20 77.28h2.58v6.84h-2.58zM167.63 84.12h2.58v6.84h-2.58zM141.78 90.96h5.17v6.84h-5.17zM177.96 152.52h2.58v6.84h-2.58zM170.21 166.20h2.58v6.84h-2.58zM149.54 173.04h2.58v6.84h-2.58zM167.63 179.88h2.58v6.84h-2.58zM172.79 186.72h5.17v6.84h-5.17zM144.37 200.40h2.58v6.84h-2.58zM144.37 220.92h5.17v6.84h-5.17zM154.71 220.92h5.17v6.84h-5.17zM165.04 220.92h2.58v6.84h-2.58zM198.98 29.40h5.19v6.84h-5.19zM224.93 29.40h5.19v6.84h-5.19zM196.39 36.24h2.59v6.84h-2.59zM196.39 43.08h2.59v6.84h-2.59zM206.77 49.92h2.59v6.84h-2.59zM235.31 49.92h2.59v6.84h-2.59zM230.12 56.76h2.59v6.84h-2.59zM217.14 70.44h2.59v6.84h-2.59zM201.58 84.12h2.59v6.84h-2.59zM201.58 90.96h2.59v6.84h-2.59zM227.52 90.96h2.59v6.84h-2.59zM204.17 104.64h2.59v6.84h-2.59zM232.71 104.64h2.59v6.84h-2.59zM217.14 111.48h2.59v6.84h-2.59zM235.31 138.84h2.59v6.84h-2.59zM206.77 145.68h2.59v6.84h-2.59zM201.58 152.52h2.59v6.84h-2.59zM206.77 152.52h2.59v6.84h-2.59zM198.98 159.36h2.59v6.84h-2.59zM204.17 166.20h5.19v6.84h-5.19zM227.52 166.20h2.59v6.84h-2.59zM196.39 200.40h2.59v6.84h-2.59zM206.77 200.40h2.59v6.84h-2.59zM232.71 207.24h2.59v6.84h-2.59zM227.52 214.08h2.59v6.84h-2.59zM193.79 220.92h5.19v6.84h-5.19zM222.33 220.92h2.59v6.84h-2.59zM245.44 29.40h7.72v6.84h-7.72zM258.31 36.24h2.57v6.84h-2.57zM253.16 43.08h5.14v6.84h-5.14zM253.16 49.92h2.57v6.84h-2.57zM258.31 49.92h2.57v6.84h-2.57zM276.31 49.92h5.14v6.84h-5.14zM260.88 63.60h5.14v6.84h-5.14zM240.30 104.64h2.57v6.84h-2.57zM253.16 104.64h2.57v6.84h-2.57zM250.59 118.32h5.14v6.84h-5.14zM284.03 152.52h2.57v6.84h-2.57zM273.74 159.36h2.57v6.84h-2.57zM250.59 166.20h2.57v6.84h-2.57zM260.88 166.20h2.57v6.84h-2.57zM250.59 173.04h2.57v6.84h-2.57zM276.31 173.04h2.57v6.84h-2.57zM266.02 186.72h2.57v6.84h-2.57zM240.30 193.56h2.57v6.84h-2.57zM255.73 193.56h5.14v6.84h-5.14zM266.02 214.08h2.57v6.84h-2.57zM292.30 36.24h2.60v6.84h-2.60zM310.50 36.24h2.60v6.84h-2.60zM333.90 43.08h2.60v6.84h-2.60zM297.50 49.92h2.60v6.84h-2.60zM313.10 63.60h2.60v6.84h-2.60zM307.90 84.12h2.60v6.84h-2.60zM320.90 90.96h5.20v6.84h-5.20zM313.10 104.64h2.60v6.84h-2.60zM320.90 118.32h5.20v6.84h-5.20zM331.30 125.16h5.20v6.84h-5.20zM318.30 132.00h7.80v6.84h-7.80zM300.10 138.84h2.60v6.84h-2.60zM326.10 152.52h2.60v6.84h-2.60zM318.30 159.36h5.20v6.84h-5.20zM297.50 166.20h2.60v6.84h-2.60zM318.30 166.20h5.20v6.84h-5.20zM302.70 173.04h2.60v6.84h-2.60zM307.90 179.88h5.20v6.84h-5.20zM297.50 186.72h2.60v6.84h-2.60zM313.10 186.72h2.60v6.84h-2.60zM318.30 193.56h2.60v6.84h-2.60zM315.70 200.40h5.20v6.84h-5.20zM310.50 207.24h2.60v6.84h-2.60zM300.10 214.08h2.60v6.84h-2.60zM302.70 220.92h2.60v6.84h-2.60zM328.70 220.92h2.60v6.84h-2.60zM349.46 36.24h2.56v6.84h-2.56zM352.02 49.92h7.69v6.84h-7.69zM362.28 49.92h10.26v6.84h-10.26zM375.11 49.92h2.56v6.84h-2.56zM380.24 49.92h2.56v6.84h-2.56zM367.41 56.76h5.13v6.84h-5.13zM341.76 63.60h2.56v6.84h-2.56zM369.98 63.60h2.56v6.84h-2.56zM372.54 77.28h2.56v6.84h-2.56zM354.59 84.12h2.56v6.84h-2.56zM367.41 84.12h5.13v6.84h-5.13zM369.98 118.32h2.56v6.84h-2.56zM349.46 125.16h2.56v6.84h-2.56zM369.98 152.52h2.56v6.84h-2.56zM339.20 159.36h5.13v6.84h-5.13zM359.72 159.36h2.56v6.84h-2.56zM367.41 166.20h5.13v6.84h-5.13zM372.54 186.72h2.56v6.84h-2.56zM380.24 220.92h2.56v6.84h-2.56zM419.01 29.40h2.56v6.84h-2.56zM424.14 29.40h2.56v6.84h-2.56zM413.89 49.92h2.56v6.84h-2.56zM406.20 56.76h2.56v6.84h-2.56zM395.95 70.44h2.56v6.84h-2.56zM413.89 84.12h2.56v6.84h-2.56zM419.01 84.12h2.56v6.84h-2.56zM398.51 104.64h2.56v6.84h-2.56zM416.45 104.64h2.56v6.84h-2.56zM401.07 159.36h2.56v6.84h-2.56zM393.39 166.20h2.56v6.84h-2.56zM416.45 166.20h2.56v6.84h-2.56zM395.95 173.04h2.56v6.84h-2.56zM406.20 186.72h2.56v6.84h-2.56zM413.89 186.72h2.56v6.84h-2.56zM424.14 186.72h2.56v6.84h-2.56zM388.26 200.40h2.56v6.84h-2.56zM385.70 220.92h2.56v6.84h-2.56zM458.40 29.40h2.60v6.84h-2.60zM440.20 70.44h2.60v6.84h-2.60zM432.40 90.96h2.60v6.84h-2.60zM463.60 104.64h2.60v6.84h-2.60zM466.20 132.00h5.20v6.84h-5.20zM458.40 159.36h5.20v6.84h-5.20zM466.20 166.20h2.60v6.84h-2.60zM463.60 173.04h2.60v6.84h-2.60zM445.40 179.88h2.60v6.84h-2.60zM442.80 200.40h2.60v6.84h-2.60zM437.60 220.92h2.60v6.84h-2.60zM458.40 220.92h2.60v6.84h-2.60zM466.20 220.92h2.60v6.84h-2.60z"/>
<path fill="#3e0a32" d="M115.78 63.60h2.59v6.84h-2.59zM126.14 166.20h2.59v6.84h-2.59zM118.37 200.40h2.59v6.84h-2.59zM146.95 166.20h2.58v6.84h-2.58zM149.54 200.40h2.58v6.84h-2.58zM170.21 200.40h2.58v6.84h-2.58zM214.55 36.24h2.59v6.84h-2.59zM191.20 63.60h2.59v6.84h-2.59zM219.74 63.60h2.59v6.84h-2.59zM219.74 90.96h2.59v6.84h-2.59zM232.71 173.04h2.59v6.84h-2.59zM281.46 36.24h2.57v6.84h-2.57zM245.44 173.04h2.57v6.84h-2.57zM240.30 179.88h2.57v6.84h-2.57zM273.74 193.56h5.14v6.84h-5.14zM278.88 214.08h2.57v6.84h-2.57zM278.88 227.76h2.57v6.84h-2.57zM331.30 49.92h2.60v6.84h-2.60zM315.70 186.72h2.60v6.84h-2.60zM300.10 193.56h5.20v6.84h-5.20zM294.90 220.92h2.60v6.84h-2.60zM318.30 220.92h2.60v6.84h-2.60zM377.67 29.40h2.56v6.84h-2.56zM377.67 36.24h5.13v6.84h-5.13zM349.46 43.08h2.56v6.84h-2.56zM372.54 49.92h2.56v6.84h-2.56zM377.67 49.92h2.56v6.84h-2.56zM377.67 104.64h2.56v6.84h-2.56zM339.20 132.00h5.13v6.84h-5.13zM380.24 173.04h2.56v6.84h-2.56zM339.20 186.72h5.13v6.84h-5.13zM398.51 43.08h2.56v6.84h-2.56zM388.26 90.96h2.56v6.84h-2.56zM406.20 90.96h2.56v6.84h-2.56zM388.26 132.00h2.56v6.84h-2.56zM416.45 132.00h5.12v6.84h-5.12zM419.01 200.40h2.56v6.84h-2.56zM393.39 220.92h10.25v6.84h-10.25zM421.57 220.92h2.56v6.84h-2.56zM437.60 49.92h2.60v6.84h-2.60zM442.80 220.92h2.60v6.84h-2.60z"/>
<path fill="#f632f2" d="M102.84 84.12h2.59v6.84h-2.59zM108.02 84.12h2.59v6.84h-2.59zM102.84 227.76h2.59v6.84h-2.59zM183.13 43.08h2.58v6.84h-2.58zM175.38 77.28h2.58v6.84h-2.58zM183.13 90.96h2.58v6.84h-2.58zM175.38 111.48h2.58v6.84h-2.58zM144.37 125.16h2.58v6.84h-2.58zM180.55 145.68h2.58v6.84h-2.58zM149.54 193.56h2.58v6.84h-2.58zM144.37 214.08h2.58v6.84h-2.58zM175.38 214.08h2.58v6.84h-2.58zM183.13 214.08h2.58v6.84h-2.58zM230.12 63.60h2.59v6.84h-2.59zM206.77 90.96h2.59v6.84h-2.59zM230.12 104.64h2.59v6.84h-2.59zM230.12 111.48h2.59v6.84h-2.59zM224.93 145.68h2.59v6.84h-2.59zM230.12 145.68h2.59v6.84h-2.59zM230.12 152.52h2.59v6.84h-2.59zM230.12 159.36h2.59v6.84h-2.59zM230.12 173.04h2.59v6.84h-2.59zM230.12 186.72h2.59v6.84h-2.59zM248.02 63.60h2.57v6.84h-2.57zM281.46 63.60h2.57v6.84h-2.57zM242.87 70.44h2.57v6.84h-2.57zM271.17 70.44h2.57v6.84h-2.57zM276.31 70.44h2.57v6.84h-2.57zM242.87 97.80h2.57v6.84h-2.57zM271.17 97.80h2.57v6.84h-2.57zM268.59 125.16h2.57v6.84h-2.57zM271.17 132.00h2.57v6.84h-2.57zM273.74 138.84h2.57v6.84h-2.57zM271.17 159.36h2.57v6.84h-2.57zM263.45 166.20h2.57v6.84h-2.57zM268.59 179.88h2.57v6.84h-2.57zM273.74 179.88h2.57v6.84h-2.57zM271.17 214.08h2.57v6.84h-2.57zM313.10 77.28h2.60v6.84h-2.60zM313.10 97.80h2.60v6.84h-2.60zM323.50 179.88h2.60v6.84h-2.60zM297.50 193.56h2.60v6.84h-2.60zM313.10 193.56h2.60v6.84h-2.60zM323.50 193.56h2.60v6.84h-2.60zM297.50 207.24h2.60v6.84h-2.60zM313.10 207.24h2.60v6.84h-2.60zM313.10 214.08h2.60v6.84h-2.60zM333.90 214.08h2.60v6.84h-2.60zM367.41 70.44h2.56v6.84h-2.56zM344.33 118.32h2.56v6.84h-2.56zM344.33 125.16h2.56v6.84h-2.56zM349.46 138.84h2.56v6.84h-2.56zM367.41 138.84h2.56v6.84h-2.56zM369.98 145.68h2.56v6.84h-2.56zM367.41 179.88h2.56v6.84h-2.56zM367.41 207.24h5.13v6.84h-5.13zM367.41 214.08h2.56v6.84h-2.56zM401.07 132.00h2.56v6.84h-2.56zM390.82 145.68h2.56v6.84h-2.56zM419.01 166.20h2.56v6.84h-2.56z"/>
<path fill="#ff34f8" d="M118.37 104.64h7.77v6.84h-7.77zM89.89 179.88h5.18v6.84h-5.18zM97.66 179.88h5.18v6.84h-5.18zM120.96 200.40h5.18v6.84h-5.18zM139.20 36.24h10.34v6.84h-10.34zM281.46 173.04h2.57v6.84h-2.57zM278.88 179.88h5.14v6.84h-5.14z"/>
<path fill="#7e6c28" d="M152.12 36.24h2.58v6.84h-2.58zM183.13 36.24h2.58v6.84h-2.58zM235.31 36.24h2.59v6.84h-2.59zM235.31 43.08h2.59v6.84h-2.59zM211.96 56.76h2.59v6.84h-2.59zM235.31 166.20h2.59v6.84h-2.59zM224.93 173.04h2.59v6.84h-2.59zM224.93 186.72h2.59v6.84h-2.59zM198.98 200.40h2.59v6.84h-2.59zM219.74 200.40h5.19v6.84h-5.19zM227.52 220.92h2.59v6.84h-2.59zM242.87 49.92h2.57v6.84h-2.57zM250.59 49.92h2.57v6.84h-2.57zM266.02 49.92h2.57v6.84h-2.57zM240.30 63.60h2.57v6.84h-2.57zM271.17 63.60h2.57v6.84h-2.57zM248.02 77.28h2.57v6.84h-2.57zM271.17 90.96h2.57v6.84h-2.57zM278.88 125.16h2.57v6.84h-2.57zM253.16 132.00h2.57v6.84h-2.57zM245.44 186.72h2.57v6.84h-2.57zM273.74 186.72h2.57v6.84h-2.57zM260.88 200.40h2.57v6.84h-2.57zM300.10 36.24h2.60v6.84h-2.60zM333.90 36.24h2.60v6.84h-2.60zM318.30 43.08h2.60v6.84h-2.60zM323.50 63.60h2.60v6.84h-2.60zM294.90 90.96h2.60v6.84h-2.60zM326.10 125.16h2.60v6.84h-2.60zM333.90 159.36h2.60v6.84h-2.60zM300.10 166.20h2.60v6.84h-2.60zM300.10 173.04h2.60v6.84h-2.60zM300.10 186.72h2.60v6.84h-2.60zM323.50 186.72h2.60v6.84h-2.60zM310.50 193.56h2.60v6.84h-2.60zM326.10 193.56h2.60v6.84h-2.60zM313.10 200.40h2.60v6.84h-2.60zM331.30 220.92h2.60v6.84h-2.60zM339.20 49.92h2.56v6.84h-2.56zM349.46 49.92h2.56v6.84h-2.56zM359.72 56.76h2.56v6.84h-2.56zM354.59 97.80h2.56v6.84h-2.56zM359.72 186.72h2.56v6.84h-2.56zM367.41 193.56h2.56v6.84h-2.56zM346.89 200.40h5.13v6.84h-5.13zM359.72 220.92h2.56v6.84h-2.56zM398.51 29.40h2.56v6.84h-2.56zM390.82 49.92h2.56v6.84h-2.56zM398.51 49.92h2.56v6.84h-2.56zM403.64 63.60h2.56v6.84h-2.56zM413.89 90.96h2.56v6.84h-2.56zM388.26 159.36h2.56v6.84h-2.56zM398.51 200.40h2.56v6.84h-2.56zM406.20 200.40h2.56v6.84h-2.56zM471.40 36.24h2.60v6.84h-2.60zM432.40 49.92h2.60v6.84h-2.60zM448.00 77.28h2.60v6.84h-2.60zM471.40 173.04h2.60v6.84h-2.60z"/>
<path fill="#b412aa" d="M139.20 49.92h10.34v6.84h-10.34zM157.29 49.92h15.51v6.84h-15.51zM175.38 49.92h5.17v6.84h-5.17zM149.54 220.92h5.17v6.84h-5.17zM177.96 220.92h10.34v6.84h-10.34zM240.30 84.12h7.72v6.84h-7.72zM253.16 84.12h15.43v6.84h-15.43zM271.17 84.12h15.43v6.84h-15.43zM258.31 104.64h7.72v6.84h-7.72zM240.30 173.04h5.14v6.84h-5.14zM248.02 173.04h2.57v6.84h-2.57zM253.16 173.04h2.57v6.84h-2.57zM260.88 173.04h12.86v6.84h-12.86zM240.30 227.76h10.29v6.84h-10.29zM255.73 227.76h10.29v6.84h-10.29zM271.17 227.76h7.72v6.84h-7.72zM281.46 227.76h2.57v6.84h-2.57zM289.70 227.76h7.80v6.84h-7.80zM302.70 227.76h15.60v6.84h-15.60zM323.50 227.76h13.00v6.84h-13.00z"/>
<path fill="#8a2cae" d="M149.54 49.92h2.58v6.84h-2.58zM139.20 104.64h2.58v6.84h-2.58zM268.59 36.24h2.57v6.84h-2.57zM466.20 49.92h2.60v6.84h-2.60z"/>
<path fill="#405020" d="M139.20 179.88h2.58v6.84h-2.58z"/>
<path fill="#bdb234" d="M204.17 29.40h2.59v6.84h-2.59zM198.98 49.92h2.59v6.84h-2.59zM196.39 56.76h2.59v6.84h-2.59zM198.98 166.20h2.59v6.84h-2.59zM235.31 186.72h2.59v6.84h-2.59zM253.16 125.16h2.57v6.84h-2.57zM253.16 166.20h2.57v6.84h-2.57zM255.73 200.40h2.57v6.84h-2.57zM248.02 220.92h2.57v6.84h-2.57zM313.10 56.76h2.60v6.84h-2.60zM307.90 186.72h2.60v6.84h-2.60zM341.76 49.92h2.56v6.84h-2.56zM357.15 77.28h2.56v6.84h-2.56zM354.59 132.00h2.56v6.84h-2.56zM352.02 159.36h2.56v6.84h-2.56zM367.41 186.72h2.56v6.84h-2.56zM380.24 186.72h2.56v6.84h-2.56zM380.24 193.56h2.56v6.84h-2.56zM380.24 207.24h2.56v6.84h-2.56zM421.57 63.60h2.56v6.84h-2.56zM471.40 132.00h2.60v6.84h-2.60zM435.00 179.88h2.60v6.84h-2.60z"/>
<path fill="#b01cb8" d="M266.02 104.64h5.14v6.84h-5.14z"/>
</g>
<text x="478.8" y="34.9" font-size="7.4" letter-spacing="0.3" fill="#111" stroke="#111" stroke-width="0.06">Fold change</text>
<text x="478.8" y="44.2" font-size="7.4" letter-spacing="0.2" fill="#111" stroke="#111" stroke-width="0.06">(log<tspan font-size="5" dy="1.6">2</tspan><tspan dy="-1.6">)</tspan></text>
<defs><linearGradient id="fc" x1="0" y1="1" x2="0" y2="0"><stop offset="0" stop-color="#f814f4"/><stop offset="0.167" stop-color="#c00cc0"/><stop offset="0.333" stop-color="#700870"/><stop offset="0.42" stop-color="#400440"/><stop offset="0.5" stop-color="#140414"/><stop offset="0.583" stop-color="#202008"/><stop offset="0.667" stop-color="#585810"/><stop offset="0.75" stop-color="#a0a010"/><stop offset="0.833" stop-color="#d4d010"/><stop offset="1" stop-color="#f4f020"/></linearGradient></defs>
<rect x="483.3" y="50.2" width="10.6" height="50.5" fill="url(#fc)"/>
<text x="496.2" y="104.00" font-size="6.4" fill="#111" stroke="#111" stroke-width="0.06">0</text>
<text x="496.2" y="95.67" font-size="6.4" fill="#111" stroke="#111" stroke-width="0.06">1</text>
<text x="496.2" y="87.34" font-size="6.4" fill="#111" stroke="#111" stroke-width="0.06">2</text>
<text x="496.2" y="79.01" font-size="6.4" fill="#111" stroke="#111" stroke-width="0.06">3</text>
<text x="496.2" y="70.68" font-size="6.4" fill="#111" stroke="#111" stroke-width="0.06">4</text>
<text x="496.2" y="62.35" font-size="6.4" fill="#111" stroke="#111" stroke-width="0.06">5</text>
<text x="496.2" y="54.02" font-size="6.4" fill="#111" stroke="#111" stroke-width="0.06">6</text>
<text x="478.9" y="121.1" font-size="7.3" fill="#111" stroke="#111" stroke-width="0.06">Timepoint</text>
<circle cx="488" cy="128.60" r="0.9" fill="#f5786c"/>
<text x="492.3" y="131.20" font-size="7.5" fill="#111" stroke="#111" stroke-width="0.06">−1</text>
<circle cx="488" cy="138.70" r="0.9" fill="#eea025"/>
<text x="492.3" y="141.30" font-size="7.5" fill="#111" stroke="#111" stroke-width="0.06">1</text>
<circle cx="488" cy="148.80" r="0.9" fill="#92b01c"/>
<text x="492.3" y="151.40" font-size="7.5" fill="#111" stroke="#111" stroke-width="0.06">2</text>
<circle cx="488" cy="158.90" r="0.9" fill="#1eb84a"/>
<text x="492.3" y="161.50" font-size="7.5" fill="#111" stroke="#111" stroke-width="0.06">3</text>
<circle cx="488" cy="169.00" r="0.9" fill="#1ec3a8"/>
<text x="492.3" y="171.60" font-size="7.5" fill="#111" stroke="#111" stroke-width="0.06">7</text>
<circle cx="488" cy="179.10" r="0.9" fill="#1db6ea"/>
<text x="492.3" y="181.70" font-size="7.5" fill="#111" stroke="#111" stroke-width="0.06">10</text>
<circle cx="488" cy="189.20" r="0.9" fill="#2e8ef2"/>
<text x="492.3" y="191.80" font-size="7.5" fill="#111" stroke="#111" stroke-width="0.06">14</text>
<circle cx="488" cy="199.30" r="0.9" fill="#de7cf2"/>
<text x="492.3" y="201.90" font-size="7.5" fill="#111" stroke="#111" stroke-width="0.06">21</text>
<circle cx="488" cy="209.40" r="0.9" fill="#f36ac6"/>
<text x="492.3" y="212.00" font-size="7.5" fill="#111" stroke="#111" stroke-width="0.06">28</text>
<line x1="42.2" y1="292.5" x2="42.2" y2="438.6" stroke="#1c1c1c" stroke-width="1.25"/>
<line x1="41.6" y1="438" x2="251.3" y2="438" stroke="#1c1c1c" stroke-width="1.25"/>
<line x1="39.6" y1="434.3" x2="42.2" y2="434.3" stroke="#222" stroke-width="0.8"/>
<text x="36.400000000000006" y="436.90" font-size="7.3" letter-spacing="0.4" text-anchor="end" fill="#111" stroke="#111" stroke-width="0.06">0</text>
<line x1="39.6" y1="395.63" x2="42.2" y2="395.63" stroke="#222" stroke-width="0.8"/>
<text x="36.400000000000006" y="398.23" font-size="7.3" letter-spacing="0.4" text-anchor="end" fill="#111" stroke="#111" stroke-width="0.06">1</text>
<line x1="39.6" y1="356.96000000000004" x2="42.2" y2="356.96000000000004" stroke="#222" stroke-width="0.8"/>
<text x="36.400000000000006" y="359.56" font-size="7.3" letter-spacing="0.4" text-anchor="end" fill="#111" stroke="#111" stroke-width="0.06">2</text>
<line x1="39.6" y1="318.29" x2="42.2" y2="318.29" stroke="#222" stroke-width="0.8"/>
<text x="36.400000000000006" y="320.89" font-size="7.3" letter-spacing="0.4" text-anchor="end" fill="#111" stroke="#111" stroke-width="0.06">3</text>
<line x1="51.50" y1="438" x2="51.50" y2="440.8" stroke="#222" stroke-width="0.8"/>
<text x="51.50" y="450.20" font-size="7.3" text-anchor="middle" fill="#111" stroke="#111" stroke-width="0.06">0</text>
<line x1="99.10" y1="438" x2="99.10" y2="440.8" stroke="#222" stroke-width="0.8"/>
<text x="99.10" y="450.20" font-size="7.3" text-anchor="middle" fill="#111" stroke="#111" stroke-width="0.06">1</text>
<line x1="146.70" y1="438" x2="146.70" y2="440.8" stroke="#222" stroke-width="0.8"/>
<text x="146.70" y="450.20" font-size="7.3" text-anchor="middle" fill="#111" stroke="#111" stroke-width="0.06">2</text>
<line x1="194.30" y1="438" x2="194.30" y2="440.8" stroke="#222" stroke-width="0.8"/>
<text x="194.30" y="450.20" font-size="7.3" text-anchor="middle" fill="#111" stroke="#111" stroke-width="0.06">3</text>
<line x1="241.90" y1="438" x2="241.90" y2="440.8" stroke="#222" stroke-width="0.8"/>
<text x="241.90" y="450.20" font-size="7.3" text-anchor="middle" fill="#111" stroke="#111" stroke-width="0.06">4</text>
<text transform="translate(146.7,463.6) scale(0.70,1)" font-size="9.2" text-anchor="middle" fill="#111" stroke="#111" stroke-width="0.15">Severity</text>
<text transform="translate(25.8,376.3) rotate(-90) scale(0.62,1)" font-size="9.6" text-anchor="middle" fill="#111" stroke="#111" stroke-width="0.15">GM-CSF</text>
<text x="52.5" y="299.2" font-size="7.5" letter-spacing="0.3" fill="#111" stroke="#111" stroke-width="0.06">P = 0.036</text>
<circle cx="51.50" cy="391.76" r="2.25" fill="#dc0a3e"/>
<circle cx="99.10" cy="414.19" r="2.25" fill="#dc0a3e"/>
<circle cx="99.10" cy="416.51" r="2.25" fill="#dc0a3e"/>
<circle cx="99.10" cy="418.83" r="2.25" fill="#dc0a3e"/>
<circle cx="99.10" cy="421.54" r="2.25" fill="#dc0a3e"/>
<circle cx="99.10" cy="424.25" r="2.25" fill="#dc0a3e"/>
<circle cx="99.10" cy="426.57" r="2.25" fill="#dc0a3e"/>
<circle cx="99.10" cy="428.89" r="2.25" fill="#dc0a3e"/>
<circle cx="99.10" cy="430.82" r="2.25" fill="#dc0a3e"/>
<circle cx="146.70" cy="410.71" r="2.25" fill="#dc0a3e"/>
<circle cx="146.70" cy="424.63" r="2.25" fill="#dc0a3e"/>
<circle cx="146.70" cy="428.50" r="2.25" fill="#dc0a3e"/>
<circle cx="194.30" cy="385.19" r="2.25" fill="#dc0a3e"/>
<circle cx="241.90" cy="291.22" r="2.25" fill="#dc0a3e"/>
<line x1="306" y1="292.5" x2="306" y2="438.3" stroke="#1c1c1c" stroke-width="1.25"/>
<line x1="305.4" y1="437.7" x2="514.9" y2="437.7" stroke="#1c1c1c" stroke-width="1.25"/>
<line x1="303.4" y1="431.3" x2="306" y2="431.3" stroke="#222" stroke-width="0.8"/>
<text x="300.2" y="433.90" font-size="7.3" letter-spacing="0.4" text-anchor="end" fill="#111" stroke="#111" stroke-width="0.06">0</text>
<line x1="303.4" y1="401.7" x2="306" y2="401.7" stroke="#222" stroke-width="0.8"/>
<text x="300.2" y="404.30" font-size="7.3" letter-spacing="0.4" text-anchor="end" fill="#111" stroke="#111" stroke-width="0.06">100</text>
<line x1="303.4" y1="372.1" x2="306" y2="372.1" stroke="#222" stroke-width="0.8"/>
<text x="300.2" y="374.70" font-size="7.3" letter-spacing="0.4" text-anchor="end" fill="#111" stroke="#111" stroke-width="0.06">200</text>
<line x1="303.4" y1="342.5" x2="306" y2="342.5" stroke="#222" stroke-width="0.8"/>
<text x="300.2" y="345.10" font-size="7.3" letter-spacing="0.4" text-anchor="end" fill="#111" stroke="#111" stroke-width="0.06">300</text>
<line x1="303.4" y1="312.90000000000003" x2="306" y2="312.90000000000003" stroke="#222" stroke-width="0.8"/>
<text x="300.2" y="315.50" font-size="7.3" letter-spacing="0.4" text-anchor="end" fill="#111" stroke="#111" stroke-width="0.06">400</text>
<line x1="315.00" y1="437.7" x2="315.00" y2="440.5" stroke="#222" stroke-width="0.8"/>
<text x="315.00" y="450.00" font-size="7.3" text-anchor="middle" fill="#111" stroke="#111" stroke-width="0.06">0</text>
<line x1="362.60" y1="437.7" x2="362.60" y2="440.5" stroke="#222" stroke-width="0.8"/>
<text x="362.60" y="450.00" font-size="7.3" text-anchor="middle" fill="#111" stroke="#111" stroke-width="0.06">1</text>
<line x1="410.20" y1="437.7" x2="410.20" y2="440.5" stroke="#222" stroke-width="0.8"/>
<text x="410.20" y="450.00" font-size="7.3" text-anchor="middle" fill="#111" stroke="#111" stroke-width="0.06">2</text>
<line x1="457.80" y1="437.7" x2="457.80" y2="440.5" stroke="#222" stroke-width="0.8"/>
<text x="457.80" y="450.00" font-size="7.3" text-anchor="middle" fill="#111" stroke="#111" stroke-width="0.06">3</text>
<line x1="505.40" y1="437.7" x2="505.40" y2="440.5" stroke="#222" stroke-width="0.8"/>
<text x="505.40" y="450.00" font-size="7.3" text-anchor="middle" fill="#111" stroke="#111" stroke-width="0.06">4</text>
<text transform="translate(410.5,463.2) scale(0.70,1)" font-size="9.2" text-anchor="middle" fill="#111" stroke="#111" stroke-width="0.15">Severity</text>
<text transform="translate(278.7,372.0) rotate(-90) scale(0.62,1)" font-size="9.6" text-anchor="middle" fill="#111" stroke="#111" stroke-width="0.15">IFNg</text>
<text x="315.9" y="299.2" font-size="7.5" letter-spacing="0.3" fill="#111" stroke="#111" stroke-width="0.06">P = 0.045</text>
<circle cx="315.00" cy="431.30" r="2.25" fill="#dc0a3e"/>
<circle cx="362.60" cy="407.03" r="2.25" fill="#dc0a3e"/>
<circle cx="362.60" cy="411.76" r="2.25" fill="#dc0a3e"/>
<circle cx="362.60" cy="416.50" r="2.25" fill="#dc0a3e"/>
<circle cx="362.60" cy="418.28" r="2.25" fill="#dc0a3e"/>
<circle cx="362.60" cy="423.60" r="2.25" fill="#dc0a3e"/>
<circle cx="362.60" cy="425.68" r="2.25" fill="#dc0a3e"/>
<circle cx="362.60" cy="431.30" r="2.25" fill="#dc0a3e"/>
<circle cx="410.20" cy="365.00" r="2.25" fill="#dc0a3e"/>
<circle cx="410.20" cy="417.68" r="2.25" fill="#dc0a3e"/>
<circle cx="410.20" cy="419.46" r="2.25" fill="#dc0a3e"/>
<circle cx="410.20" cy="431.30" r="2.25" fill="#dc0a3e"/>
<circle cx="457.80" cy="431.30" r="2.25" fill="#dc0a3e"/>
<circle cx="505.40" cy="292.18" r="2.25" fill="#dc0a3e"/>
<line x1="41.9" y1="484.2" x2="41.9" y2="637.6" stroke="#1c1c1c" stroke-width="1.25"/>
<line x1="41.3" y1="637" x2="250.8" y2="637" stroke="#1c1c1c" stroke-width="1.25"/>
<line x1="39.3" y1="630.5" x2="41.9" y2="630.5" stroke="#222" stroke-width="0.8"/>
<text x="36.1" y="633.10" font-size="7.3" letter-spacing="0.4" text-anchor="end" fill="#111" stroke="#111" stroke-width="0.06">0</text>
<line x1="39.3" y1="584.5" x2="41.9" y2="584.5" stroke="#222" stroke-width="0.8"/>
<text x="36.1" y="587.10" font-size="7.3" letter-spacing="0.4" text-anchor="end" fill="#111" stroke="#111" stroke-width="0.06">500</text>
<line x1="39.3" y1="538.5" x2="41.9" y2="538.5" stroke="#222" stroke-width="0.8"/>
<text x="36.1" y="541.10" font-size="7.3" letter-spacing="0.4" text-anchor="end" fill="#111" stroke="#111" stroke-width="0.06">1000</text>
<line x1="39.3" y1="492.5" x2="41.9" y2="492.5" stroke="#222" stroke-width="0.8"/>
<text x="36.1" y="495.10" font-size="7.3" letter-spacing="0.4" text-anchor="end" fill="#111" stroke="#111" stroke-width="0.06">1500</text>
<line x1="51.50" y1="637" x2="51.50" y2="639.8" stroke="#222" stroke-width="0.8"/>
<text x="51.50" y="649.00" font-size="7.3" text-anchor="middle" fill="#111" stroke="#111" stroke-width="0.06">0</text>
<line x1="99.10" y1="637" x2="99.10" y2="639.8" stroke="#222" stroke-width="0.8"/>
<text x="99.10" y="649.00" font-size="7.3" text-anchor="middle" fill="#111" stroke="#111" stroke-width="0.06">1</text>
<line x1="146.70" y1="637" x2="146.70" y2="639.8" stroke="#222" stroke-width="0.8"/>
<text x="146.70" y="649.00" font-size="7.3" text-anchor="middle" fill="#111" stroke="#111" stroke-width="0.06">2</text>
<line x1="194.30" y1="637" x2="194.30" y2="639.8" stroke="#222" stroke-width="0.8"/>
<text x="194.30" y="649.00" font-size="7.3" text-anchor="middle" fill="#111" stroke="#111" stroke-width="0.06">3</text>
<line x1="241.90" y1="637" x2="241.90" y2="639.8" stroke="#222" stroke-width="0.8"/>
<text x="241.90" y="649.00" font-size="7.3" text-anchor="middle" fill="#111" stroke="#111" stroke-width="0.06">4</text>
<text transform="translate(146.7,662.6) scale(0.70,1)" font-size="9.2" text-anchor="middle" fill="#111" stroke="#111" stroke-width="0.15">Severity</text>
<text transform="translate(11.8,561.3) rotate(-90) scale(0.62,1)" font-size="9.6" text-anchor="middle" fill="#111" stroke="#111" stroke-width="0.15">IL-6</text>
<text x="52.5" y="497.8" font-size="7.5" letter-spacing="0.3" fill="#111" stroke="#111" stroke-width="0.06">P = 1.59 × 10<tspan font-size="5" dy="-3">−4</tspan></text>
<circle cx="51.50" cy="630.50" r="2.25" fill="#dc0a3e"/>
<circle cx="99.10" cy="630.50" r="2.25" fill="#dc0a3e"/>
<circle cx="146.70" cy="620.84" r="2.25" fill="#dc0a3e"/>
<circle cx="146.70" cy="629.12" r="2.25" fill="#dc0a3e"/>
<circle cx="146.70" cy="630.22" r="2.25" fill="#dc0a3e"/>
<circle cx="194.30" cy="547.70" r="2.25" fill="#dc0a3e"/>
<circle cx="241.90" cy="490.20" r="2.25" fill="#dc0a3e"/>
<line x1="305.6" y1="484.2" x2="305.6" y2="638.1" stroke="#1c1c1c" stroke-width="1.25"/>
<line x1="305.0" y1="637.5" x2="514.9" y2="637.5" stroke="#1c1c1c" stroke-width="1.25"/>
<line x1="303.0" y1="630.6" x2="305.6" y2="630.6" stroke="#222" stroke-width="0.8"/>
<text x="299.8" y="633.20" font-size="7.3" letter-spacing="0.4" text-anchor="end" fill="#111" stroke="#111" stroke-width="0.06">0</text>
<line x1="303.0" y1="596.4" x2="305.6" y2="596.4" stroke="#222" stroke-width="0.8"/>
<text x="299.8" y="599.00" font-size="7.3" letter-spacing="0.4" text-anchor="end" fill="#111" stroke="#111" stroke-width="0.06">20</text>
<line x1="303.0" y1="562.2" x2="305.6" y2="562.2" stroke="#222" stroke-width="0.8"/>
<text x="299.8" y="564.80" font-size="7.3" letter-spacing="0.4" text-anchor="end" fill="#111" stroke="#111" stroke-width="0.06">40</text>
<line x1="303.0" y1="528.0" x2="305.6" y2="528.0" stroke="#222" stroke-width="0.8"/>
<text x="299.8" y="530.60" font-size="7.3" letter-spacing="0.4" text-anchor="end" fill="#111" stroke="#111" stroke-width="0.06">60</text>
<line x1="303.0" y1="493.8" x2="305.6" y2="493.8" stroke="#222" stroke-width="0.8"/>
<text x="299.8" y="496.40" font-size="7.3" letter-spacing="0.4" text-anchor="end" fill="#111" stroke="#111" stroke-width="0.06">80</text>
<line x1="314.80" y1="637.5" x2="314.80" y2="640.3" stroke="#222" stroke-width="0.8"/>
<text x="314.80" y="649.00" font-size="7.3" text-anchor="middle" fill="#111" stroke="#111" stroke-width="0.06">0</text>
<line x1="362.40" y1="637.5" x2="362.40" y2="640.3" stroke="#222" stroke-width="0.8"/>
<text x="362.40" y="649.00" font-size="7.3" text-anchor="middle" fill="#111" stroke="#111" stroke-width="0.06">1</text>
<line x1="410.00" y1="637.5" x2="410.00" y2="640.3" stroke="#222" stroke-width="0.8"/>
<text x="410.00" y="649.00" font-size="7.3" text-anchor="middle" fill="#111" stroke="#111" stroke-width="0.06">2</text>
<line x1="457.60" y1="637.5" x2="457.60" y2="640.3" stroke="#222" stroke-width="0.8"/>
<text x="457.60" y="649.00" font-size="7.3" text-anchor="middle" fill="#111" stroke="#111" stroke-width="0.06">3</text>
<line x1="505.20" y1="637.5" x2="505.20" y2="640.3" stroke="#222" stroke-width="0.8"/>
<text x="505.20" y="649.00" font-size="7.3" text-anchor="middle" fill="#111" stroke="#111" stroke-width="0.06">4</text>
<text transform="translate(410.5,662.6) scale(0.70,1)" font-size="9.2" text-anchor="middle" fill="#111" stroke="#111" stroke-width="0.15">Severity</text>
<text transform="translate(285.5,562.7) rotate(-90) scale(0.62,1)" font-size="9.6" text-anchor="middle" fill="#111" stroke="#111" stroke-width="0.15">IL-5</text>
<text x="316" y="498.0" font-size="7.5" letter-spacing="0.3" fill="#111" stroke="#111" stroke-width="0.06">P = 0.051</text>
<circle cx="314.80" cy="619.49" r="2.25" fill="#dc0a3e"/>
<circle cx="362.40" cy="627.18" r="2.25" fill="#dc0a3e"/>
<circle cx="362.40" cy="629.75" r="2.25" fill="#dc0a3e"/>
<circle cx="410.00" cy="626.15" r="2.25" fill="#dc0a3e"/>
<circle cx="410.00" cy="628.55" r="2.25" fill="#dc0a3e"/>
<circle cx="410.00" cy="630.60" r="2.25" fill="#dc0a3e"/>
<circle cx="457.60" cy="628.55" r="2.25" fill="#dc0a3e"/>
<circle cx="505.20" cy="490.38" r="2.25" fill="#dc0a3e"/>
</svg>
</body></html>
